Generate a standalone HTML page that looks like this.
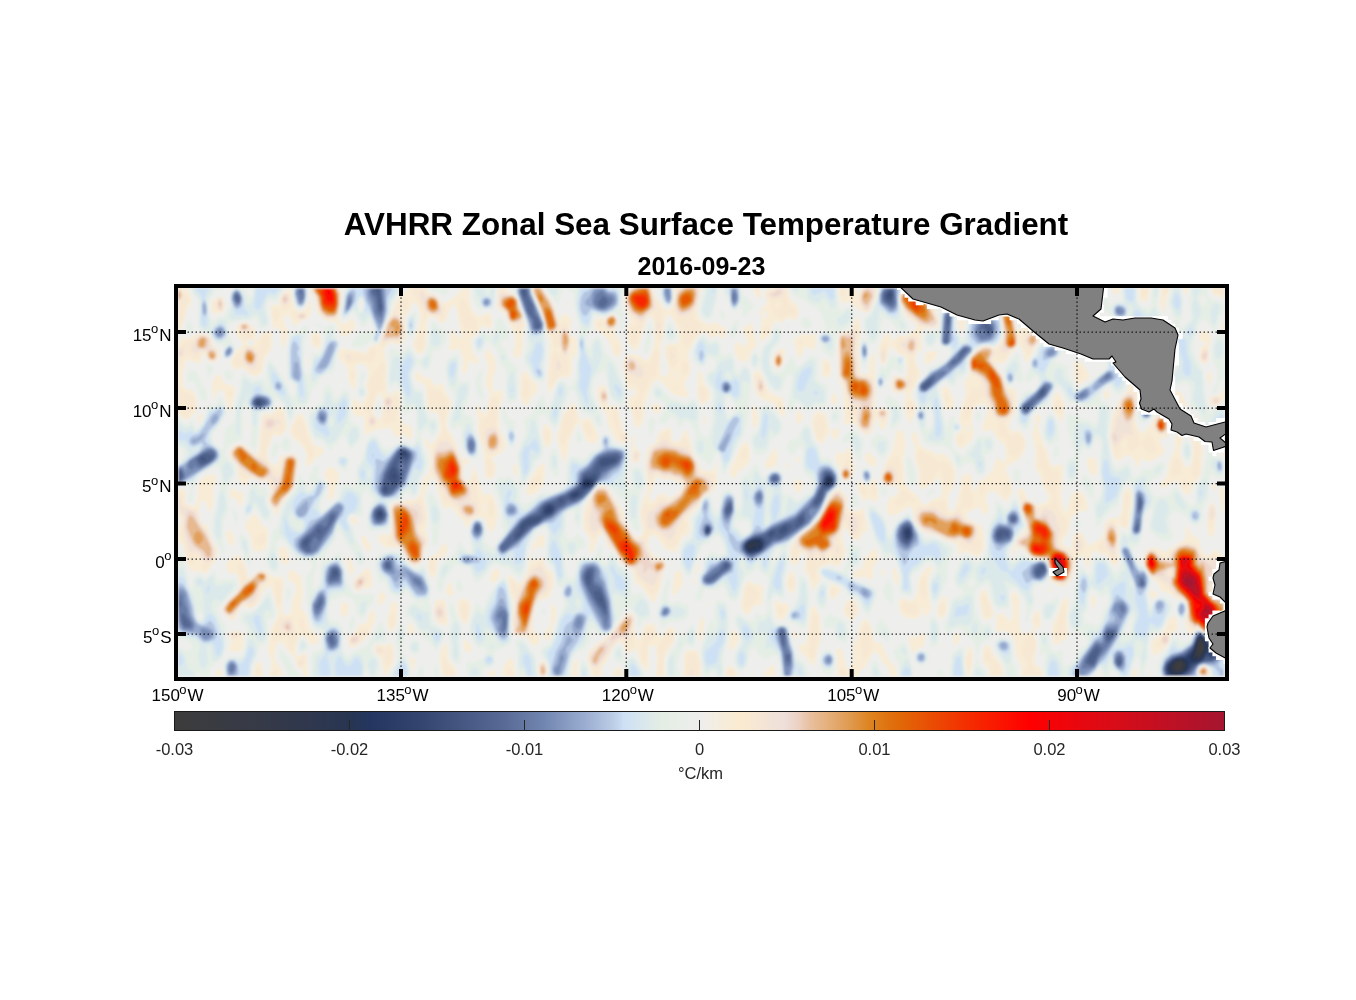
<!DOCTYPE html>
<html><head><meta charset="utf-8"><title>AVHRR Zonal SST Gradient</title>
<style>html,body{margin:0;padding:0;background:#fff;width:1356px;height:1000px;overflow:hidden;position:relative;font-family:"Liberation Sans",sans-serif}</style>
</head><body>
<svg width="1356" height="1000" viewBox="0 0 1356 1000" style="position:absolute;left:0;top:0;will-change:transform">
<rect width="1356" height="1000" fill="#ffffff"/>
<defs><clipPath id="mapclip"><rect x="178" y="288" width="1047" height="389"/></clipPath><filter id="fb" x="-1%" y="-1%" width="102%" height="102%"><feGaussianBlur stdDeviation="0.85"/></filter></defs><g clip-path="url(#mapclip)"><g filter="url(#fb)"><rect x="174" y="284" width="1055" height="397" fill="#eeeeed"/><path d="M179 333l-1 0 0 -45 9 0 4 9 1 5 -5 8 -6 21 -2 2zM283 347l-1 0 -1 -2 0 -12 -1 -4 -1 -1 -5 1 -1 -1 -3 -20 2 -3 6 0 3 -10 5 -4 2 -3 2 0 3 15 2 6 4 2 4 0 3 -3 3 -7 1 -1 1 4 0 9 -2 5 -8 3 -6 5 -1 0 -5 -10 -2 -1 -1 0 -2 3 0 4 4 9 -3 14 -2 2zM346 336l-2 1 -3 -2 -2 -4 -2 -8 -3 -1 -9 -2 -6 -5 -3 -5 -2 -12 -3 -5 -1 -5 31 0 1 6 -1 10 -2 13 0 5 3 1 4 0 6 -4 2 2 1 3 0 4 -2 4 -7 4zM411 439l-2 0 -6 -4 -6 2 -2 0 -4 -8 -2 -1 -14 2 -9 5 -1 0 -1 -6 0 -11 -2 -2 -5 1 -3 -2 -2 -4 0 -5 1 -5 2 -3 2 1 3 6 1 0 5 -8 2 -5 -2 -7 3 -10 -1 -5 -2 -4 -2 -2 -4 0 -5 2 2 7 -1 10 -1 5 -1 1 -1 0 -4 -7 -2 -15 -9 -10 1 -5 2 -3 2 -1 8 2 7 0 6 3 2 -1 5 -6 7 -2 2 -2 7 -21 5 -9 3 -9 6 -8 5 -4 2 -3 19 0 1 4 9 4 5 6 3 1 12 -8 3 -3 1 -4 8 0 1 15 3 9 4 3 3 2 6 -4 3 0 2 3 1 4 0 5 -1 3 -2 1 -5 -3 -2 0 -4 6 -7 7 0 5 2 9 2 3 4 4 -2 5 -2 0 -3 -4 -2 0 -1 2 -2 8 -2 2 -2 1 -1 -3 1 -11 -3 -10 -2 -2 -6 3 -2 -1 -1 -1 2 -19 1 -1 1 1 6 9 1 0 1 -4 -3 -19 -2 -8 -2 -3 -3 2 -5 13 -3 3 -3 0 -5 -6 -5 0 -2 1 -1 7 -1 21 -1 4 -3 3 -3 1 -2 -1 -2 -3 -2 -4 1 -6 5 -14 1 -9 0 -5 -2 -5 -2 -4 -2 0 -2 1 -3 7 -4 6 1 18 -3 8 -3 2 -7 -2 -3 0 -3 2 -2 3 -1 5 3 12 -1 14 1 13 1 2 3 1 5 -6 3 3 2 7 -1 13 0 6 4 6 6 2 2 3 1 6 -2 4zM519 358l-4 0 -2 -4 2 -13 -1 -9 -5 -8 -4 -10 -6 -4 -2 -3 0 -5 1 -14 9 0 1 3 8 5 2 3 2 9 3 7 2 10 -2 9 0 12 -2 9 -2 3zM550 393l-2 -2 -1 -8 2 -21 1 -21 -2 -5 -2 -6 -1 -8 -5 -12 -7 -17 -1 -5 11 0 2 4 7 9 6 15 2 4 3 -6 2 -1 4 4 3 2 0 2 -2 4 0 6 2 6 3 0 2 3 0 12 -2 4 -3 2 0 13 -1 4 -3 3 -7 -1 -3 2 -8 14zM638 427l-2 1 -1 -1 -3 -14 -4 -9 1 -7 1 -1 4 0 1 -2 0 -3 -1 -2 -5 1 -2 -4 -4 -17 0 -6 2 -6 5 -3 9 1 6 5 2 0 2 -2 3 -6 2 -9 0 -20 -2 -6 -2 -1 -2 2 -2 3 -8 28 -2 1 -4 -1 -3 -4 -2 -8 1 -12 3 -5 -7 -16 0 -5 2 -6 3 -5 24 0 3 9 8 11 4 2 3 -2 2 -3 1 -9 0 -8 27 0 -1 8 -3 15 1 5 3 4 6 4 3 0 6 -2 5 4 5 2 0 4 -1 6 -1 1 -1 0 -5 -4 -7 3 -5 -5 -2 -1 -5 3 -5 6 -6 13 3 14 -1 5 -5 10 0 3 3 7 -1 5 -2 0 -5 -2 -7 -1 -12 -14 -3 -1 -4 1 -3 5 -3 10 -3 7 -2 20 -2 2 -3 2zM759 299l-4 -4 -2 -7 8 0 0 7 -1 4 -1 0zM762 341l-2 1 -1 -2 3 -21 -2 -4 0 -3 1 -4 1 -1 2 0 3 -6 0 -2 -3 -4 1 -3 2 -2 5 -2 15 0 3 11 7 6 1 3 1 5 -2 5 -1 2 -2 0 -6 -2 -7 5 -5 -2 -2 1 -1 2 -4 12 -7 5zM867 313l-6 -2 -13 -10 -4 3 -2 0 -2 -6 -2 -10 9 0 1 4 1 0 2 -4 4 0 2 5 1 1 3 -6 16 0 -1 10 -4 9 -2 4 -3 2zM910 423l-2 -2 -4 -13 0 -5 2 -8 0 -2 -11 0 -3 -3 -1 -4 1 -7 2 -4 11 2 1 0 1 -10 -1 -9 -3 -3 -6 -2 -5 -7 -3 4 -3 13 -2 2 -2 -1 -2 -4 -2 -6 1 -7 2 -6 3 -6 2 -2 3 1 4 7 5 -5 3 -1 6 1 9 -7 0 -3 -2 -4 -7 -4 -3 -5 -4 -14 1 -5 2 -3 3 -2 3 0 8 4 6 0 6 6 3 2 2 -2 1 -2 1 -9 27 0 1 11 -2 5 -2 1 -6 -1 -9 4 -7 -2 -2 5 3 10 -1 5 -4 3 -9 -1 -4 4 1 17 -5 4 -2 6 2 7 4 7 -10 21 0 3 4 6 1 4 -3 11 -3 5zM987 294l-6 0 -1 -2 -1 -4 13 0 -2 4 -3 2zM1007 293l-2 -1 -1 -4 4 0 -1 5zM1050 303l-1 0 -5 -12 -1 -1 -4 6 -3 2 -6 -4 -5 0 -2 -2 0 -4 33 0 -1 6 -5 9zM1099 319l-7 -6 -3 -5 -3 -9 -1 -11 11 0 3 24 0 7zM1116 295l-3 -2 -1 -5 8 0 -1 5 -3 2zM1146 301l-4 1 -2 -2 -1 -4 0 -8 11 0 -1 9 -1 3 -2 1zM1164 311l-2 -1 -2 -6 1 -16 9 0 -4 13 -1 9 -1 1zM1187 295l-1 0 -1 -1 -2 -6 5 0 -1 7zM1224 299l-4 -2 -6 -2 -2 -3 -1 -4 13 0 0 11zM222 313l-8 1 -2 -2 -1 -4 0 -4 2 -4 7 -4 3 2 2 5 0 6 -3 4zM1069 330l-2 -1 -1 -1 0 -5 2 -20 1 -4 2 -1 2 2 1 5 -2 20 -1 2 -2 3zM567 307l-1 -4 1 -2 1 3 -1 3zM361 306l-1 0 0 -2 1 -3 1 2 -1 3zM766 318l1 -4 -2 -5 -1 1 -1 7 1 1 2 0zM978 557l-2 0 -9 -5 -3 0 -6 3 -1 -9 -2 -3 -9 -2 -8 -5 -14 -4 -8 -8 -2 -5 -1 -9 -3 -3 -3 0 -7 6 -9 3 -2 -1 -3 -6 2 -8 2 -4 5 -1 2 -2 1 -3 0 -3 -2 -2 -7 1 -4 -2 -4 -4 0 -5 5 -15 7 -11 2 -15 2 -4 3 -1 2 1 2 2 2 11 -1 5 -2 12 2 22 5 7 7 5 4 7 3 3 3 -1 6 -5 5 -1 2 -1 2 -4 0 -4 -2 -9 -1 -3 -5 5 -10 7 -2 0 -2 -1 -1 -4 0 -13 -4 -10 0 -13 -3 -9 0 -7 2 0 3 2 2 10 6 5 3 1 4 1 5 4 6 -2 7 6 2 3 3 8 1 6 -3 12 -5 7 1 12 0 3 2 1 3 -1 2 -4 4 -17 1 -10 2 -4 4 -2 3 1 2 4 1 10 2 4 4 -10 6 -4 8 -9 3 -10 2 -1 7 5 1 -12 -2 -7 -6 -4 -6 -10 -2 0 -5 2 -3 -2 1 -7 5 -12 -1 -4 -3 -3 -8 2 -3 4 -1 14 2 9 -2 7 -5 4 -5 5 -2 -1 -3 -2 -2 -7 1 -4 4 -3 2 -3 0 -3 -3 -5 0 -3 3 -12 4 -12 -2 -11 6 -9 -1 -10 1 -6 6 -8 7 -4 6 0 6 2 3 -2 4 -7 1 -4 -2 -20 3 -4 4 0 3 1 2 2 3 13 2 3 3 -1 6 -7 4 -1 5 1 3 3 4 6 1 4 -10 14 -5 11 -2 2 -1 0 -1 -1 -3 -12 -3 -4 -7 7 -5 8 -3 3 -3 1 -6 -2 8 14 4 10 2 2 5 0 2 3 1 6 -1 13 -2 5 -4 6 -1 5 1 3 2 2 7 0 3 2 3 6 1 6 -2 7 -5 8 -6 2 -4 4 -3 0 0 5 3 5 4 14 -5 11 -1 1 -2 -1 -7 -7 -5 -3 -3 0 -2 2 -2 5 0 4 3 7 -2 5 -2 1 -1 0 -3 -6 -3 -2 -12 7 0 2 2 3 6 3 5 3 3 1 1 2 1 9 0 11 -2 5 -4 4zM962 331l-2 -1 -1 -2 -1 -5 1 -5 3 -4 2 1 1 6 -1 7 -2 3zM619 357l-3 0 -3 -3 -3 -11 -8 -10 -7 -3 -1 -7 2 -4 4 -1 4 1 4 -3 4 -2 3 1 2 2 1 6 -4 9 6 9 2 7 -1 6 -2 3zM666 376l2 -2 1 -3 -4 -18 0 -5 1 -2 2 -2 7 0 3 -1 1 -5 -1 -8 -6 -13 -2 -2 -3 1 -2 5 -2 16 -2 8 0 7 -1 12 1 11 2 2 3 -1zM867 435l-6 -3 -7 -9 -2 0 -5 2 -3 -1 0 -15 -1 -18 -5 -16 -1 -23 1 -15 4 -5 8 -1 7 -15 1 0 1 3 2 14 -3 16 2 23 1 2 3 0 3 0 2 -1 1 -14 2 -6 1 0 1 0 1 7 0 18 1 14 -1 15 1 2 1 0 4 -1 4 0 3 3 1 2 -3 13 -1 3 -2 1 -2 -1 -2 -3 -1 -6 -1 -2 -1 1 -4 12 -2 3 -3 1zM1137 468l-1 -1 -2 -8 -5 -3 -3 -1 -5 5 -3 1 -3 -2 -2 -4 -3 -19 2 -18 6 -16 10 -13 2 -7 -3 -10 -2 -12 -5 -6 -3 -4 -3 -15 -7 5 -4 -1 -2 -3 -1 -5 0 -12 11 3 2 2 3 6 6 -1 2 2 2 6 2 16 4 6 0 11 2 4 5 0 3 -2 3 -4 2 -6 0 -3 -1 -3 -7 -7 0 -4 1 -4 3 -3 4 -1 3 1 1 3 -2 18 5 11 1 5 -3 6 -6 2 -2 2 -5 10 -2 5 -2 21 5 11 2 1 2 -1 8 -9 5 -11 2 -1 3 1 4 2 2 4 2 7 0 7 -3 5 -6 2 -2 1 2 4 4 5 0 2 -1 2 -5 4 -9 5 -8 -3 -2 2 -3 7zM1224 331l-2 -1 -1 -3 1 -4 2 -2 0 10zM257 376l-5 0 -9 -8 -7 2 -3 -2 -3 -5 7 -14 4 -1 1 -1 0 -5 -5 -6 -2 -5 3 -6 4 -3 4 0 3 1 6 5 1 5 1 8 3 -5 3 -3 7 -2 2 2 0 12 -1 5 -6 8 -3 15 -5 3zM748 362l-5 -2 -4 2 -3 -7 -2 -8 2 -4 2 -2 1 1 4 5 2 -1 2 -3 0 -4 -4 -7 0 -3 1 -2 7 -4 2 2 1 9 3 10 0 2 -4 3 -2 3 -3 10zM1206 364l-2 0 -2 -1 -3 -6 1 -8 5 -6 -1 -2 -5 1 0 -1 1 -8 3 -3 6 3 2 4 -2 9 0 12 -1 4 -2 2zM318 349l-4 -2 -3 -4 0 -7 2 -4 5 1 3 4 0 8 -1 3 -2 1zM187 420l-3 -1 -6 -5 0 -71 5 -6 7 1 7 -4 8 0 4 1 2 3 2 7 6 6 1 5 -3 5 -4 2 -5 -2 -4 -7 -2 1 -1 8 -1 1 -11 -4 -3 1 -3 14 0 10 3 4 6 1 2 2 2 5 1 8 -1 7 -9 8zM800 359l-2 -2 -4 -15 0 -2 6 -6 7 1 5 -1 2 0 1 2 1 6 -1 6 -1 2 -2 0 -4 -3 -2 0 -2 2 -4 10zM253 345l2 -2 -2 -3 -3 -1 -2 1 -1 3 1 2 2 1 3 -1zM790 343l-1 -1 2 -2 0 2 -1 1zM1172 368l-2 1 -1 -1 -2 -6 2 -12 1 -4 1 0 3 4 1 8 0 6 -3 4zM780 369l-3 0 -3 -2 -1 -4 -1 -5 2 -4 2 -3 7 -3 2 2 0 5 -2 10 -3 4zM491 479l-4 0 -2 -3 -2 -27 -5 -16 0 -14 -3 -12 0 -2 1 -1 6 8 2 2 2 -1 1 -4 3 -16 -5 -8 3 -18 -1 -5 -3 -6 2 -6 2 -1 6 7 2 8 0 5 -3 9 0 11 1 2 2 1 5 -3 2 3 0 5 -4 11 0 17 1 6 5 8 1 6 -1 4 -2 3 -9 5 -1 2 3 7 0 4 -2 6 -3 3zM571 357l0 -7 -1 5 1 2zM927 365l-2 0 0 -1 0 -11 6 -2 6 0 1 2 -3 6 -8 6zM308 365l-1 -1 0 -4 0 -3 1 -1 1 5 -1 4zM829 377l-2 1 -3 -1 -2 -3 0 -12 1 -2 2 -2 4 3 2 4 0 7 -2 5zM1080 384l-2 1 -2 -2 -2 -7 0 -12 1 -2 2 -1 5 2 6 9 2 4 -2 3 -8 5zM1103 367l-1 1 -1 -1 1 -2 1 0 0 2zM784 417l-3 -2 -8 -12 -10 -3 -7 -6 -2 -9 -1 -11 1 -2 4 -2 1 0 5 9 3 9 3 4 4 3 7 2 2 2 2 13 0 4 -1 1zM417 566l-4 0 -5 -4 -6 -11 -3 -3 -2 -1 -8 1 -4 -1 -6 -5 -1 -4 2 -4 7 1 2 -1 2 -3 0 -13 -1 -10 1 -4 5 -2 7 -1 4 -2 7 1 3 -2 3 -4 1 -4 2 -9 2 -4 4 -5 1 -7 0 -13 -5 -8 0 -6 1 -1 4 7 1 1 5 -6 4 -7 0 -8 -2 -9 -2 -3 -4 1 -2 -1 -3 -6 -1 -16 -2 -6 -2 -2 -5 0 -2 -3 0 -5 1 -2 2 -1 5 7 5 -1 2 1 3 5 2 2 3 0 3 -2 1 0 1 1 2 7 5 7 1 3 0 5 -4 13 0 9 6 9 8 20 2 2 3 -1 4 5 0 1 -5 0 -1 11 0 3 4 4 2 -2 2 -6 0 -8 0 -1 1 1 4 7 4 15 2 6 2 1 6 -2 2 2 4 12 1 8 -2 10 -2 4 -2 3 -3 -1 -4 -11 -1 -2 -2 -1 -5 0 -4 2 -3 3 -3 6 -1 0 -3 -8 -5 -4 -6 -8 -3 -1 -4 2 -2 -1 -8 -27 -2 -3 -2 -1 -7 19 3 18 0 10 -1 7 2 7 0 4 -3 9 -2 9 -3 4 -3 2zM527 405l-2 1 -2 -2 -2 -5 -1 -6 1 -17 2 -4 2 -1 2 1 5 8 5 4 1 3 -1 6 -4 2 -4 8 -2 2zM677 376l1 -2 -1 -2 -2 2 0 2 2 0zM704 405l-2 0 -2 -2 -3 -9 1 -19 1 -4 3 2 2 10 5 7 1 3 0 5 -6 7zM1209 384l-1 -2 -1 -6 1 -4 1 -1 2 2 1 4 -1 5 -2 2zM230 413l-3 -8 -3 -11 -2 -4 -2 0 -2 1 -4 8 -1 0 0 -1 -1 -16 3 -5 3 -3 2 1 5 9 9 2 1 2 0 6 -3 11 -2 8zM624 443l-6 -1 -3 -3 -7 -14 -2 -11 -4 -6 -3 -6 -2 -7 0 -6 1 -2 4 -2 3 1 3 7 0 13 1 1 4 -2 2 0 3 4 5 21 4 4 1 3 -1 4 -3 2zM949 410l-3 0 -1 -2 -3 -13 0 -7 2 -2 2 0 2 2 4 7 2 4 0 8 -2 2 -3 1zM1215 406l-3 -1 -2 -2 -1 -3 0 -2 4 -2 7 -1 2 -5 2 -2 0 13 -6 4 -3 1zM1108 399l-2 0 -2 -3 1 -4 2 -2 2 1 1 3 -1 3 -1 2zM1190 494l-3 1 -3 -2 -6 -12 -5 1 -9 6 -2 0 -2 -2 7 -11 3 -16 5 -9 0 -13 4 -14 -3 -18 -4 -9 1 -3 3 -2 3 0 3 2 4 10 0 7 -3 12 1 3 2 1 2 -1 6 -10 2 0 1 2 1 6 -1 13 6 13 -2 25 -2 4 -6 6 -3 10zM1061 422l-2 -2 -7 -13 2 -11 3 -4 2 1 2 3 4 8 -2 14 -2 4zM835 404l-3 0 -1 -2 1 -6 2 -3 2 2 2 4 -1 3 -2 2zM380 419l2 -5 1 -9 -1 -9 -2 -2 -2 1 -1 2 -4 15 1 2 4 5 1 1 1 -1zM564 462l-1 0 -1 -4 -2 -8 -3 -10 0 -4 3 -11 3 -11 6 -7 4 -5 3 5 4 14 6 -3 4 1 8 14 0 3 -1 5 -2 2 -3 1 -4 -2 -3 -4 -5 -17 -5 7 -5 11 -2 13 -4 10zM658 414l-3 -1 -3 -3 -1 -3 1 -3 6 0 3 2 0 4 -3 4zM755 428l-2 -1 -1 -4 0 -13 2 -4 2 2 2 9 -1 7 -2 4zM276 516l-1 0 -1 -6 -6 -8 0 -3 3 -8 -3 -8 -2 -2 -7 0 -7 -3 -2 1 -4 6 -2 1 -1 -1 -5 -6 -1 -13 -7 -8 -1 -5 1 -4 3 -3 3 -2 4 0 5 1 10 9 2 1 1 -1 4 -38 3 -3 6 1 2 -1 5 -6 2 -1 3 3 2 4 2 15 -2 4 -4 4 -2 0 -4 -1 -3 3 -4 12 0 9 4 5 4 1 1 -1 4 -8 12 -3 2 1 2 2 2 6 -5 26 -10 13 -8 15zM798 424l-1 0 -1 -1 0 -4 0 -5 2 -4 3 3 3 5 -6 6zM823 443l-1 1 -2 -1 -4 -4 -3 -10 -1 -10 3 -6 2 -2 7 2 2 2 4 16 -7 12zM199 423l-1 -1 0 -5 1 -3 2 -1 1 1 0 4 -1 3 -2 2zM307 467l-1 -2 0 -10 -1 -5 -5 -6 -7 -6 -3 -6 0 -4 7 -13 2 -1 3 0 2 3 7 21 2 5 3 3 6 1 2 3 -1 4 -6 3 -7 8 -3 2zM1064 587l-3 0 -10 -5 -2 -4 2 -6 -3 -9 -2 -3 -13 -1 -4 -3 -6 -6 -4 -2 -3 1 -2 6 -1 0 -1 -2 0 -2 3 -5 2 -7 6 -6 3 -4 0 -5 -5 -15 -1 -8 -3 -8 1 -3 3 -2 2 0 4 10 11 7 2 0 6 -3 3 -4 -2 -5 -5 -9 -2 -9 -4 -5 -1 -4 1 -16 -4 -15 3 -10 0 -8 1 -2 2 -1 3 2 0 2 -3 7 1 5 4 12 5 11 2 10 3 3 8 -2 2 3 0 8 -2 19 3 17 2 0 1 -1 4 -15 3 -3 4 -1 5 2 2 3 2 5 1 7 -1 3 -6 0 -8 5 -2 3 -3 14 -5 7 0 3 2 3 4 2 2 1 2 -12 2 -3 4 -2 2 0 2 2 5 11 1 1 5 -4 6 -2 2 -3 3 -12 2 -5 5 -3 5 2 4 -6 1 -4 1 -14 2 -5 2 -2 2 0 1 2 2 6 0 7 -4 25 -1 1 -2 0 -6 -4 -1 0 1 12 -1 10 1 11 -2 7 -2 1 -2 -1 -7 -10 -6 -1 -6 -3 -2 2 -3 13 -1 2 -2 -3 -2 -9 -2 0 -3 1 -3 4 -4 18 -3 4 -5 4zM705 425l-1 0 -1 -3 0 -4 1 -2 1 0 1 3 -1 6zM247 431l-1 -5 0 -2 1 0 1 4 -1 3zM548 448l-2 -1 -1 -1 -3 -12 1 -8 2 -2 2 1 3 3 3 7 -2 7 -3 6zM969 430l0 -3 -1 -1 -1 1 -1 2 1 2 2 -1zM655 603l-1 0 -5 -6 -7 -10 -7 -4 -2 -13 -7 -3 -5 -4 -7 -12 -7 -5 -2 -8 -3 -4 -2 0 -3 6 -4 12 -1 1 -2 0 -1 -3 1 -9 -1 -4 -5 -7 -1 -9 2 -14 6 -11 6 -9 3 -1 4 0 5 3 14 22 3 11 7 12 4 3 2 0 2 -2 1 -2 1 -4 -3 -12 0 -5 2 -10 5 -11 0 -10 -2 -16 2 -14 2 -4 7 -5 3 -10 10 -5 2 1 1 11 3 3 2 0 2 -1 6 -11 2 1 3 8 3 14 9 17 6 1 4 -1 3 -2 2 -7 1 2 -1 7 0 10 -1 6 -2 4 -3 3 -7 4 -6 10 -7 7 -2 4 1 8 0 5 -2 3 -6 4 -6 14 -10 -2 -11 -15 -3 1 -3 3 -1 6 2 6 6 6 6 1 2 2 3 5 -1 3 -3 6 -3 16 -5 13zM837 439l-2 1 -2 -2 -3 -6 2 -2 4 -2 3 1 0 2 0 4 -2 4zM1188 468l2 -2 2 -7 1 -13 -2 -8 -3 -4 -2 0 -4 6 -2 12 1 5 3 7 2 3 2 1zM637 463l-2 0 -2 -1 -2 -4 1 -10 -1 -10 2 -4 1 2 1 11 4 4 2 4 -1 5 -3 3zM735 478l-2 0 -3 -3 0 -6 6 -12 4 -10 3 -4 3 -2 2 3 2 6 0 5 0 5 -4 7 -6 3 -5 8zM1224 458l-3 -4 0 -3 0 -4 3 -3 0 14zM767 469l-2 -3 1 -5 8 -12 2 -1 2 10 -1 5 -2 3 -8 3zM848 481l-4 0 -3 -3 -1 -10 -4 -6 -1 -5 2 -5 2 0 4 2 5 -6 2 1 1 2 4 19 -4 8 -3 3zM342 451l0 -1 1 -1 0 2 -1 0zM178 458l0 -6 1 2 -1 4zM875 467l-2 0 -8 -6 0 -5 2 -4 4 2 5 5 1 5 -2 3zM798 463l-1 0 -1 -2 1 -3 2 -2 1 3 -2 4zM1095 476l-3 -1 -2 -2 -3 -8 0 -5 2 -2 3 -1 3 1 2 5 0 10 -2 3zM788 469l-3 -4 1 -2 3 3 -1 3zM532 495l-3 0 -3 -2 0 -3 2 -6 2 -5 8 -12 5 -4 2 2 0 4 -1 14 -3 5 -6 6 -3 1zM516 477l-2 -3 -1 -5 0 -3 2 -2 2 2 1 5 -1 5 -1 1zM329 500l-1 0 0 -1 1 -15 -5 -9 2 -5 2 -2 3 -1 3 1 3 3 2 4 0 3 -3 8 -2 10 -2 3 -3 1zM206 574l-7 -3 -6 1 -2 -1 -4 -8 -4 -18 -2 -2 -3 0 0 -16 2 -2 1 -4 -1 -3 -2 -3 0 -25 7 -1 1 4 -1 9 5 4 4 0 2 -2 1 -3 1 -14 2 -6 5 -5 8 -2 2 1 1 4 -3 10 1 11 -2 8 -3 5 -4 -12 -2 -1 -2 2 -2 7 0 7 2 5 3 4 4 0 2 11 6 11 2 4 -1 5 -1 4 -10 14zM654 501l4 -6 3 -2 4 1 4 4 7 -4 5 -5 1 -3 -1 -2 -10 -5 -2 0 -5 1 -5 -3 -2 -1 -1 2 -3 10 -4 7 1 5 2 2 2 -1zM877 502l-2 0 -6 -4 -4 3 -1 0 -1 0 -5 -11 0 -5 1 -4 1 0 5 4 3 1 3 -3 3 -6 1 0 3 14 0 8 -1 3zM799 493l-3 -1 -3 -7 1 -3 5 -3 2 1 2 5 -1 4 -3 4zM1215 490l-1 0 -1 -2 0 -5 2 0 2 4 0 2 -2 1zM241 506l-2 -1 -4 -7 -4 0 -1 -1 0 -6 2 -3 2 1 3 3 4 -1 2 2 0 8 -2 5zM1224 515l-2 -5 -3 -19 1 -2 4 -2 0 28zM814 589l-1 1 -1 -1 -3 -11 -5 -9 2 -11 -1 -4 -2 -1 -2 0 -3 10 -3 2 -2 0 -2 -3 -1 -3 0 -11 8 -12 12 -9 9 -10 11 -22 6 -5 4 -1 3 3 4 5 0 10 2 3 8 1 6 -3 1 1 4 20 -1 2 -4 2 -3 6 -3 2 -5 -3 -6 -9 -1 -1 -1 1 -2 8 4 13 -1 4 -1 4 -4 7 -2 2 -3 -1 -4 -2 -8 2 -4 2 -1 5 3 6 -7 10zM1212 537l-3 -1 -1 -3 -1 -10 1 -15 2 -4 2 -1 2 1 1 2 2 7 -2 10 0 10 -2 3 -1 1zM484 511l1 -4 -1 -3 -1 1 0 3 1 3zM262 551l-7 1 -1 -1 -2 -5 -2 -10 -5 -9 0 -3 2 -3 6 -6 2 -1 3 3 4 8 5 3 1 3 0 9 -1 6 -2 4 -3 1zM357 525l-2 -1 -4 -3 0 -2 1 -2 3 0 2 2 1 2 -1 4zM1210 635l-4 -1 -9 -6 -2 3 -3 2 -2 1 -2 -1 -3 -9 2 -13 -1 -8 -4 -4 -3 0 -2 0 -5 -4 -8 -3 -4 -1 -2 -8 -2 -2 -5 -3 -5 -9 -2 -5 -1 -5 1 -4 2 -4 3 -3 2 0 7 0 7 4 19 -12 2 -4 -1 -8 1 -2 3 3 4 7 2 2 3 -1 1 1 1 7 4 10 1 -1 2 1 2 0 5 -5 2 0 2 1 6 7 0 15 -8 13 0 3 1 3 7 3 0 36 -2 -3 -1 0 -5 6 -6 1zM233 546l-4 -2 -2 -4 -1 -7 1 -2 2 -1 3 2 2 5 0 6 -1 3zM369 552l-1 0 -2 -2 -3 -5 -2 -7 1 -3 4 2 4 7 1 4 -2 4zM536 646l-2 0 -2 -1 -6 -8 -10 -1 -2 -1 -1 -2 -1 -8 2 -23 -4 -10 -2 -14 1 -3 2 0 6 7 2 1 4 -3 4 -8 5 -24 6 -11 3 -2 2 0 1 1 1 3 -2 8 -1 1 -5 -1 -2 1 -3 6 0 4 1 2 2 1 6 -4 2 1 4 11 1 1 4 1 1 2 1 11 -2 7 -3 7 -2 1 -7 1 -2 2 -3 6 -2 20 2 4 5 3 1 2 -2 6 -3 3zM433 578l-2 -1 -2 -4 -1 -7 0 -6 4 -5 5 -1 5 -9 3 -2 3 4 -1 5 -3 5 -5 1 -1 2 -2 14 -3 4zM287 564l-4 1 -3 -6 -1 -9 1 -3 2 -1 4 2 3 6 0 8 -2 2zM871 580l-3 -1 -4 -3 -4 2 -3 0 -3 -2 -1 -2 2 -3 7 -3 3 -10 7 -8 2 -1 2 0 1 2 1 7 -1 4 -3 3 -1 11 -2 4zM308 676l-5 0 0 -6 -6 -3 -3 -10 -7 -7 -4 -7 -2 -1 -3 2 -2 2 -1 11 0 3 6 8 3 8 -15 0 3 -14 -4 -10 0 -4 3 -20 6 -10 1 -6 -7 -25 -2 -1 -5 4 -6 13 -5 5 -4 1 -5 -3 -2 0 -2 3 -4 9 -3 3 -3 -1 -7 -7 -1 -4 1 -3 7 -8 7 -7 3 -4 -1 -6 -2 -7 -2 -1 -4 1 -2 -1 -3 -6 0 -3 2 -3 6 -4 3 -3 3 2 4 6 3 7 1 9 3 -1 7 -6 5 -1 4 1 5 6 7 -1 4 2 1 4 -2 28 1 3 2 2 3 0 3 -3 1 -10 4 -12 -1 -6 -8 -5 1 -4 2 -5 2 -1 4 4 4 2 1 1 2 15 -2 17 5 6 4 15 2 2 5 4 2 4 -2 4 -4 2 -2 0 -5 -7 -4 -2 -3 1 -1 3 -2 8 0 7 2 2 6 -4 3 2 0 4 0 7 1 10zM351 575l-1 0 -1 -3 -3 -13 1 -3 3 2 4 10 0 4 -3 3zM696 575l-1 -1 1 -7 2 -4 1 1 0 4 -3 7zM916 619l-9 -1 -5 -3 -3 -6 0 -7 1 -3 3 -1 3 1 4 2 4 -2 3 -5 1 -12 2 -6 6 -8 4 -2 2 1 0 3 -3 8 -1 8 3 23 -3 5 -3 3 -2 -3 0 -6 -1 -3 -1 10 -3 3 -2 1zM897 585l-1 0 -1 -1 -1 -4 -2 -10 1 -2 3 1 2 6 1 5 -2 5zM359 591l-3 0 -2 -2 -1 -4 1 -5 3 -4 9 -7 2 -1 2 2 2 6 1 6 -1 4 -3 3 -4 -1 -6 3zM494 582l-2 1 -2 -2 0 -5 3 -6 4 -2 3 3 0 4 -2 4 -4 3zM883 576l-1 -1 -1 -4 1 -2 1 0 2 3 -2 4zM673 596l-1 -3 2 -18 1 -3 3 -2 2 1 2 3 1 9 -1 3 -6 8 -3 2zM793 593l-2 0 -2 -1 -3 -8 1 -7 4 -6 2 1 1 1 2 8 -1 8 -2 4zM694 585l-1 -1 0 -3 2 -7 0 7 -1 4zM749 614l-2 1 -3 -2 -2 -4 -1 -4 3 -18 3 -5 3 -1 7 4 5 -1 1 3 -1 18 -1 1 -4 -1 -2 0 -6 9zM450 596l-3 0 -1 -4 1 -6 3 -4 2 2 2 8 -1 3 -3 1zM833 600l-2 -1 -2 -5 1 -8 1 -2 6 2 4 4 -5 7 -3 3zM1051 592l-2 0 0 -1 1 -4 1 0 1 2 0 2 -1 1zM988 620l-3 0 -2 -2 -4 -19 1 -6 4 -4 2 1 1 2 7 21 -1 4 -5 3zM1152 599l-1 0 -1 -4 0 -4 1 -1 7 3 -2 3 -4 3zM379 606l-1 -3 0 -7 2 -3 3 -1 2 2 1 4 -4 6 -3 2zM1043 676l-22 0 0 -11 -5 -10 -1 -13 -2 -4 -3 -4 -5 -3 -3 0 -4 1 -2 -1 0 -13 1 -3 4 -2 2 0 6 8 1 0 2 -3 1 -7 -2 -15 1 -3 1 -1 2 0 2 2 3 6 -1 12 1 17 2 4 2 1 10 -4 -2 -9 1 -6 3 -5 2 0 1 2 2 8 0 5 -2 3 -5 3 3 14 -3 16 2 4 4 2 2 2 1 7zM943 618l-2 1 -2 -2 -2 -4 0 -4 4 -10 2 -3 2 0 2 2 0 11 -1 5 -3 4zM1093 609l-1 0 -1 -9 0 -3 2 -2 2 2 1 4 -3 8zM465 624l-2 -1 -4 -7 -2 -11 2 -5 5 -2 5 3 2 6 -2 11 -2 5 -2 1zM1057 645l-2 1 -2 -4 -1 -15 5 -12 5 -14 2 -3 2 -1 2 2 1 2 -2 16 1 19 -2 3 -4 2 -5 4zM447 625l-3 1 -5 -3 -3 -2 -1 -3 -1 -9 1 -7 2 -2 7 -1 1 1 3 20 -1 5zM852 620l-2 0 -2 -1 -4 -5 -1 -3 3 -9 2 -2 3 0 3 0 2 2 3 7 -2 6 -5 5zM781 620l-4 -1 -1 -3 -2 -12 1 -3 1 -1 5 3 6 0 2 3 0 3 -4 9 -4 2zM345 617l-3 -1 -2 -6 1 -6 3 -2 3 1 2 4 -1 6 -3 4zM393 631l-2 1 -2 -2 -2 -5 0 -4 4 -18 1 -1 2 -1 3 2 1 4 -1 16 -4 8zM708 606l-1 -2 1 -3 1 1 0 2 -1 2zM548 641l-3 -2 -1 -4 1 -3 5 -7 1 -18 1 -3 1 0 2 2 1 3 0 7 -4 12 -1 9 -1 3 -2 1zM814 665l-2 0 -2 -2 -6 -8 -3 -2 -2 -6 1 -4 4 2 2 -2 3 -18 1 -14 3 -6 3 3 4 8 1 16 0 7 -5 20 -2 6zM877 611l-1 -1 1 -3 0 4zM732 612l0 -2 1 0 -1 2zM354 647l-4 1 -1 -2 -2 -5 1 -4 7 -5 4 -8 5 0 2 -1 4 -11 2 -2 2 0 1 3 0 7 -6 16 -11 9 -4 2zM664 676l-8 0 1 -20 -2 -9 -2 -2 -3 1 -1 3 0 17 -2 6 -7 -10 -3 -11 -2 -1 -6 3 -2 0 -2 -3 -2 -6 -2 -2 -4 1 -5 6 -4 11 -6 7 -1 9 -9 0 -1 -6 -4 -10 1 -6 1 -3 8 -8 7 -4 8 -7 6 -9 7 -9 3 -1 2 0 4 2 1 3 -1 10 4 11 1 1 2 -3 3 -11 3 -2 5 -1 3 2 3 10 2 2 2 -1 5 -7 2 -2 3 0 3 3 0 5 -1 7 -6 9 -3 6 0 19 -1 0zM1155 656l-2 -2 -2 -5 1 -8 2 -3 5 -2 5 -5 5 -12 5 -4 3 4 1 7 0 3 -2 2 -5 3 -2 8 -3 5 -9 8 -2 1zM700 641l-1 1 -1 -2 0 -11 2 -9 1 -2 2 -1 1 2 0 5 -2 13 -2 4zM897 676l-7 0 -2 -9 -5 -3 -3 -8 -4 -4 -2 0 -2 3 -7 12 -5 4 -2 5 -21 0 0 -15 -1 -11 3 -2 3 1 4 17 2 3 2 1 3 -9 0 -17 1 -2 3 -2 2 -11 3 -8 2 -2 2 0 3 3 2 3 3 16 2 2 4 -1 2 2 7 16 5 5 2 3 1 8zM412 635l-2 0 -2 -4 0 -6 2 -2 2 1 2 5 0 4 -2 2zM240 652l-6 -1 -4 1 -1 -1 0 -5 3 -4 -3 -5 0 -2 2 -4 4 0 7 1 1 1 0 14 -1 3 -2 2zM731 651l-1 0 -1 -2 1 -12 2 -6 2 -1 4 4 1 6 -2 4 -6 7zM797 638l-2 1 -2 -3 0 -3 1 -2 2 1 1 2 1 3 -1 1zM913 653l-1 0 -2 -7 -1 -6 0 -3 2 -1 5 1 8 -4 1 2 0 4 -1 7 -7 3 -4 4zM956 645l-2 0 -1 -1 0 -5 1 -4 3 -2 2 2 1 4 -2 4 -2 2zM470 653l-4 -1 -2 -3 0 -6 1 -3 3 1 3 4 1 5 -2 3zM385 676l-2 -5 -2 -13 -6 -5 -1 -4 1 -3 2 -1 3 -1 5 2 4 -3 2 -1 2 3 1 4 0 11 -2 6 -7 10zM943 647l-1 0 0 -2 0 -2 1 -1 0 5zM456 676l-14 0 -3 -19 2 -7 4 -7 2 1 0 2 2 14 7 9 1 6 -1 1zM1003 676l-13 0 -2 -8 -5 -5 -1 -4 1 -9 1 -3 2 -2 2 0 2 1 4 9 6 7 3 7 0 7zM970 676l-3 0 -2 -13 2 -13 2 -4 2 1 1 2 1 7 0 7 -3 13zM701 676l-18 0 1 -21 1 -3 2 -2 5 0 4 0 2 1 3 14 0 11zM413 673l-3 -14 1 -2 3 1 2 2 -3 13zM514 676l-12 0 1 -9 5 -7 3 -3 2 3 1 4 1 12 -1 0zM577 676l-5 0 1 -12 3 -5 2 1 0 3 0 13 -1 0zM546 676l-7 0 -1 -10 1 -3 2 -2 4 1 2 4 1 5 -2 5zM262 676l-9 0 2 -10 2 -3 2 -1 2 1 1 3 1 10 -1 0zM737 676l-12 0 1 -7 2 -3 2 -1 3 2 4 6 1 3 -1 0zM775 676l-11 0 2 -6 7 -5 2 1 0 2 0 8zM1210 676l-10 0 -2 -3 1 -4 3 -3 4 0 4 5 0 5zM222 676l-7 0 2 -6 3 -2 1 1 1 7zM623 676l-11 0 2 -6 2 -2 3 -1 3 2 1 4 0 3zM1137 676l-5 0 1 -4 2 -4 1 0 1 2 0 6zM495 676l-8 0 2 -4 6 -3 0 7zM1150 676l-2 0 1 -3 2 3 -1 0zM430 676l-2 0 1 -2 1 2zM1100 676l-3 0 2 -3 1 0 1 3 -1 0z" fill="#f8ecd6" fill-rule="evenodd"/><path d="M336 320l-10 -1 -5 -4 -3 -6 -2 -11 -5 -6 0 -4 29 0 1 5 0 12 -3 11 -2 4zM424 323l-2 -13 -4 -8 -5 -8 -1 -6 14 0 1 6 6 1 4 2 5 7 4 4 0 6 -3 6 -2 0 -5 -4 -8 -1 -2 2 -2 6zM519 333l-3 -5 -7 -6 -3 -9 -6 -4 -2 -3 0 -5 1 -13 6 0 1 4 8 3 4 5 5 18 0 8 -4 7zM552 385l-2 1 -1 -5 3 -25 3 -6 4 5 2 1 0 -3 -2 -7 -1 0 -3 2 -3 -12 -4 -3 -2 -3 -1 -9 -5 -12 -7 -16 0 -5 9 0 2 4 8 10 8 24 1 0 3 -4 1 0 2 3 3 12 1 7 -4 15 2 7 -1 6 -2 2 -5 1 -3 2 -6 8zM634 345l-2 0 -2 -3 -1 -5 0 -5 1 -5 5 -2 1 -4 -1 -2 -6 -6 -3 -6 -1 -5 1 -6 4 -8 21 0 4 11 8 13 0 14 -1 8 -2 5 -2 1 -2 -6 -2 -17 -1 -3 -3 0 -5 5 -2 8 -4 7 -2 8 -3 3zM687 348l-2 -1 -2 -4 -1 -15 -6 -8 -3 -10 3 -19 0 -3 24 0 -1 10 -5 17 1 4 6 5 1 3 -6 8 -6 10 -3 3zM758 293l-2 -2 0 -3 3 0 -1 5zM781 319l-2 -1 -6 -6 -2 -5 0 -6 -4 -5 -1 -2 2 -3 7 -3 11 0 2 13 2 4 5 3 1 2 0 4 -1 2 -2 0 -4 -2 -8 5zM843 297l-2 -3 -1 -6 5 0 -1 6 -1 3zM868 312l-2 0 -2 -1 -4 -6 -1 -6 1 -6 2 -5 14 0 -1 10 -4 10 -3 4zM947 304l-4 0 -2 -3 -2 -6 0 -7 22 0 0 7 -2 4 -6 1 -6 4zM985 291l-3 0 -1 -3 7 0 -1 2 -2 1zM1036 294l-3 -2 -2 -4 9 0 -2 4 -2 2zM1051 295l-2 0 -2 -7 7 0 -1 5 -2 2zM1093 306l-2 -1 -2 -3 -2 -6 0 -8 8 0 0 13 -2 5zM1145 297l-2 1 -2 -2 0 -8 8 0 -1 5 -3 4zM1164 297l-1 -1 0 -8 6 0 -2 5 -3 4zM1224 295l-4 -2 -5 0 -2 -2 0 -3 11 0 0 7zM179 328l-1 1 0 -41 1 0 3 2 2 4 4 2 1 4 -4 8 -2 12 -2 6 -2 2zM935 327l-3 1 -11 -1 -7 -7 -8 -5 -6 -14 1 -6 2 -3 3 -2 3 0 7 4 6 1 3 2 8 10 5 13 0 4 -3 3zM283 310l-2 0 0 -1 0 -11 3 -5 4 0 2 3 1 12 -8 2zM221 312l-6 -2 -2 -3 1 -4 4 -5 2 -1 3 2 1 5 -1 6 -2 2zM381 348l-1 -3 1 -5 6 -18 9 -13 2 -5 3 -4 2 -2 3 0 2 2 1 3 -2 7 -2 0 -5 -1 -2 1 6 13 0 9 -1 7 -2 3 -2 1 -7 -2 -3 1 -8 6zM853 299l0 -2 0 2zM475 331l-2 0 -4 -1 -4 0 -2 -3 -3 -10 -1 -10 0 -5 3 -3 3 1 6 14 7 8 0 5 -3 4zM778 309l3 -2 1 -3 -1 -2 -2 -2 -3 1 -1 2 0 5 1 1 2 0zM277 321l-2 1 -2 -4 -1 -6 2 -3 4 1 2 2 -1 5 -2 4zM301 320l-4 0 -2 -1 -3 -5 0 -3 5 2 8 -1 2 -2 0 7 -2 2 -4 1zM1017 456l-7 -1 -1 -1 -3 -14 -2 -2 -4 -2 -2 -3 0 -3 1 -7 -5 -6 -5 -12 -5 -7 -2 0 -9 7 -5 14 -4 1 -1 -4 1 -10 7 -16 2 -2 6 1 2 -4 0 -3 -1 -2 -7 -5 -2 -3 -2 -7 1 -7 6 -7 8 -5 5 0 6 4 2 0 5 -9 2 -5 -2 -21 1 -2 3 -2 4 1 3 3 5 23 0 5 -2 4 -6 5 -6 8 -3 0 -6 -4 -3 2 0 2 10 16 5 13 2 2 4 1 1 3 1 11 -1 6 -3 4 -6 6 0 2 2 7 2 4 3 0 7 -1 4 4 1 5 -1 5 -3 6 -3 2zM612 330l-3 1 -2 -1 -2 -3 -1 -4 1 -4 2 -2 3 -2 3 0 3 2 2 5 -2 4 -4 4zM489 325l-2 -1 -2 -3 0 -3 2 -2 2 2 1 2 0 3 -1 2zM600 328l-2 -1 -1 -3 1 -2 2 -2 1 1 2 4 -1 2 -2 1zM247 339l-2 1 -3 -3 -3 -8 0 -4 4 -2 4 0 2 1 2 2 1 5 1 3 0 4 -6 1zM867 433l-4 -1 -4 -4 -6 -14 -4 5 -1 0 -1 -1 1 -9 0 -7 -4 -18 -4 -6 -1 -4 -1 -27 1 -10 2 -3 2 -1 8 -1 5 -8 2 3 1 6 -2 18 1 22 3 2 11 2 2 5 1 5 0 7 -2 10 2 11 -3 14 -2 3 -3 1zM1029 355l-2 0 -5 -11 -1 -5 1 -4 4 -3 2 -5 2 -2 2 1 2 4 4 3 1 5 -2 6 -5 6 -3 5zM766 335l-2 -1 0 -4 1 -3 3 -2 1 2 0 3 -1 3 -2 2zM1106 336l-2 -1 -1 -4 1 -4 2 -2 3 2 1 3 -1 4 -3 2zM713 332l-1 1 -1 -2 2 -2 1 1 -1 2zM422 350l-3 1 -2 -2 -2 -5 2 -6 5 -7 1 0 1 4 1 7 -1 5 -2 3zM901 392l-4 0 -3 -2 -1 -4 0 -5 1 -3 2 -1 5 0 5 2 1 -1 2 -19 -2 -5 -9 -3 -2 -4 0 -4 2 -4 2 -2 6 1 6 -4 3 0 3 2 1 7 0 4 -6 11 4 14 0 5 -5 11 -2 1 -9 3zM1123 353l-2 -1 -2 -2 -2 -6 1 -8 3 -2 3 2 1 6 0 7 -2 4zM179 366l-1 1 0 -20 7 -6 7 -1 7 -5 6 0 4 2 3 4 0 5 4 3 2 3 0 4 -2 4 -3 2 -4 -1 -2 -3 -1 -5 -2 -1 -3 1 -1 5 -2 2 -3 -1 -9 -4 -3 3 -2 6 -2 2zM255 374l-4 -1 -8 -8 -6 2 -2 -1 -2 -3 1 -3 3 -6 5 -2 4 -7 4 1 3 0 3 3 2 1 1 -2 3 -11 2 -2 3 0 2 1 1 3 -1 8 -6 10 -2 13 -3 3 -3 1zM318 345l-2 0 -2 -3 -1 -4 2 -3 3 1 2 3 -1 4 -1 2zM801 345l-1 1 -1 -3 1 -3 1 -1 1 0 1 2 -2 4zM519 349l0 -6 0 -1 1 -1 0 5 -1 3zM884 363l-2 0 -1 -2 -1 -8 2 -7 4 -5 1 2 0 8 -1 9 -2 3zM575 349l0 -4 0 4zM617 353l-2 -2 0 -3 0 -3 2 -1 1 2 1 3 0 3 -2 1zM674 367l-2 0 -2 -2 -3 -9 0 -7 1 -2 2 -1 6 1 2 4 0 10 -2 4 -2 2zM1206 362l-2 1 -2 -2 -2 -4 2 -7 3 -3 2 1 2 5 -1 6 -2 3zM371 364l-6 -4 -8 3 -9 0 -3 -4 -1 -5 3 -2 6 0 4 0 8 4 6 -7 3 -1 2 2 1 2 -6 12zM638 421l-2 -1 -1 -3 -2 -11 1 -3 5 -6 0 -7 -3 -5 -6 -1 -2 -2 -1 -6 -3 -7 0 -6 3 -6 4 -1 16 8 3 -3 5 -11 2 -1 2 6 -2 19 -7 6 -8 17 -1 4 0 15 -1 3 -2 2zM780 368l-2 1 -2 -2 -3 -6 2 -6 2 -3 2 -1 3 2 1 4 0 6 -3 5zM1172 364l-2 0 -1 -3 0 -6 2 -4 2 3 0 3 0 5 -1 2zM930 358l-1 1 -1 -2 2 -2 1 1 -1 2zM373 427l-3 0 -2 -2 -1 -4 2 -7 -4 -4 0 -4 4 -11 -1 -10 2 -6 4 -8 4 -3 4 -7 1 0 2 6 0 20 -2 4 -5 0 -3 4 -2 12 -2 6 5 5 1 4 -1 3 -3 2zM684 375l-2 -3 0 -5 1 -4 2 -2 2 2 1 6 -1 4 -3 2zM828 373l-2 0 -2 -4 0 -4 2 -3 2 1 1 3 0 4 -1 3zM1080 377l-2 0 -1 -3 0 -5 1 -3 3 2 2 4 -1 3 -2 2zM353 381l-1 -2 -1 -4 1 -2 1 -1 1 4 -1 5zM1148 377l-2 0 0 -2 2 -2 2 0 1 2 -3 2zM765 396l-5 -1 -3 -5 -2 -13 2 -3 4 3 3 4 2 13 -1 2zM526 400l-2 -1 -1 -2 -1 -5 1 -11 2 -3 2 1 2 3 1 5 -1 8 -3 5zM1119 456l-2 1 -2 -3 -4 -16 3 -21 7 -18 6 -6 6 -5 4 -9 2 -1 3 0 0 2 -1 4 -5 8 0 17 -2 14 3 6 3 14 1 0 7 -9 2 -1 2 3 4 11 1 4 -2 1 -6 2 -9 -10 -6 7 -3 0 -3 -2 -1 -8 -2 -2 -2 1 -2 4 0 9 -2 3zM218 384l-1 -1 1 -1 0 2zM188 416l-2 1 -2 -1 -6 -6 0 -26 6 8 8 2 2 4 1 6 -1 5 -2 4 -4 3zM703 401l-3 -2 -1 -4 0 -6 2 -4 5 4 2 5 -2 5 -3 2zM468 520l-7 -5 -4 -7 -2 -2 -6 -3 -4 1 -1 0 -2 -4 -1 -8 -5 -13 -4 -7 1 -22 2 -5 6 -11 2 -8 -5 -18 -2 -2 -3 2 -2 0 -2 -3 -1 -8 0 -8 1 -2 12 5 7 9 0 5 -4 13 0 8 7 11 11 24 1 5 0 11 3 4 3 2 2 -1 3 -8 1 0 1 2 4 35 -1 2 -11 6zM676 389l-1 1 -1 -1 -1 -2 1 -1 2 1 0 2zM604 405l-3 -2 -2 -7 1 -5 3 -3 3 1 2 7 -1 6 -3 3zM230 397l-2 -1 -1 -2 1 -3 1 -1 2 1 1 1 0 3 -2 2zM949 402l-2 -1 -2 -5 0 -3 1 -1 3 7 0 3zM395 423l-3 -1 -6 2 -3 -2 1 -21 1 -4 2 -1 7 1 2 -3 2 2 1 4 -4 23zM490 455l-2 0 -1 -1 -6 -17 -1 -12 1 -5 5 -2 2 -2 3 -16 2 -3 2 0 3 1 0 2 -2 25 6 14 0 5 0 3 -4 5 -3 2 -5 1zM1216 405l-4 -1 -1 -3 0 -2 4 -3 6 2 1 1 -1 2 -2 3 -3 1zM1060 414l-3 -3 -2 -5 1 -4 2 -2 2 0 2 5 0 6 -1 3 -1 0zM1182 414l-2 0 -1 -3 -1 -7 1 -4 3 2 2 4 0 4 -2 4zM910 413l-2 -1 -2 -5 0 -4 2 -2 4 1 2 4 -1 4 -3 3zM781 409l-3 -5 0 -2 1 -1 2 2 1 3 0 2 -1 1zM564 445l-1 0 -2 -3 -1 -5 3 -18 2 -5 8 -6 2 2 1 4 0 6 -12 25zM625 442l-3 -1 -2 -2 -7 -18 -1 -9 1 -3 1 -1 2 2 1 2 4 21 4 1 2 2 0 3 -2 3zM883 423l-7 -9 2 -3 4 -2 4 1 2 3 0 3 -5 7zM277 510l-2 -1 -2 -1 -4 -6 0 -3 3 -10 -4 -8 -2 -1 -6 1 -8 -4 -7 1 -4 -1 -2 -3 -1 -8 -7 -8 -1 -5 1 -3 3 -3 3 -2 3 0 4 1 12 10 3 0 1 -2 3 -36 3 -2 8 -1 7 -3 2 1 2 6 0 9 -2 3 -2 2 -2 0 -4 -2 -3 3 -5 13 -1 7 1 6 5 7 7 5 2 -4 1 -8 1 -2 3 -2 4 -2 4 1 3 3 1 4 -4 26 -10 11 -5 9 -2 2zM1164 435l-5 0 -4 -4 -1 -3 0 -5 1 -4 3 -4 2 -1 3 0 2 2 3 6 0 9 -2 3 -2 1zM821 439l-2 0 -2 -3 -3 -9 1 -8 3 -4 2 0 3 2 3 7 -1 9 -2 4 -2 2zM311 458l-1 1 -1 -2 -3 -10 -5 -6 -7 -5 -1 -3 0 -4 1 -4 3 -6 2 -1 2 1 2 2 7 23 4 7 0 3 -3 4zM592 435l-2 1 -2 -1 -3 -4 -1 -5 2 -4 3 0 2 3 2 6 -1 4zM548 442l-2 0 -2 -6 0 -5 2 -2 2 1 2 4 0 5 -2 3zM653 595l-3 -1 -7 -10 -6 -5 -3 -10 -8 -2 -5 -5 -7 -12 -6 -6 -3 -8 -3 -4 -2 -1 -1 1 -3 5 -2 2 -2 -1 -6 -9 -1 -9 2 -11 5 -14 6 -8 6 0 4 2 4 7 7 12 4 11 10 16 3 3 2 1 5 -3 1 -2 1 -4 -4 -16 1 -5 2 -5 2 -1 5 3 2 0 6 -8 3 -1 2 0 3 4 2 0 10 -7 4 -7 0 -3 -3 -3 -10 -4 -6 1 -7 -4 -3 2 -2 8 -2 2 -1 -1 -3 -19 3 -14 1 -3 7 -6 5 -9 5 -3 2 1 2 10 3 2 5 0 5 -6 2 0 2 4 4 11 5 10 3 9 2 1 12 1 1 2 0 4 -1 6 -4 6 -6 4 -6 9 -6 5 -7 7 -1 4 3 4 0 3 -7 6 -3 10 -2 3 -4 0 -4 -1 -8 -12 -3 -2 -4 1 -5 4 0 8 2 7 6 7 8 1 3 5 -1 3 -3 6 -4 15 -2 3 -3 3zM962 444l-3 0 -1 -4 1 -4 3 -2 2 2 0 3 0 3 -2 2zM1179 443l-1 0 0 -1 0 -4 1 -3 1 -1 0 4 -1 5zM1064 585l-3 0 -10 -5 -1 -2 1 -5 -4 -13 -3 -1 -8 0 -4 -1 -4 -4 -4 -5 -6 -3 -2 -2 0 -3 2 -3 6 -3 3 -4 -1 -7 -5 -15 0 -14 1 -1 4 5 7 3 6 7 7 -4 5 -1 2 -3 -1 -6 -7 -11 -2 -11 -5 -8 0 -21 1 -2 5 9 5 17 3 2 6 0 2 3 -3 18 0 7 4 16 2 3 4 2 1 4 -1 7 -6 7 -1 3 0 3 2 3 12 9 0 3 -1 10 -2 9 -3 5 -4 3zM1197 477l-2 1 -2 -1 -2 -5 3 -14 1 -12 1 -3 3 3 1 4 -1 9 1 12 -1 3 -2 3zM745 459l-3 0 -1 -4 2 -5 2 -2 2 2 0 3 0 3 -2 3zM948 485l-2 1 -2 -3 -3 -12 -1 -2 -8 11 -7 4 -2 0 -1 -1 -1 -14 -4 -11 0 -4 2 -3 3 -1 5 4 5 2 7 6 4 -1 7 3 3 6 0 6 -2 7 -3 2zM636 462l-2 -1 -1 -4 0 -4 2 -3 2 1 2 1 1 4 -1 4 -3 2zM848 480l-3 1 -2 -1 -2 -6 1 -5 6 -13 1 0 2 17 0 4 -3 3zM892 485l-4 1 -4 -2 -2 -4 0 -4 7 -15 9 -6 1 2 2 10 0 11 -2 4 -7 3zM1174 477l-2 0 -1 -1 0 -6 2 -8 2 -4 2 -1 2 2 2 5 1 8 -1 2 -7 3zM491 476l-3 0 -2 -4 0 -10 1 -4 1 -1 4 5 2 5 0 5 -3 4zM533 490l-2 0 -1 -1 0 -6 3 -4 7 -5 1 3 -1 4 -4 7 -3 2zM1186 489l-2 -1 -1 -3 0 -4 1 -2 2 2 1 3 0 3 -1 2zM978 553l-3 0 -7 -4 -5 -1 -3 -5 -2 -1 -11 -2 -9 -5 -15 -5 -5 -5 -3 -6 0 -5 2 -6 2 -1 8 0 6 -5 6 0 4 -2 2 2 3 11 2 1 2 0 8 -8 4 -22 1 -2 2 -1 7 18 0 4 -2 3 -2 2 -8 0 0 3 4 9 8 3 4 6 1 8 2 2 1 5 -1 5 -3 4zM1007 496l-2 0 -1 -1 -3 -5 2 -5 3 -3 2 0 2 6 -1 5 -2 3zM875 496l-3 -2 -1 -4 3 -7 1 0 1 6 0 5 -1 2zM982 495l-1 1 -1 -2 0 -5 2 -3 2 -1 1 4 -3 6zM865 495l-2 0 -2 -3 0 -5 2 0 3 3 1 2 -2 3zM899 506l-5 -1 0 -3 4 -4 4 -8 2 -1 4 3 6 8 1 2 -1 1 -4 -2 -2 0 -9 5zM814 581l-1 0 -6 -12 0 -13 -1 -3 -3 -2 -3 0 -4 7 -2 1 -2 -1 -1 -3 1 -7 6 -12 12 -9 9 -9 11 -21 5 -5 4 -2 3 3 4 5 1 15 1 0 5 0 9 1 2 4 0 5 -5 13 -3 2 -3 -1 -2 -2 -5 -11 -1 -1 -1 1 -6 15 5 11 0 4 -2 5 -3 4 -3 0 -2 -4 -1 -8 -1 0 -2 1 -2 2 1 9 -8 3 -3 2 -1 3 -1 7 -1 3zM1125 527l-3 -3 -1 -4 3 -10 0 -12 1 -3 2 -3 2 2 1 6 -3 11 0 13 -1 3 -1 0zM206 571l-2 0 -2 -2 1 -7 -5 -7 -2 0 -1 1 -1 7 -1 2 -3 -1 -2 -4 -4 -18 -3 -8 2 -14 -1 -3 -4 -5 0 -18 4 -1 2 2 -1 7 1 2 7 4 5 0 1 1 4 14 2 3 4 4 3 8 6 10 0 5 -1 5 -9 13zM1224 504l-1 -6 1 -4 0 10zM1074 511l-1 0 -1 -2 2 -9 3 -3 4 0 2 2 0 3 -6 7 -3 2zM416 565l-3 0 -4 -3 -7 -12 -3 -3 -3 -2 -6 0 -2 -1 -1 -2 5 -11 -1 -22 1 -4 3 -2 3 -1 16 0 7 -5 2 4 3 17 -1 6 -2 2 -3 2 0 3 6 6 1 4 -3 9 -1 9 -3 4 -4 2zM492 517l-3 -2 -1 -3 0 -10 2 -4 2 1 2 8 0 7 -2 3zM1211 530l-1 -2 -2 -15 1 -6 3 -3 2 1 1 2 1 7 -5 16zM256 525l-1 -1 0 -3 1 0 0 1 0 3zM1116 562l-2 1 -2 -2 -5 -9 -2 -1 -5 1 -2 -4 0 -3 5 -5 4 -16 4 -3 2 0 2 3 3 11 -1 13 1 9 -2 5zM264 544l-2 1 -5 -1 -2 -1 0 -4 3 -4 5 -2 2 1 1 5 -2 5zM1079 554l-4 0 -2 -10 2 -7 4 -2 2 0 2 2 2 8 -2 6 -4 3zM1213 634l-6 0 -10 -7 -2 3 -2 0 -2 0 -4 -8 1 -12 -2 -8 -3 -3 -6 -2 -5 -5 -9 -7 -6 -6 -6 -2 -5 -8 -2 -4 0 -6 2 -6 3 -3 3 -1 5 2 7 7 2 0 4 -6 7 -6 9 -4 3 -1 8 4 6 12 5 1 6 -4 3 1 5 9 0 9 -2 5 -6 9 -1 4 -1 1 1 2 1 -1 2 2 8 1 0 33 -1 0 -3 -4 -4 7 -3 2zM817 564l2 -5 -1 -3 -1 0 -1 6 0 2 1 0zM433 572l-2 -1 -2 -5 1 -5 2 -2 2 2 1 4 0 5 -2 2zM232 618l-3 -1 -4 -3 -2 -2 0 -3 2 -4 6 -7 6 -6 4 -6 0 -5 -4 -15 1 -4 2 -1 3 3 2 4 2 12 4 -2 7 -6 4 -1 5 2 1 3 1 4 -2 3 -6 4 -2 10 -4 8 -5 2 -5 -3 -2 0 -4 4 -4 8 -3 2zM533 640l-4 -4 -12 0 -2 -1 -2 -3 0 -11 3 -23 -4 -5 -2 -11 1 -3 1 0 5 6 2 1 4 -4 4 -6 4 -10 4 -1 6 -4 2 1 4 10 4 4 1 7 -1 5 -3 7 -2 1 -6 1 -5 9 -4 23 0 4 3 5 -1 2zM1171 575l0 -4 -2 0 0 1 2 3zM358 590l-3 -1 -1 -2 0 -4 1 -3 5 -5 7 -2 2 4 0 5 -7 6 -4 2zM792 588l-3 -1 -1 -4 1 -5 2 -2 2 2 1 3 0 5 -2 2zM926 598l-2 0 -2 -2 -2 -6 1 -10 3 -4 1 0 1 3 1 13 -1 6zM280 605l-2 0 -2 -5 -2 -14 0 -4 3 -2 3 1 2 7 0 12 -2 5zM747 610l-2 -2 -1 -2 0 -13 2 -6 2 -2 2 -1 8 7 1 4 -1 3 -9 11 -2 1zM834 595l-2 0 -1 -3 0 -3 2 -1 2 1 1 2 -2 4zM988 617l-3 -1 -1 -3 -2 -15 0 -3 2 -1 2 2 5 14 0 4 -3 3zM1015 602l-1 -2 0 -3 2 2 -1 3zM915 615l-8 -2 -3 -2 -3 -4 1 -5 3 -1 5 4 5 -3 2 1 1 8 -1 2 -2 2zM465 620l-3 -2 -2 -7 0 -6 3 -3 2 0 2 2 2 5 -1 7 -3 4zM852 617l-2 0 -2 -2 -2 -5 1 -5 2 -2 2 -1 2 0 2 2 1 4 -1 6 -3 3zM943 615l-1 0 -2 -1 -1 -4 1 -5 3 -3 2 2 0 4 0 3 -2 4zM445 622l-2 1 -4 -2 -4 -5 -1 -4 1 -4 2 -3 2 -2 4 0 2 3 1 11 -1 5zM1057 639l-1 0 -1 -4 1 -9 6 -18 2 -3 1 -1 0 27 -2 3 -6 5zM780 615l-2 -1 0 -2 -1 -4 1 -2 6 2 -1 5 -3 2zM812 659l-3 -3 -1 -6 4 -35 2 -3 2 2 2 5 1 12 -4 23 -1 3 -2 2zM393 627l-2 0 -1 -1 -1 -4 1 -5 3 -4 2 3 0 4 0 4 -2 3zM597 676l-2 0 -1 -5 -5 -9 -1 -4 1 -4 9 -10 7 -4 7 -7 6 -9 7 -8 3 -2 3 0 2 2 2 3 -2 9 1 12 -1 6 -2 3 -3 1 -2 -2 -3 -7 -3 -1 -3 2 -5 6 -4 8 -8 11 -1 3 -1 6 -1 0zM1038 624l-2 0 -1 -3 0 -5 2 -1 2 4 -1 5zM293 650l-2 0 -3 -3 0 -9 -2 -3 -2 0 -10 7 -1 -1 1 -12 6 -13 4 2 6 -1 2 2 1 3 3 17 -2 9 -1 2zM305 633l-3 -2 -2 -3 -1 -7 2 -4 2 2 3 13 -1 1zM1001 623l-1 -2 1 -2 1 0 0 3 -1 1zM865 658l-2 0 -1 -4 -1 -21 1 -6 3 -4 3 2 2 3 2 18 -2 6 -5 6zM1170 630l-1 0 -1 -2 1 -2 2 -2 2 3 -1 2 -2 1zM1016 629l-1 1 0 -4 1 1 0 2zM645 663l-3 -3 -1 -9 4 -21 2 -3 4 0 2 1 2 2 0 7 -1 2 -5 4 -2 3 -1 14 -1 3zM355 645l-3 0 -3 -2 0 -3 1 -3 8 -5 3 -4 6 1 1 2 -1 3 -4 3 -4 6 -4 2zM663 676l-6 0 0 -8 2 -10 -1 -12 1 -2 4 -5 4 -7 3 -2 3 3 0 6 -1 3 -6 7 -3 6 0 4 0 17zM238 639l-4 0 -3 -1 -1 -3 1 -2 4 -1 4 1 2 3 -1 2 -2 1zM1163 647l-6 -1 -1 -1 0 -2 3 -2 4 -7 4 -2 2 4 0 5 -2 3 -4 3zM735 640l-1 0 0 -1 0 -3 1 0 1 2 -1 2zM1041 676l-18 0 1 -5 4 -7 -6 -11 0 -4 3 -10 4 -3 2 0 2 1 3 7 -1 6 -4 11 1 4 3 5 5 1 1 3 1 2 -1 0zM389 665l-2 1 -1 -1 -3 -9 -6 -2 -2 -2 0 -3 1 -2 4 -1 5 3 4 -2 2 1 2 4 0 6 -1 4 -3 3zM1002 676l-11 0 0 -13 -5 -2 -2 -3 0 -5 2 -4 2 0 1 2 3 9 4 1 3 3 2 4 1 8zM699 676l-14 0 2 -20 1 -3 7 0 2 2 3 10 -1 11zM969 670l-1 1 -1 -3 0 -5 0 -5 2 -5 2 2 0 5 -2 10zM301 667l-3 -1 -1 -5 3 -3 4 -3 1 1 1 2 0 4 -2 3 -3 2zM455 676l-11 0 -1 -15 0 -5 1 -1 2 8 8 6 1 7zM545 676l-5 0 -1 -3 0 -8 3 -3 3 1 2 4 0 5 -2 4zM1208 676l-7 0 -2 -2 0 -4 3 -4 3 0 3 3 1 5 0 2 -1 0zM846 676l-7 0 2 -9 1 -1 4 7 1 3 -1 0zM260 676l-5 0 1 -7 2 -2 2 3 0 6zM278 676l-6 0 1 -4 2 -3 2 1 1 6zM513 676l-8 0 2 -5 3 -3 2 1 1 7zM735 676l-9 0 2 -6 2 -2 3 2 2 3 1 3 -1 0zM621 676l-6 0 1 -3 3 -2 2 2 1 3 -1 0zM894 676l-1 0 1 -3 0 3z" fill="#f7e8d3" fill-rule="evenodd"/><path d="M335 318l-9 0 -5 -4 -2 -6 -2 -11 -5 -6 0 -3 26 0 2 6 0 11 -2 9 -3 4zM552 333l-3 -1 -2 -2 -2 -8 -3 -11 -9 -19 0 -4 9 0 10 16 6 21 -1 5 -3 3 -2 0zM642 322l-2 0 -3 -4 -6 -5 -5 -9 0 -4 1 -5 2 -4 3 -3 18 0 2 4 3 13 0 4 -8 6 -5 7zM687 315l-7 1 -2 -1 -1 -2 -2 -9 2 -12 4 -4 18 0 0 8 -3 9 -4 6 -5 4zM775 298l-5 -1 -2 -2 0 -2 6 -2 4 -3 5 0 1 4 -1 3 -3 2 -5 1zM868 310l-3 0 -4 -6 -1 -5 1 -5 3 -6 10 0 1 4 -1 5 -4 11 -2 2zM179 301l-1 0 0 -5 0 -7 1 0 2 2 1 5 0 3 -3 2zM441 315l-10 -1 -5 -3 -6 -15 0 -4 1 -2 1 0 3 6 7 -1 3 1 3 3 4 11 0 3 -1 2zM935 326l-3 1 -10 -2 -15 -12 -6 -12 0 -5 2 -4 3 -1 3 -1 7 5 6 1 3 2 7 11 5 11 0 4 -2 2zM518 323l-5 0 -3 -1 -2 -3 -2 -7 -7 -6 0 -7 1 -5 2 -2 4 2 7 1 4 4 2 9 3 5 1 4 -1 4 -4 2zM287 304l-2 1 -2 -1 -2 -3 1 -4 3 -3 2 0 2 3 0 4 -2 3zM220 311l-2 -2 -1 -4 1 -5 2 -2 2 2 1 5 -1 5 -2 1zM1004 353l-2 0 -1 -3 3 -16 -2 -18 1 -3 4 -1 3 1 2 2 6 27 -1 3 -3 3 -10 5zM303 319l-3 0 -2 -1 0 -3 3 -2 4 1 1 3 -3 2zM385 342l-3 0 0 -3 5 -16 4 -6 3 -2 2 -1 4 4 3 4 0 7 -1 7 -3 4 -9 0 -5 2zM613 328l-3 1 -2 -1 -2 -2 -1 -3 2 -5 5 -3 4 2 1 4 -1 4 -3 3zM659 331l-1 -1 -1 -5 1 -3 1 -1 1 5 -1 5zM247 331l-4 1 -2 -2 -1 -3 1 -3 5 -1 3 2 1 3 -3 3zM566 356l-2 -1 -2 -3 -2 -11 1 -10 2 -3 2 -1 3 5 2 8 -1 7 -3 9zM868 431l-5 0 -4 -5 -2 -6 1 -14 -1 -1 -4 0 -2 -2 -4 -10 -2 -10 -5 -8 -1 -35 1 -4 3 -2 6 0 5 -1 2 1 0 4 -1 15 2 10 0 10 2 3 7 1 4 2 3 5 1 8 -2 12 1 12 -2 11 -3 4zM1033 347l-2 1 -2 -1 -3 -3 -1 -3 1 -3 2 -3 4 -2 4 1 2 4 -1 5 -4 4zM213 361l-3 -1 -2 -1 -2 -8 -5 0 -5 3 -2 -1 -3 -3 0 -4 6 -8 2 -2 6 -1 3 2 2 2 1 8 4 2 2 4 0 5 -4 3zM912 354l-3 -1 -4 -4 -3 -2 -1 -2 1 -3 3 0 5 -5 3 0 3 2 1 6 -2 6 -3 3zM1004 419l-6 -1 -4 -3 -3 -10 -6 -11 0 -9 -2 -4 -2 -3 -9 -5 -2 -4 -1 -7 2 -5 6 -6 7 -4 5 0 4 3 1 3 -4 7 12 16 5 15 5 7 1 9 -1 5 -3 5 -5 2zM180 357l-2 0 0 -8 5 -2 1 2 0 3 -1 3 -3 2zM254 369l-2 0 -3 -2 -5 -4 -1 -3 0 -4 1 -4 2 -4 2 -1 4 1 6 7 -1 11 -3 3zM884 361l-2 0 -1 -6 1 -5 2 -1 1 3 0 7 -1 2zM1205 361l-3 -1 -1 -4 2 -5 2 -2 2 1 1 5 -1 4 -2 2zM673 358l-1 0 -1 -2 0 -3 1 -1 1 1 1 2 -1 3zM780 367l-2 1 -1 -1 -3 -6 2 -6 3 -2 2 1 1 4 0 6 -2 3zM350 360l-2 -1 -1 -1 0 -2 1 -2 2 1 1 1 0 2 -1 2zM358 359l-1 -1 1 -1 1 1 -1 1zM643 377l-2 1 -7 -2 -7 -4 -1 -3 -1 -4 1 -4 2 -2 3 -1 3 1 9 10 1 4 -1 4zM559 370l-2 1 -1 -4 0 -5 2 -2 2 2 2 3 -1 3 -2 2zM761 393l-3 -2 -1 -5 1 -6 2 -2 3 3 1 5 -1 5 -2 2zM902 391l-5 0 -3 -3 0 -5 1 -4 2 -1 4 0 7 3 3 -3 0 3 -3 6 -6 4zM605 403l-3 -1 -2 -5 1 -5 2 -2 3 1 2 4 -1 5 -2 3zM1117 446l-2 0 -3 -5 -1 -4 1 -4 4 -8 0 -6 3 -3 1 -11 1 -4 5 -6 5 -2 3 3 2 10 -1 7 -4 11 2 9 -1 2 -6 -1 -2 1 -7 11zM389 412l-1 1 -1 -1 -3 -10 1 -3 3 -2 3 1 2 3 -4 11zM1216 404l-3 -1 -1 -3 2 -2 3 -1 2 1 1 2 -2 3 -2 1zM884 418l-3 0 -3 -3 0 -3 3 -2 4 0 2 2 0 3 -3 3zM1164 433l-3 1 -2 -1 -3 -3 -1 -3 1 -7 4 -4 4 0 3 6 0 7 -3 4zM374 425l-3 1 -2 -3 0 -4 2 -3 3 1 2 3 0 3 -2 2zM270 430l-3 0 -2 -3 -1 -5 2 -3 2 -1 4 0 9 3 0 3 -3 0 -8 6zM494 452l-4 0 -2 -2 -2 -6 -1 -9 1 -6 7 -2 2 1 3 5 2 9 -2 7 -4 3zM625 439l-1 1 -2 -1 0 -2 1 -2 1 0 2 1 -1 3zM671 539l-3 0 -12 -10 -7 0 -2 -3 0 -5 0 -6 2 -3 6 -3 6 -7 7 1 8 -6 5 -4 3 -7 0 -3 -2 -3 -12 -5 -6 1 -7 -4 -3 1 -3 3 -2 -2 -2 -10 3 -12 2 -3 13 -10 7 7 12 1 3 2 9 12 3 13 6 2 4 2 2 2 1 3 -1 5 -2 4 -5 3 -6 8 -14 13 -7 11 -4 10 -2 2zM471 517l-3 1 -4 -2 -3 -4 -3 -8 -6 -3 -4 -3 -4 -8 -4 -5 -6 -13 -1 -6 1 -13 3 -7 4 -5 6 0 2 1 7 9 5 11 1 6 0 10 8 9 1 3 0 7 -2 4 5 1 3 5 -1 6 -5 4zM276 508l-4 -2 -2 -5 4 -14 -2 -7 -3 -2 -7 2 -3 -1 -11 -5 -7 -5 -9 -11 -1 -3 1 -5 4 -4 3 -1 3 1 14 11 7 2 7 8 4 8 3 3 2 -1 2 -4 2 -13 1 -2 4 -2 3 -1 3 1 2 2 1 4 -3 25 -11 12 -4 7 -3 2zM636 460l-2 -1 0 -3 1 -3 1 -1 2 1 1 3 -1 2 -2 2zM890 485l-3 0 -3 -2 -2 -3 0 -3 3 -6 4 -4 2 0 4 3 1 6 -2 6 -4 3zM846 480l-4 -2 -1 -4 2 -5 3 -2 3 2 2 5 -2 4 -3 2zM653 586l-3 -1 -9 -7 -3 -3 -2 -6 -8 -2 -5 -4 -8 -13 -6 -7 -4 -9 -4 -5 -2 -1 -5 5 -3 -3 -2 -9 2 -11 0 -11 2 -5 5 -6 6 -1 3 3 10 17 4 13 6 7 7 11 3 2 5 0 2 1 3 10 6 9 2 1 6 -1 4 3 0 5 -5 6 -3 7 -4 5zM824 561l-2 0 -1 -6 -4 -4 -3 2 -3 8 -3 -8 -2 -2 -9 -4 -1 -5 3 -6 11 -8 9 -10 10 -19 6 -6 3 -1 3 2 4 6 0 17 -5 15 -6 8 0 6 -9 8 -1 7zM210 562l-2 0 -2 0 -9 -11 -3 0 -3 2 -2 -2 -5 -20 0 -15 -4 -5 -2 -5 0 -8 2 0 1 1 0 5 1 2 14 6 4 12 7 9 8 18 -1 7 -4 4zM1065 583l-3 1 -11 -5 0 -2 1 -4 -5 -14 -2 -1 -12 -1 -4 -3 -4 -6 -6 -2 -2 -2 0 -2 2 -3 7 -4 2 -3 -1 -8 -5 -15 0 -5 2 -3 5 0 5 3 2 3 2 9 1 0 3 -5 4 -3 4 2 6 5 1 8 3 6 -2 10 0 6 1 2 9 5 4 5 1 3 0 6 -2 8 -2 5 -4 4zM416 564l-3 0 -4 -3 -7 -12 -7 -7 -2 -3 0 -10 -1 -20 1 -4 3 -2 4 0 11 2 7 -2 3 3 2 12 -1 3 -4 4 0 5 1 3 6 6 1 3 -3 8 -1 9 -3 4 -3 1zM1212 520l-2 -1 -1 -5 1 -5 2 -3 2 2 1 5 -1 5 -2 2zM971 544l-3 0 -7 -5 -7 1 -7 -1 -8 -4 -15 -5 -4 -4 -4 -6 0 -4 1 -3 4 -4 12 -1 2 0 5 4 8 4 3 0 6 -3 2 0 6 8 8 3 3 4 1 4 -1 4 -3 6 -2 2zM856 533l-2 1 -2 -1 -3 -8 0 -6 3 -3 4 1 2 3 0 7 -2 6zM1114 557l-2 -2 -6 -10 -1 -4 2 -12 2 -4 2 -2 2 1 2 2 2 10 -1 10 -2 11zM1079 551l-3 -1 -1 -5 1 -4 3 -2 2 1 1 5 -1 4 -2 2zM1211 634l-4 0 -10 -8 -1 2 -5 -2 -3 -5 0 -14 -2 -6 -3 -3 -6 -3 -10 -13 -4 -1 -5 -4 -5 0 -3 -2 -4 -7 -1 -5 1 -7 3 -5 2 -1 3 1 4 3 4 5 2 1 4 0 1 -1 2 -6 6 -6 4 -2 7 -1 8 3 6 11 2 0 4 2 6 -2 2 1 3 7 1 8 -2 4 -8 9 0 4 3 6 1 -1 10 2 0 29 -2 0 -4 -4 -2 8 -2 2 -3 1zM838 553l-1 1 -1 -2 0 -5 2 0 1 2 -1 4zM523 635l-7 -1 -2 -3 2 -29 4 -13 8 -12 5 -7 6 -4 2 0 7 14 0 7 -2 5 -6 3 -3 5 -3 8 -6 24 -2 2 -3 1zM1168 578l2 -2 2 0 1 -5 -1 -2 -4 1 0 1 -1 1 0 2 1 4zM231 616l-4 -1 -3 -3 -1 -3 2 -3 5 -7 8 -7 6 -9 7 -4 8 -7 3 0 3 1 2 3 0 4 -2 2 -5 3 -3 12 -3 5 -3 2 -5 -2 -3 1 -3 3 -6 8 -3 2zM360 588l-2 1 -2 -1 -1 -2 0 -3 3 -5 5 -2 2 2 0 3 -1 4 -4 3zM441 619l-4 -1 -2 -5 1 -4 2 -3 2 0 3 2 1 4 0 5 -3 2zM597 667l-3 0 -3 -3 -1 -5 1 -5 7 -8 9 -6 19 -24 3 -1 2 1 2 2 0 3 -4 17 -1 1 -8 -1 -4 3 -5 6 -4 7 -10 13zM289 633l-4 -2 -4 -5 3 -5 4 -2 3 2 2 5 -1 5 -3 2zM237 637l-4 0 -1 -2 2 -2 3 1 1 2 -1 1zM354 644l-2 0 -2 -2 1 -4 3 -3 4 0 2 2 -1 3 -2 3 -3 1zM1166 644l-3 0 -2 -4 2 -4 3 -2 2 2 1 3 -1 3 -2 2zM382 652l-2 1 -2 -1 -1 -1 0 -2 4 -1 1 2 0 2zM302 664l-2 1 -1 -1 1 -3 3 0 -1 3zM544 676l-3 0 -1 -4 0 -6 2 -3 3 1 1 4 0 5 -2 3zM1206 676l-5 0 -2 -3 1 -4 3 -3 3 1 2 3 0 4 -1 2 -1 0zM693 676l-4 0 1 -4 2 -3 1 0 0 7z" fill="#f1e2d8" fill-rule="evenodd"/><path d="M334 317l-7 0 -5 -4 -3 -5 -2 -11 -4 -6 0 -3 24 0 3 6 -1 11 -2 9 -3 3zM551 332l-3 -1 -1 -2 -1 -7 -4 -12 -8 -18 0 -4 7 0 9 14 3 7 5 16 -3 5 -4 2zM641 318l-7 -4 -3 -3 -4 -8 0 -6 3 -6 4 -3 16 0 3 14 0 5 -10 10 -2 1zM685 313l-5 0 -3 -4 -1 -7 1 -8 2 -3 5 -3 13 0 0 8 -2 9 -4 5 -6 3zM868 308l-1 1 -2 -2 -3 -4 -1 -4 0 -4 2 -4 4 -3 4 1 2 5 0 4 -5 10zM179 300l-1 0 0 -4 0 -6 1 0 2 2 1 3 -1 3 -2 2zM776 296l-4 0 -1 -1 4 -2 3 -3 2 0 1 2 -1 2 -4 2zM933 325l-11 -1 -15 -12 -6 -11 0 -5 2 -3 3 -2 3 0 6 4 8 3 3 3 10 19 0 3 -3 2zM516 322l-3 0 -3 -1 -2 -3 -1 -6 -6 -6 -1 -5 2 -5 10 -1 3 2 2 3 2 8 3 6 0 3 -1 3 -5 2zM285 303l-2 -1 -1 -2 1 -3 2 -2 2 1 1 3 -1 3 -2 1zM437 313l-3 1 -3 -1 -5 -4 -1 -4 0 -4 1 -2 3 -2 5 0 4 4 2 8 -1 3 -2 1zM221 309l-2 0 -1 -4 0 -3 2 -3 1 1 1 3 0 4 -1 2zM1011 349l-4 0 -3 -4 1 -12 -3 -17 1 -2 3 -2 4 1 2 2 5 24 -1 6 -2 3 -3 1zM303 318l-3 0 -1 -1 1 -2 2 -1 2 1 1 2 -2 1zM613 327l-4 1 -2 -2 -1 -3 1 -4 4 -3 3 0 2 4 0 4 -3 3zM385 340l-1 -1 0 -3 4 -13 5 -6 2 -1 2 1 3 3 2 4 1 6 -2 6 -2 2 -2 1 -7 -1 -5 2zM246 330l-3 0 -2 -1 0 -3 1 -2 3 0 3 1 0 3 -2 2zM566 353l-1 0 -2 -2 -2 -8 1 -9 1 -3 2 -1 3 4 1 6 -1 7 -2 6zM868 429l-5 0 -3 -3 -1 -6 2 -15 0 -2 -2 -2 -6 0 -2 -2 -3 -6 -3 -11 -3 -4 -2 -3 0 -34 0 -4 3 -2 9 0 2 3 -1 16 2 8 0 9 1 4 2 2 10 2 3 3 1 3 1 7 -3 11 2 13 -2 10 -2 3zM1033 346l-2 0 -2 -1 -2 -4 1 -4 4 -3 4 2 1 3 -1 4 -3 3zM205 349l-7 0 -2 -3 1 -6 4 -4 5 1 3 3 -1 8 -3 1zM912 352l-2 0 -2 -2 -1 -5 2 -5 3 -2 2 2 2 5 -2 5 -2 2zM1006 417l-6 1 -4 -3 -4 -11 -4 -10 -1 -10 -4 -6 -7 -5 -4 -1 -2 -3 0 -6 2 -6 6 -6 6 -3 5 0 3 2 0 3 -3 7 12 17 5 15 4 8 2 7 0 4 -3 4 -3 2zM252 365l-2 0 -3 -1 -3 -5 1 -6 1 -3 2 -1 4 1 3 3 1 3 -1 6 -3 3zM213 360l-3 0 -2 -3 0 -5 1 -3 4 1 3 2 0 5 -1 2 -2 1zM181 354l-2 1 -1 -2 1 -1 2 0 0 2zM1205 359l-2 0 -1 -3 3 -4 1 0 1 3 -1 3 -1 1zM779 367l-3 -2 -1 -4 1 -5 3 -2 2 2 1 4 -1 5 -2 2zM633 372l-4 -1 -3 -4 1 -4 3 -4 4 2 2 4 0 5 -3 2zM902 390l-4 0 -3 -3 -1 -5 3 -3 6 0 4 4 -1 4 -4 3zM761 391l-2 -1 -1 -3 1 -5 1 -2 2 2 1 3 0 4 -2 2zM605 401l-2 0 -2 -4 0 -4 3 -2 2 2 1 3 0 3 -2 2zM1128 423l-2 0 -2 -4 -2 -7 -1 -7 1 -4 2 -3 3 -2 3 -1 2 1 2 3 1 10 -3 10 -4 4zM389 405l-2 0 -1 -2 -1 -2 2 -2 3 0 1 2 0 2 -2 2zM1217 402l-1 1 -1 -1 0 -2 1 -1 2 1 -1 2zM883 417l-3 -1 -1 -2 0 -2 3 -2 3 1 1 2 -1 3 -2 1zM1164 432l-3 1 -2 -1 -3 -5 1 -7 2 -3 2 -1 3 2 3 5 0 5 -3 4zM372 424l-2 -1 0 -2 2 -3 2 3 0 2 -2 1zM271 427l-3 0 -2 -3 1 -3 2 -1 4 0 1 2 0 3 -3 2zM492 451l-2 -1 -2 -2 -1 -9 2 -5 5 -3 2 1 2 4 1 7 -2 6 -5 2zM1115 442l-2 -4 0 -4 1 -1 1 1 2 5 -1 2 -1 1zM262 479l-4 -1 -9 -5 -8 -6 -8 -9 -1 -5 3 -5 3 -2 4 0 13 11 7 5 7 5 2 4 -1 4 -8 4zM668 531l-6 0 -6 -5 -2 -5 0 -5 1 -3 7 -7 8 -3 11 -8 3 -6 2 -5 -2 -3 -4 -4 -5 -1 -5 -2 -6 0 -6 -3 -6 0 -3 -2 0 -7 2 -10 4 -4 9 -3 14 4 12 5 6 9 1 12 8 3 4 4 1 4 -2 5 -4 3 -6 8 -14 12 -12 15 -4 2zM460 501l-6 -1 -5 -3 -4 -9 -4 -4 -6 -12 -1 -5 0 -10 2 -5 2 -2 6 0 7 -2 3 2 3 5 4 12 0 11 7 9 1 4 0 3 -2 3 -4 3 -3 1zM278 506l-3 1 -2 -2 -2 -3 0 -4 5 -12 4 -5 5 -22 4 -3 4 0 3 3 1 3 -4 24 -4 6 -7 7 -4 7zM847 479l-3 0 -2 -4 0 -4 3 -3 3 1 2 4 -1 4 -2 2zM891 484l-2 1 -3 -1 -2 -2 -1 -3 1 -6 4 -3 4 1 2 5 0 5 -3 3zM658 573l-3 0 -5 -5 -2 1 -3 4 -1 0 -1 -1 0 -6 -1 -2 -2 0 -5 3 -6 -1 -4 -2 -4 -5 -16 -26 -8 -12 0 -6 -4 -7 -1 -9 2 -6 4 -4 6 0 3 2 10 17 3 12 7 8 6 10 3 3 6 2 4 10 5 10 1 0 8 -2 4 2 0 2 0 3 -6 5zM825 552l-3 1 -6 -4 -4 2 -2 1 -7 -3 -4 -4 -1 -5 2 -4 11 -8 8 -9 10 -18 6 -7 3 -1 4 4 2 4 0 14 -5 16 -7 8 0 7 -7 6zM1064 582l-7 -1 -5 -2 -1 -2 1 -4 -5 -15 -14 -1 -4 -4 -4 -6 -5 -2 -2 -2 1 -3 8 -4 2 -3 -2 -10 -5 -14 1 -5 2 -3 5 1 4 3 1 3 1 9 4 1 4 -3 2 0 1 1 2 6 7 11 0 9 0 4 2 2 8 4 5 6 1 5 -1 7 -3 9 -4 3zM416 563l-3 0 -3 -2 -7 -13 -7 -6 -2 -4 -2 -29 2 -3 3 -2 4 0 5 2 10 4 2 3 0 3 -2 8 0 6 2 4 6 7 0 2 -2 7 0 8 -3 4 -3 1zM471 516l-4 0 -5 -4 -1 -4 2 -4 8 0 3 3 1 5 -1 2 -3 2zM970 541l-3 0 -7 -3 -6 1 -6 -1 -18 -8 -6 -2 -3 -2 -3 -6 0 -3 1 -3 3 -3 5 -1 7 1 6 5 7 2 3 0 6 -2 3 1 5 5 8 2 3 3 1 3 -1 4 -2 4 -3 3zM211 559l-2 1 -3 -1 -5 -7 -8 -6 -4 -6 -3 -9 -1 -4 1 -11 2 -5 4 1 2 2 6 12 6 7 7 17 0 6 -2 3zM1212 516l0 -1 0 1zM1113 549l-2 -1 -3 -3 -2 -6 1 -8 2 -4 2 -1 3 1 3 9 -1 8 -1 3 -2 2zM1211 633l-5 0 -9 -8 -1 2 -1 0 -5 -5 -2 -6 1 -6 -2 -8 -3 -4 -7 -5 -6 -9 0 -6 1 -1 1 0 1 -2 -1 -7 -2 0 -4 1 0 1 -3 2 -1 4 -1 0 -4 -1 -5 1 -3 -2 -4 -6 -1 -5 1 -7 3 -4 3 -1 3 2 6 7 9 1 1 -1 2 -7 4 -5 5 -2 6 -1 8 3 5 13 2 -1 9 7 1 3 -4 5 0 9 -1 1 0 6 5 7 11 2 0 24 -4 0 -3 -1 -2 7 -4 3zM230 615l-4 -2 -2 -3 1 -3 4 -6 9 -8 6 -8 10 -7 4 -5 4 -1 3 2 1 2 0 4 -6 4 -6 12 -4 3 -8 4 -9 11 -3 1zM524 634l-6 0 -2 -1 -1 -2 2 -9 -1 -9 1 -10 10 -23 4 -5 5 -1 7 4 2 4 0 4 -2 4 -5 6 -3 6 -7 28 -2 3 -2 1zM359 587l-3 -1 0 -3 3 -4 3 -1 2 2 -1 3 -2 3 -2 1zM441 616l-3 0 -1 -2 0 -4 2 -1 2 0 1 2 0 3 -1 2zM612 641l-1 0 0 -3 10 -15 6 -6 2 -1 2 1 1 2 0 3 -2 7 -3 5 -3 2 -6 1 -6 4zM289 631l-3 -1 -2 -3 1 -3 2 -2 3 1 1 2 0 4 -2 2zM1165 643l-2 -1 -1 -3 2 -3 2 0 1 1 1 3 -1 2 -2 1zM355 642l-3 0 -1 -2 1 -2 3 -1 2 0 1 2 -3 3zM597 665l-3 0 -2 -1 -1 -4 0 -3 8 -10 4 -3 3 0 1 3 -1 5 -9 13zM544 675l-2 1 -2 -4 0 -5 2 -3 2 1 2 3 0 4 -2 3zM1204 676l-3 -1 -2 -3 1 -2 3 -3 3 1 1 3 0 3 -3 2z" fill="#edd5ca" fill-rule="evenodd"/><path d="M334 316l-7 0 -5 -4 -2 -6 -2 -9 -4 -6 0 -3 22 0 3 6 0 10 -2 9 -3 3zM552 331l-3 0 -2 -2 -1 -7 -4 -13 -8 -17 0 -3 1 -1 5 0 9 14 4 8 4 15 -2 4 -3 2zM643 315l-3 1 -7 -4 -5 -10 0 -4 1 -5 7 -5 13 0 2 7 1 8 0 4 -9 8zM683 312l-3 -1 -3 -6 0 -5 1 -5 3 -4 5 -3 9 0 1 7 -2 9 -4 5 -7 3zM867 305l-4 -3 -1 -4 2 -6 3 -2 3 2 2 4 -5 9zM179 299l-1 0 0 -3 0 -5 1 0 1 1 1 3 -1 3 -1 1zM928 323l-3 0 -4 -2 -15 -12 -4 -6 -1 -3 1 -4 2 -3 3 -2 3 1 5 4 7 3 4 3 6 12 2 5 -1 1 -5 3zM516 321l-3 1 -3 -2 -2 -8 -6 -6 -1 -5 3 -4 7 -1 3 1 3 3 1 8 4 8 -2 3 -4 2zM436 312l-3 1 -2 -1 -3 -2 -1 -3 0 -6 3 -4 5 1 3 4 1 7 -3 3zM285 301l-1 -1 1 -2 1 1 -1 2zM220 306l-1 -2 1 -2 1 2 -1 2zM1012 348l-4 0 -3 -4 1 -12 -3 -15 1 -3 2 -1 3 0 2 2 5 23 0 6 -1 2 -3 2zM612 327l-4 -1 -1 -4 1 -4 4 -2 3 2 1 3 -1 4 -3 2zM397 337l-6 0 -5 0 -1 -1 4 -13 3 -4 2 -1 2 0 3 2 3 6 -1 7 -2 3 -2 1zM245 329l-2 0 -1 -1 0 -3 4 0 1 3 -2 1zM566 350l-1 1 -2 -2 -1 -6 0 -8 2 -3 1 0 2 2 2 6 -1 6 -2 4zM865 402l-6 -2 -5 -1 -3 -2 -3 -6 -1 -9 -4 -4 -2 -3 0 -22 -1 -11 1 -5 2 -1 5 2 3 -1 1 2 1 5 -1 9 2 9 0 10 1 4 3 2 6 1 3 1 4 5 1 5 -1 5 -3 5 -3 2zM1034 344l-3 1 -3 -4 1 -3 3 -3 3 1 1 2 0 3 -2 3zM204 348l-5 0 -2 -3 1 -5 4 -3 3 0 2 3 -1 6 -2 2zM913 350l-3 0 -2 -3 1 -4 2 -2 2 0 1 3 0 3 -1 3zM1003 417l-5 -1 -2 -3 -2 -9 -5 -9 0 -10 -1 -3 -4 -5 -8 -5 -4 -1 -1 -3 -1 -6 2 -5 6 -5 6 -3 5 0 2 2 0 2 -3 7 13 17 4 15 5 10 1 6 -1 4 -3 4 -4 1zM214 359l-3 0 -2 -2 -1 -4 2 -2 3 0 2 2 1 3 -2 3zM252 364l-4 -1 -3 -4 0 -5 3 -4 4 1 3 5 -1 5 -2 3zM779 366l-3 -1 -1 -4 2 -5 2 -2 2 3 1 3 -1 4 -2 2zM633 370l-3 -1 -1 -2 0 -3 2 -2 2 0 2 3 0 3 -2 2zM903 389l-4 1 -3 -2 -1 -5 2 -4 4 0 4 3 1 4 -3 3zM761 389l-1 -2 0 -2 1 -1 1 3 -1 2zM605 399l-1 0 -2 -2 1 -3 1 -1 2 3 -1 3zM1128 420l-2 -1 -2 -4 -2 -10 2 -5 2 -2 3 -1 2 0 2 3 1 9 -2 8 -2 2 -2 1zM389 403l-2 0 0 -1 2 0 0 1zM866 428l-4 -1 -2 -5 2 -11 1 -3 2 -2 4 2 2 6 -2 11 -1 2 -2 1zM884 415l-3 0 -1 -2 1 -1 2 -1 1 1 1 2 -1 1zM1162 432l-2 0 -2 -2 -2 -5 2 -5 3 -3 3 2 2 5 0 5 -2 2 -2 1zM494 449l-2 0 -2 0 -2 -3 0 -4 1 -6 5 -3 3 3 1 5 -1 5 -3 3zM263 478l-5 -1 -8 -5 -10 -8 -7 -9 0 -3 3 -4 3 -2 3 1 12 11 13 9 2 3 0 3 -2 3 -4 2zM667 529l-5 0 -4 -3 -2 -5 0 -5 7 -8 11 -6 7 -6 4 -7 2 -6 -1 -2 -6 -6 -5 0 -5 -3 -6 0 -5 -2 -6 -1 -2 -1 -1 -6 3 -10 2 -2 9 -2 12 2 5 3 7 2 3 2 3 4 1 4 0 11 9 3 3 4 1 4 0 3 -5 4 -4 5 -6 4 -9 9 -13 15 -4 2zM458 499l-4 0 -4 -3 -4 -9 -5 -5 -5 -11 -1 -4 0 -8 1 -3 2 -3 6 0 7 -3 3 2 2 4 4 11 0 11 7 9 1 4 -2 4 -8 4zM277 505l-2 1 -3 -3 -1 -3 1 -3 9 -15 4 -22 3 -3 4 0 3 2 1 3 -3 24 -4 6 -7 6 -5 7zM846 479l-3 -2 -1 -3 1 -3 3 -2 3 2 1 3 -1 3 -3 2zM891 483l-4 1 -4 -4 1 -5 3 -4 4 1 2 4 0 4 -2 3zM632 566l-5 -1 -6 -7 -20 -34 -2 -4 1 -8 -5 -5 -2 -7 1 -5 4 -5 5 0 3 1 9 17 4 13 8 9 6 9 7 5 1 2 2 7 0 4 -7 8 -4 1zM825 551l-3 1 -6 -4 -6 2 -6 -2 -4 -3 -1 -5 2 -4 10 -8 9 -9 9 -17 5 -5 3 -2 4 3 2 3 1 5 -1 6 -4 18 -3 4 -6 4 1 5 0 3 -6 5zM1064 581l-6 0 -6 -2 0 -2 1 -4 -3 -6 -2 -9 -15 -2 -4 -4 -3 -6 -6 -3 3 -3 5 -2 2 -5 -2 -12 -6 -12 1 -4 2 -3 5 1 4 3 1 12 7 2 2 -1 4 4 6 10 0 10 1 4 2 2 8 3 5 6 1 5 0 5 -4 10 -3 3zM417 562l-4 0 -3 -2 -6 -12 -7 -7 -2 -4 -2 -27 1 -3 3 -2 4 0 5 2 4 4 3 5 3 17 6 11 -1 13 -1 3 -3 2zM471 515l-3 0 -4 -3 -1 -3 1 -3 5 -1 4 2 1 5 -3 3zM969 539l-3 0 -6 -3 -6 2 -6 -1 -18 -9 -6 -1 -2 -2 -2 -4 -1 -3 1 -3 1 -2 3 -1 7 0 3 1 6 5 7 2 10 -2 6 5 8 2 3 2 0 4 -1 5 -4 3zM210 557l-3 0 -3 -6 -8 -5 -3 -4 -6 -15 1 -8 2 -4 3 2 6 10 6 8 6 13 0 6 -1 3zM1114 546l-1 1 -2 -1 -4 -7 1 -7 3 -4 3 2 2 6 0 5 -2 5zM1211 632l-3 1 -3 -1 -8 -8 -1 2 -6 -5 -1 -5 0 -6 -1 -8 -4 -5 -7 -5 -5 -8 0 -4 0 -2 2 -1 1 -6 0 -3 -2 -2 -1 0 -5 2 -1 1 -7 3 -5 3 -2 0 -3 -3 -3 -5 -1 -5 2 -6 2 -3 3 -1 3 2 5 7 12 3 1 -3 1 -7 5 -6 7 -2 7 2 3 2 2 5 0 8 3 2 1 -4 3 6 1 8 1 7 0 10 6 7 11 4 0 17 -5 2 -1 0 -1 -1 -2 8 -4 3zM659 571l-2 1 -2 -2 -1 -4 2 -3 5 -1 2 1 1 3 -2 3 -3 2zM230 614l-3 -1 -2 -3 0 -3 4 -5 9 -8 6 -8 11 -8 3 -4 3 -1 3 1 2 2 -1 3 -1 2 -5 1 -3 8 -2 4 -5 4 -7 4 -10 11 -2 1zM523 633l-6 -1 -1 -2 3 -6 -2 -11 1 -10 9 -22 4 -4 4 -2 4 2 3 3 1 3 0 3 -6 9 -3 8 -7 26 -2 3 -2 1zM361 584l-2 0 0 -1 0 -2 2 -1 1 2 -1 2zM624 634l-3 0 -2 -1 0 -5 5 -7 3 -2 2 -1 2 3 -1 4 -3 6 -3 3zM288 629l-2 -2 1 -2 2 2 0 2 -1 0zM596 663l-2 0 -1 -1 0 -4 5 -8 3 -3 2 0 1 1 -1 3 -4 5 -2 6 -1 1zM543 674l-2 -1 0 -3 0 -3 2 -1 2 5 -1 3 -1 0zM1204 675l-3 -1 -1 -2 0 -2 3 -2 2 0 2 3 -1 3 -2 1z" fill="#e6b990" fill-rule="evenodd"/><path d="M333 315l-7 -1 -4 -4 -2 -5 -1 -8 -4 -6 0 -3 20 0 1 1 2 6 0 11 -2 7 -3 2zM643 313l-4 1 -5 -3 -5 -8 -1 -5 2 -4 3 -3 6 -3 8 0 3 7 1 9 -2 5 -6 4zM684 310l-3 -1 -2 -3 -1 -5 1 -5 2 -3 4 -3 4 -1 3 0 2 2 1 3 -1 8 -3 4 -7 4zM552 330l-3 0 -2 -2 -5 -20 -5 -11 -1 -7 2 -1 3 3 11 19 4 14 -1 3 -3 2zM865 299l-1 0 -1 -3 1 -2 2 -1 2 1 0 2 -3 3zM926 321l-3 -1 -8 -5 -9 -8 -4 -7 0 -3 2 -3 3 -2 3 1 4 3 8 4 4 4 4 11 -2 5 -2 1zM179 297l-1 0 0 -1 0 -2 1 -1 0 4zM516 320l-3 1 -3 -2 -2 -8 -6 -6 1 -5 5 -3 5 0 2 2 2 3 0 6 4 7 -1 3 -4 2zM435 311l-4 0 -3 -4 -1 -5 3 -4 4 1 3 3 1 6 -3 3zM1013 347l-4 1 -3 -4 1 -12 -2 -6 -2 -9 1 -2 2 -1 4 1 2 6 4 21 -1 3 -2 2zM611 326l-3 -2 -1 -3 2 -3 3 -1 3 2 0 3 -2 3 -2 1zM397 335l-3 -1 0 -6 -4 -3 2 -4 2 -1 4 1 2 5 0 5 -3 4zM566 344l-1 1 -1 -1 0 -3 0 -5 1 -2 2 2 0 3 0 4 -1 1zM844 349l-2 -1 -1 -4 1 -5 1 -1 1 1 2 6 -2 4zM1034 341l-1 1 -2 -1 0 -2 1 -2 2 1 0 3zM203 347l-3 -1 -1 -2 1 -4 2 -2 2 1 1 1 -1 5 -1 2zM864 399l-10 -2 -2 -1 -3 -6 -1 -9 -5 -4 -1 -2 1 -18 2 -4 3 -2 2 3 2 7 2 16 4 3 7 0 2 2 3 4 0 5 -1 4 -2 3 -3 1zM252 362l-3 0 -3 -3 0 -4 2 -3 3 0 3 4 0 3 -2 3zM1003 416l-4 -1 -3 -3 -1 -9 -4 -9 -1 -9 -1 -3 -5 -7 -8 -4 -3 -1 -2 -2 0 -5 1 -5 8 -6 8 0 0 3 -2 5 9 10 6 9 3 14 4 8 2 7 0 3 -2 3 -2 1 -3 1zM213 358l-2 0 -1 -1 0 -4 2 0 2 2 0 2 -1 1zM779 366l-2 -1 -1 -4 1 -4 2 -1 1 1 1 3 -1 4 -1 2zM900 389l-3 -1 -1 -3 1 -4 2 -1 4 1 2 3 -1 3 -4 2zM1130 416l-2 0 -2 -2 -3 -7 1 -5 4 -3 2 0 2 1 2 6 -1 6 -3 4zM865 426l-2 -1 -1 -4 1 -8 1 -2 2 -1 3 1 1 5 -2 8 -3 2zM1162 431l-3 -1 -2 -5 1 -5 3 -2 3 2 2 4 -1 5 -3 2zM493 447l-3 -1 -1 -4 1 -4 4 -2 2 2 0 4 -1 3 -2 2zM263 477l-2 0 -3 -1 -7 -4 -11 -9 -6 -8 0 -3 2 -3 3 -2 3 1 19 17 5 3 2 2 -1 3 -4 4zM690 479l-4 -1 -6 -5 -5 -1 -3 -2 -8 1 -11 -5 -1 -4 2 -8 2 -2 10 -2 9 1 6 4 9 2 3 5 2 6 -2 7 -1 3 -2 1zM457 497l-4 0 -3 -3 -3 -9 -4 -4 -6 -13 0 -7 1 -4 7 -1 6 -4 3 2 2 3 4 11 -1 10 8 11 -1 3 -1 2 -8 3zM277 503l-2 0 -1 -1 -1 -2 0 -3 9 -15 4 -22 3 -2 3 0 2 1 1 3 -3 24 -4 6 -7 5 -4 6zM847 478l-3 0 -1 -3 0 -3 2 -2 2 0 2 3 0 3 -2 2zM889 483l-4 -2 -1 -3 1 -4 3 -2 3 1 2 4 -1 4 -3 2zM668 527l-5 1 -4 -4 -1 -5 2 -5 4 -5 11 -5 7 -7 10 -17 5 -2 5 2 4 5 1 2 -1 2 -3 2 -4 7 -7 4 -15 17 -9 8zM632 565l-5 -1 -6 -8 -17 -28 -3 -9 3 -11 -7 -2 -2 -6 0 -4 3 -4 5 0 3 2 4 8 4 7 4 12 9 10 5 9 8 7 1 4 0 4 -5 8 -4 2zM824 550l-3 0 -5 -4 -6 2 -5 -1 -4 -3 -1 -4 2 -3 11 -9 7 -9 10 -17 3 -2 3 -1 5 2 2 5 -4 22 -3 4 -8 5 2 8 -2 3 -4 2zM1061 581l-6 -1 -2 -2 1 -5 -3 -6 -2 -10 -1 -1 -7 1 -6 -1 -4 -2 -2 -3 -1 -7 3 -10 -1 -9 1 -6 -5 -3 -3 -6 0 -4 3 -3 3 0 4 3 1 4 -1 8 1 1 5 1 6 2 5 6 3 6 -1 8 2 6 11 5 4 6 1 7 -4 12 -2 2 -3 1zM416 561l-3 0 -2 -2 -7 -13 -6 -5 -2 -5 0 -8 -2 -15 0 -4 3 -2 6 0 6 5 3 6 3 17 6 9 -1 13 -1 2 -3 2zM471 513l-2 0 -3 -2 -1 -1 0 -2 3 -1 4 1 1 3 -2 2zM968 538l-3 0 -5 -3 -6 1 -5 0 -14 -7 -4 -3 -7 -1 -3 -4 1 -5 3 -2 6 0 3 1 6 5 7 3 8 -3 7 4 8 2 3 2 0 4 -2 4 -3 2zM200 544l-2 0 -2 -1 -2 -5 0 -3 3 -4 3 1 3 5 0 3 -3 4zM1113 544l-3 -2 -2 -4 1 -5 2 -2 2 1 2 5 0 4 -2 3zM1211 631l-3 1 -3 -1 -8 -8 -1 2 -4 -4 -2 -5 -2 -14 -3 -5 -7 -6 -5 -7 0 -4 2 -3 1 -7 -2 -6 1 -8 2 -5 4 -3 5 0 7 2 2 1 1 5 0 8 4 4 2 -1 0 -1 1 2 3 13 0 12 6 7 8 4 3 4 1 5 -1 4 -5 4 0 -1 -2 0 -2 8 -3 3zM1154 574l-2 0 -2 -2 -4 -7 1 -8 3 -4 4 1 6 9 5 2 -1 3 -5 2 -5 4zM659 570l-3 -1 -1 -3 2 -2 4 -1 2 2 -1 2 -3 3zM262 580l-4 -2 0 -3 2 -1 3 0 2 2 -1 3 -2 1zM524 631l-2 0 -1 -1 -1 -10 -2 -6 0 -10 7 -10 1 -7 3 -6 3 -3 3 -1 3 2 2 2 1 5 -5 8 -4 13 -4 16 -4 8zM230 613l-3 -1 -1 -3 3 -6 9 -8 7 -9 7 -5 3 0 2 5 -3 6 -6 6 -7 4 -11 11zM625 631l-3 0 -1 -3 2 -4 3 -1 1 0 1 2 -3 6zM1204 674l-2 0 -2 -2 3 -3 2 0 1 2 -2 3z" fill="#e1a05c" fill-rule="evenodd"/><path d="M334 313l-5 0 -6 -3 -2 -6 -1 -7 -4 -6 0 -3 18 0 1 1 2 5 1 9 -2 7 -2 3zM642 312l-5 -1 -3 -1 -4 -8 -1 -4 1 -3 3 -3 7 -3 5 -1 2 1 2 4 1 10 -2 5 -6 4zM685 308l-3 0 -2 -2 -1 -4 0 -4 2 -3 2 -2 4 -2 3 0 2 1 1 2 0 7 -3 4 -5 3zM925 318l-2 0 -7 -3 -9 -8 -4 -7 0 -4 2 -2 2 -1 2 0 10 7 6 5 2 7 0 3 -2 3zM542 303l-3 -3 -1 -4 1 -2 2 1 2 3 0 3 -1 2zM516 319l-3 1 -2 -1 -1 -2 -1 -6 -5 -6 0 -4 5 -3 4 0 3 4 0 6 3 7 -3 4zM434 310l-3 -1 -2 -3 0 -4 2 -3 4 1 2 4 0 4 -3 2zM551 329l-3 -2 -3 -12 -1 -6 2 -2 3 1 2 2 4 13 0 4 -4 2zM1011 347l-3 -1 -1 -2 0 -5 3 -7 -5 -10 0 -6 2 -1 3 1 1 3 1 12 3 11 -1 4 -3 1zM612 325l-3 -1 -1 -2 1 -2 3 -2 2 1 0 2 -2 4zM398 330l-1 -3 1 -1 0 4zM251 361l-2 -1 -1 -2 0 -3 1 -1 3 3 0 3 -1 1zM1003 415l-4 -1 -2 -3 -1 -9 -4 -8 -1 -10 -4 -7 -3 -4 -8 -4 -3 0 -1 -1 -1 -4 1 -4 6 -5 2 -1 4 3 1 3 9 10 6 9 2 6 1 9 4 8 2 6 -2 5 -4 2zM779 364l-2 -1 0 -2 0 -3 2 -1 1 3 -1 4zM850 378l-5 -1 -2 -3 1 -14 2 -3 2 -1 2 2 1 5 0 12 -1 3zM865 397l-11 -2 -2 -2 -2 -6 1 -7 2 -1 5 2 5 0 3 2 2 4 1 4 -1 4 -3 2zM900 388l-2 -1 -1 -2 0 -3 2 -1 3 1 2 2 -1 2 -3 2zM1130 413l-4 -3 -1 -3 0 -4 3 -3 3 1 2 4 -1 5 -2 3zM866 421l-1 0 -1 -3 1 -3 1 -1 1 0 1 2 -2 5zM1163 430l-3 0 -3 -4 1 -4 3 -3 2 1 2 4 -1 4 -1 2zM492 443l0 -2 1 -1 -1 3zM263 476l-3 0 -7 -4 -12 -10 -5 -8 0 -3 2 -2 2 -1 2 1 9 9 5 4 5 6 4 1 1 3 -3 4zM689 476l-3 0 -5 -5 -8 -4 -7 2 -4 -1 -6 -5 1 -6 6 -4 3 -1 8 1 6 3 9 2 4 4 1 5 -2 6 -3 3zM457 495l-4 0 -3 -2 -2 -9 -5 -5 -5 -14 1 -4 1 -2 5 -1 6 -4 3 2 4 8 1 6 -1 8 6 8 1 3 0 2 -1 2 -7 2zM276 499l-1 -2 8 -14 4 -22 2 -2 3 0 2 2 0 3 -2 12 -1 10 -4 5 -8 4 -3 4zM847 477l-2 0 -2 -2 1 -3 1 -1 2 0 1 2 -1 4zM889 482l-3 -1 -2 -3 1 -3 3 -2 2 1 2 3 0 3 -3 2zM666 526l-4 -1 -2 -3 0 -4 3 -6 5 -4 7 -1 2 -1 3 -4 4 -4 4 -9 3 -5 4 -4 5 0 2 3 -2 5 0 5 -1 2 -2 2 -6 2 -14 18 -8 8 -3 1zM600 504l-2 -1 -1 -1 0 -5 2 -2 5 0 2 3 0 3 -6 3zM824 549l-3 0 -5 -4 -6 2 -4 -1 -3 -2 -1 -4 1 -2 4 -2 4 -4 4 -3 13 -23 4 -4 3 -1 5 2 2 3 -4 21 -3 5 -8 4 0 2 2 4 0 3 -1 2 -4 2zM1030 515l-3 0 -3 -5 0 -4 2 -2 4 0 2 3 0 6 -2 2zM416 560l-2 0 -2 -1 -4 -7 -3 -8 -6 -4 -2 -4 -2 -23 1 -2 5 -3 4 1 4 5 2 6 2 16 6 9 1 11 -2 3 -2 1zM633 564l-4 0 -3 -2 -2 -4 -4 -4 -16 -27 -1 -6 0 -4 2 -4 5 -4 2 1 3 9 7 10 4 3 5 9 6 5 2 3 0 5 -4 8 -2 2zM937 525l-7 -4 -5 2 -1 -2 0 -3 2 -1 8 1 3 4 0 3zM1063 580l-5 0 -5 -2 2 -5 -4 -7 -1 -11 -2 0 -6 1 -6 0 -4 -2 -2 -3 -1 -6 3 -6 0 -5 -1 -9 3 -5 5 1 8 4 5 8 -1 9 2 8 10 2 3 3 2 3 1 4 0 5 -3 11 -3 2zM968 537l-3 0 -5 -4 -7 2 -4 -2 -1 -2 3 -7 2 -2 2 0 6 4 6 0 3 1 1 2 1 3 -1 3 -3 2zM1113 541l-1 0 -2 -2 0 -3 1 -1 2 3 0 3zM1208 631l-4 -1 -7 -7 -1 1 -4 -4 -1 -5 -2 -14 -11 -11 -4 -6 0 -4 1 -2 1 -9 0 -12 2 -5 3 -2 3 -1 8 2 2 1 1 5 0 7 5 6 1 -1 3 9 1 15 7 8 6 4 3 4 0 4 -1 4 -2 2 -2 0 -3 9 -2 2 -3 1zM1154 573l-2 0 -2 -2 -4 -6 1 -7 3 -4 2 0 3 2 5 10 -6 7zM659 569l-2 -1 0 -2 1 -1 2 1 1 1 -2 2zM263 578l-3 -1 0 -2 3 0 1 2 -1 1zM524 627l-1 -1 -4 -13 0 -7 2 -4 5 -6 1 -9 2 -5 3 -3 3 -1 3 3 1 5 -4 7 -8 30 -1 3 -2 1zM230 612l-2 -1 -1 -3 4 -6 8 -7 6 -8 6 -4 3 0 1 4 -2 5 -5 4 -7 4 -11 12zM1204 673l-2 0 0 -1 1 -2 2 1 -1 2z" fill="#dd8420" fill-rule="evenodd"/><path d="M333 312l-3 0 -4 -2 -3 -2 -2 -5 0 -6 -4 -6 1 -3 15 0 2 2 2 5 0 9 -1 5 -3 3zM644 310l-4 1 -4 -2 -5 -7 -1 -3 1 -3 2 -3 11 -3 2 0 2 3 2 8 -1 5 -5 4zM685 306l-2 0 -2 -2 -1 -6 4 -4 5 -1 3 3 0 5 -3 3 -4 2zM921 314l-5 -1 -7 -6 -5 -7 0 -3 1 -2 2 -1 2 0 3 3 7 4 5 5 1 6 -4 2zM514 319l-3 -1 -1 -3 0 -5 -4 -3 -1 -2 1 -3 4 -3 3 0 2 2 0 3 -1 5 3 4 -1 4 -2 2zM434 308l-2 0 -2 -3 0 -2 1 -2 2 0 2 2 1 3 -2 2zM552 327l-2 0 -1 -1 -3 -11 0 -3 2 -2 3 3 3 10 0 3 -2 1zM1010 326l-3 -4 0 -3 1 -1 1 0 1 2 1 4 -1 2zM1012 346l-3 0 -1 -3 1 -3 3 -4 2 3 1 4 -3 3zM779 363l-1 -1 0 -1 1 -2 0 4zM1005 414l-4 -1 -2 -2 -2 -10 -3 -7 -2 -10 -6 -12 -6 -2 -3 -2 -3 1 -1 -1 -1 -6 2 -3 4 0 8 4 7 7 5 8 3 8 0 9 5 8 2 5 -1 4 -2 2zM848 375l-3 0 -1 -2 3 -11 1 -1 1 0 1 4 -1 9 -1 1zM865 395l-2 1 -5 -3 -5 -1 -2 -5 1 -5 3 -1 4 2 4 0 2 1 2 3 1 4 -1 3 -2 1zM900 386l-2 -1 0 -2 1 -1 2 2 -1 2zM1130 409l-3 -3 0 -2 2 -1 2 1 0 2 0 3 -1 0zM1163 429l-3 1 -2 -3 0 -4 2 -3 2 1 2 2 0 3 -1 3zM244 461l-2 -1 -1 -2 -2 -6 0 -2 2 0 5 5 1 2 -3 4zM688 474l-3 -1 -3 -4 -8 -6 -2 0 -5 5 -4 -1 -4 -4 1 -5 3 -3 4 -1 6 2 5 2 11 2 3 3 1 4 -2 5 -3 2zM454 494l-2 -1 -1 -2 -2 -9 -5 -4 -1 -4 0 -11 8 -7 3 1 4 10 0 3 -1 7 0 2 6 7 1 3 -1 2 -9 3zM285 491l-3 -1 0 -2 2 -5 4 -11 0 -10 1 -1 2 -1 2 2 0 3 -3 10 0 11 -5 5zM256 471l-3 -1 -2 -3 0 -2 2 -2 3 2 1 4 -1 2zM846 476l-1 -2 0 -1 1 -1 1 2 -1 2zM890 480l-2 1 -2 -2 0 -3 1 -2 2 0 2 2 0 2 -1 2zM696 494l-7 1 -1 -3 2 -4 4 -5 2 -2 2 0 2 2 -3 10 -1 1zM823 547l-2 0 -5 -4 -8 2 -3 -2 0 -2 14 -6 -2 -8 2 -4 9 -16 3 -3 3 -1 5 2 2 3 -3 11 -1 8 -1 3 -2 2 -7 2 -5 3 5 6 0 2 -4 2zM1029 513l-3 -1 -2 -3 1 -3 2 -2 3 1 2 3 -1 4 -2 1zM666 524l-3 0 -1 -3 1 -6 2 -3 4 -2 5 1 5 -1 -3 6 -10 8zM403 539l-3 0 -2 -4 -1 -18 4 -6 2 -1 3 2 3 4 1 11 0 4 -7 8zM633 563l-3 1 -2 -2 -3 -5 -5 -5 -8 -15 -7 -10 -1 -6 2 -4 2 0 6 3 5 6 3 6 4 3 5 7 6 6 1 5 -3 8 -2 2zM1044 555l-5 0 -5 -1 -3 -2 -1 -3 0 -4 4 -7 -2 -12 2 -4 2 -1 3 1 7 3 3 3 2 5 -2 9 2 9 -7 4zM955 532l-2 0 -1 -2 0 -4 2 -2 2 1 3 4 -1 2 -3 1zM967 536l-3 -2 -3 -4 2 -2 2 -1 3 0 2 3 0 4 -3 2zM417 558l-3 0 -5 -8 -1 -6 3 -4 3 1 4 5 1 9 -2 3zM1062 580l-5 0 -3 -3 1 -4 -3 -5 -2 -6 1 -8 2 -2 5 0 5 1 3 3 2 4 1 4 -1 4 -3 10 -3 2zM1209 630l-4 0 -8 -8 -1 1 -3 -3 -2 -5 -2 -14 -10 -11 -4 -6 0 -4 1 -1 1 -11 0 -10 1 -4 3 -3 3 0 9 3 1 3 0 7 5 7 2 0 2 7 2 15 6 8 6 4 2 4 1 4 -1 3 -2 3 -1 -1 -3 9 -4 3zM1153 572l-4 -3 -2 -5 1 -7 1 -2 2 -1 4 3 3 8 -2 4 -3 3zM525 624l-1 -1 -4 -11 0 -5 2 -4 7 -7 0 -8 1 -5 2 -3 3 0 3 2 0 3 -5 8 -3 17 -3 10 -2 4zM247 595l-2 1 -1 -1 -1 -2 0 -2 6 -5 2 -1 2 0 1 2 0 2 -7 6zM232 607l-2 0 1 -3 3 -3 2 -1 0 3 -4 4z" fill="#e06b09" fill-rule="evenodd"/><path d="M334 310l-3 1 -7 -4 -2 -4 -1 -7 -3 -4 1 -2 3 -2 10 0 2 2 2 4 0 6 0 6 -2 4zM643 309l-3 0 -4 -2 -4 -6 -1 -3 1 -2 2 -2 11 -2 3 3 1 7 -2 5 -4 2zM687 303l-4 1 -1 -3 1 -4 3 -2 3 1 1 2 0 3 -3 2zM908 298l-1 -1 0 -1 1 0 0 2zM919 311l-2 1 -2 -1 -4 -4 -2 -4 1 -4 5 1 4 3 2 5 -2 3zM512 307l-3 0 -2 -2 1 -3 3 -2 2 1 1 2 -2 4zM513 318l-2 -1 0 -2 1 -3 1 -1 3 2 -2 4 -1 1zM1012 345l-2 0 -1 -1 3 -5 1 1 1 3 -2 2zM982 368l-2 0 -3 -2 -3 2 -1 -3 0 -4 2 -1 2 4 3 0 4 1 0 1 -2 2zM998 388l-2 0 -6 -11 -1 -5 0 -3 4 3 5 7 1 6 -1 3zM856 390l-2 0 -1 -2 0 -3 1 -2 2 1 2 2 -1 2 -1 2zM865 393l-2 1 -2 -2 0 -4 2 -2 3 3 0 2 -1 2zM1004 412l-2 0 -1 -2 3 -4 2 2 0 1 0 2 -2 1zM1161 429l-2 -1 -1 -3 1 -3 2 0 2 1 0 3 0 2 -2 1zM666 466l-3 -1 -1 -3 1 -4 3 -1 3 1 1 2 -1 4 -3 2zM455 492l-2 0 -2 -2 -1 -10 -5 -3 -1 -3 3 -11 4 -5 2 0 1 2 3 7 1 4 -2 6 0 2 5 5 2 4 -1 2 -7 2zM687 472l-7 -8 -1 -2 1 -1 7 -1 4 3 0 5 -2 3 -2 1zM889 479l-2 -2 1 -2 2 2 -1 2zM694 490l-1 0 0 -2 3 -4 0 2 -2 4zM825 533l-2 1 -2 -2 -2 -5 0 -3 9 -16 3 -3 3 0 4 3 1 2 -3 18 -2 3 -9 2zM1028 511l-2 -1 -1 -2 1 -2 1 -1 2 1 1 2 0 2 -2 1zM402 536l-2 0 -1 -2 0 -8 3 -12 2 -2 2 2 2 3 1 7 -2 6 -5 6zM667 517l-1 -1 0 -2 1 -1 2 0 1 2 -3 2zM632 563l-3 -1 -3 -6 -6 -5 -7 -15 -6 -9 -1 -4 1 -2 5 1 4 3 3 4 2 8 1 1 4 0 10 12 0 3 -1 4 -1 4 -2 2zM1044 554l-4 1 -5 -1 -3 -2 -1 -3 0 -4 2 -3 2 0 4 0 2 -2 -1 -2 -5 -2 -2 -6 0 -4 3 -4 3 1 7 3 4 6 0 4 -3 6 2 8 -5 4zM967 534l-2 -1 -1 -2 2 -2 2 0 1 2 -1 2 -1 1zM416 556l-3 -2 -3 -5 0 -3 2 -2 3 1 2 3 0 5 -1 3zM1063 579l-4 1 -3 -2 -1 -2 1 -3 -3 -4 -2 -4 1 -9 1 -2 2 -2 4 0 4 2 3 3 2 4 0 7 -4 10 -1 1zM1209 629l-4 0 -8 -8 -1 1 -2 -2 -2 -5 -2 -14 -11 -12 -3 -5 0 -4 1 -1 1 -11 -1 -9 2 -4 3 -2 9 1 2 2 1 9 5 7 1 0 2 6 2 16 7 7 5 4 2 4 1 4 -1 3 -1 2 -2 0 -4 9 -2 2zM1153 571l-4 -2 -2 -5 1 -7 3 -2 3 2 3 7 -1 4 -3 3zM532 588l-1 -1 0 -3 2 -3 2 0 1 2 0 3 -4 2zM249 592l-1 0 0 -2 3 -2 1 1 -3 3zM525 619l-3 -7 0 -4 2 -4 5 -4 1 2 -1 8 -4 9z" fill="#e75505" fill-rule="evenodd"/><path d="M333 308l-8 -2 -2 -3 -1 -6 -2 -5 4 -4 7 0 3 4 1 4 1 6 -1 4 -2 2zM642 308l-5 -2 -4 -5 -1 -3 2 -3 10 -1 2 1 2 5 -1 4 -2 3 -3 1zM916 309l-2 -1 -2 -3 0 -3 2 -1 3 1 1 3 0 3 -2 1zM513 315l0 -1 0 1zM975 366l-1 0 0 -3 1 0 0 3zM994 379l-2 -3 0 -2 2 2 0 3zM1161 428l-2 -2 1 -3 2 3 -1 2zM454 477l-2 1 -4 -1 -2 -3 3 -11 1 -2 2 -1 3 4 2 5 -1 4 -2 4zM666 462l-1 1 0 -2 1 0 0 1zM688 469l-2 -1 -2 -3 0 -2 1 -1 2 0 2 2 0 3 -1 2zM455 490l-2 0 -1 -3 0 -4 2 -3 5 3 2 4 -1 1 -5 2zM826 531l-2 1 -2 -1 -2 -4 0 -3 8 -15 2 -2 3 0 3 2 1 2 -2 16 -2 3 -7 1zM401 533l-1 -1 1 -4 2 -5 1 -7 1 0 2 3 0 4 -4 9 -2 1zM616 534l-1 0 -6 -6 -1 -2 1 -2 4 1 3 3 1 2 -1 4zM1045 540l-1 0 -3 -4 -6 -4 -1 -4 2 -4 2 0 7 2 2 3 2 6 -1 2 -3 3zM632 561l-3 0 -2 -6 -6 -5 -2 -5 0 -3 7 -2 5 6 4 8 -1 5 -2 2zM1041 554l-6 -1 -3 -2 -1 -3 2 -4 2 -1 5 1 4 -2 1 1 2 4 0 3 -3 3 -3 1zM1062 579l-3 0 -2 -1 -1 -2 1 -3 -4 -5 -1 -3 -1 -4 1 -5 2 -2 2 -1 4 0 4 2 3 7 0 6 -3 6 0 4 -2 1zM1209 627l-4 0 -4 -3 -3 -3 -3 -1 -2 -5 -2 -14 -5 -7 -6 -6 -3 -5 -1 -3 1 -1 1 -12 0 -7 1 -3 3 -2 7 0 3 2 1 9 5 6 2 1 2 6 2 15 6 7 5 4 2 4 1 4 -1 3 0 1 -2 0 -5 9 -1 1zM1154 569l-2 1 -2 -1 -2 -4 0 -6 2 -3 2 0 1 1 3 5 0 4 -2 3zM526 614l-2 -2 0 -4 2 -3 2 -1 0 6 -2 4z" fill="#ef3e02" fill-rule="evenodd"/><path d="M333 305l-7 -1 -2 -1 0 -6 -2 -5 4 -4 4 0 4 5 1 7 -2 5zM644 306l-2 1 -3 -2 -4 -5 0 -3 2 -1 8 1 1 2 1 3 -1 2 -2 2zM453 475l-2 -1 -1 -2 0 -7 2 -2 2 2 2 4 -1 3 -2 3zM456 488l-2 0 -1 -2 0 -2 2 -2 3 2 1 2 -3 2zM824 530l-3 -3 0 -4 7 -12 2 -2 3 0 2 2 1 2 -2 14 -1 1 -4 0 -5 2zM1046 537l-2 0 -4 -5 -3 -1 -1 -2 1 -3 2 0 7 2 2 5 -2 4zM631 560l-1 -1 -2 -5 -6 -5 0 -4 3 -2 2 0 2 2 4 8 0 4 -2 3zM1041 553l-4 0 -4 -2 -1 -3 1 -2 2 -1 9 1 1 2 0 2 -4 3zM1061 579l-2 0 -2 -2 1 -4 -5 -5 -1 -4 0 -7 2 -2 2 -1 4 0 3 1 2 3 2 5 0 5 -3 6 0 3 -3 2zM1208 625l-5 0 -5 -5 -2 0 -2 -5 -3 -15 -5 -7 -6 -5 -2 -5 -1 -2 2 -14 0 -6 0 -3 3 -2 6 0 4 2 0 8 6 7 1 0 2 6 2 15 6 7 5 4 2 4 1 4 -1 3 -2 1 -3 6 -3 2zM1154 568l-3 1 -3 -4 0 -5 2 -3 3 0 1 3 1 5 -1 3z" fill="#f72500" fill-rule="evenodd"/><path d="M331 302l-5 -2 0 -4 -2 -3 1 -2 2 -2 4 1 2 5 0 5 -2 2zM825 527l-2 -1 0 -4 6 -10 3 0 2 3 -2 6 -7 6zM1045 532l-2 0 1 -2 1 1 0 1zM1040 551l-5 0 -1 -2 0 -2 2 0 4 2 1 1 -1 1zM1061 578l-3 -1 1 -4 -5 -5 -2 -4 1 -7 2 -2 2 -1 3 1 3 2 3 7 0 5 -4 5 1 3 -2 1zM1206 624l-4 -1 -4 -5 -1 2 -2 -5 -2 -15 -6 -7 -6 -6 -2 -4 -1 -2 2 -14 -1 -6 2 -3 2 -2 5 1 3 2 0 7 6 8 2 1 2 4 2 16 11 11 2 4 0 3 -1 3 -1 0 -4 6 -4 2zM1153 567l-2 0 -2 -2 -1 -4 2 -3 2 0 2 3 1 4 -2 2z" fill="#fd0b00" fill-rule="evenodd"/><path d="M330 295l-3 -2 1 -2 2 1 0 3zM1062 573l-2 0 -2 -2 -5 -6 0 -6 3 -4 3 0 2 1 4 7 0 5 -1 3 -2 2zM1207 622l-4 1 -2 -2 -2 -3 -2 -1 -1 -8 4 -2 0 -2 -4 -2 -8 -11 -6 -5 -2 -4 -1 -2 2 -14 -1 -6 3 -4 3 0 4 2 0 8 7 8 1 0 2 4 2 16 4 5 7 6 2 4 0 5 -2 1 -3 4 -3 2zM1152 566l-2 -1 -1 -2 0 -3 2 -1 1 1 1 3 0 2 -1 1zM1061 577l-1 0 0 -2 1 1 0 1z" fill="#f60306" fill-rule="evenodd"/><path d="M1062 571l-2 0 -2 -1 -4 -5 0 -6 2 -3 2 0 3 1 3 6 0 5 -2 3zM1206 621l-4 0 -3 -4 -1 0 0 -4 4 -6 -1 -5 -8 -5 -5 -6 -6 -5 -2 -4 0 -8 3 -8 -2 -4 2 -3 3 -1 3 2 0 2 -2 4 11 10 3 11 0 8 4 5 7 6 2 4 0 5 -2 0 -2 4 -4 2zM1151 563l-1 -1 1 -1 0 2z" fill="#e60810" fill-rule="evenodd"/><path d="M1062 570l-3 0 -4 -5 -1 -5 2 -3 2 -1 2 2 3 6 1 3 -2 3zM1185 564l-2 0 -1 -2 1 -2 2 -1 3 2 -1 2 -2 1zM1201 598l-2 1 -5 -3 -12 -12 -1 -2 0 -7 1 -3 2 -3 6 2 6 5 1 0 3 12 1 10zM1206 619l-2 1 -2 -1 -3 -4 4 -6 1 -7 8 5 2 5 -1 2 -1 0 -2 3 -4 2zM1199 616l0 -1 0 1z" fill="#d60c19" fill-rule="evenodd"/><path d="M1061 569l-2 -1 -4 -5 0 -3 2 -2 2 1 3 7 0 2 -1 1zM1199 595l-2 1 -2 -1 -12 -11 -1 -2 0 -5 2 -5 6 1 6 5 3 12 0 5zM1206 617l-3 1 -2 -4 2 -4 2 -5 1 0 5 3 2 4 0 1 -4 3 -3 1z" fill="#c50f21" fill-rule="evenodd"/><path d="M1057 563l-1 -2 1 -2 1 2 -1 2zM1198 593l-1 1 -2 -1 -11 -9 -1 -2 0 -5 1 -2 5 0 6 4 1 5 2 6 0 3zM1207 615l-3 0 -1 -2 4 -6 3 1 2 4 0 1 -5 2z" fill="#b51228" fill-rule="evenodd"/><path d="M1194 587l-2 0 -7 -3 -1 -2 1 -4 3 -1 5 2 1 1 0 7zM1208 613l-3 -1 2 -3 2 0 1 3 -2 1z" fill="#a51530" fill-rule="evenodd"/><path d="M228 359l-3 0 -2 -2 1 -12 -7 0 -7 -11 -9 -3 -2 -2 -1 -7 1 -19 -1 -3 -5 -6 -2 -6 32 0 -1 3 -5 -2 -8 11 0 13 4 9 4 -4 7 -2 2 -3 4 -7 0 -12 1 -3 3 -3 9 1 3 -1 2 7 2 2 2 -2 1 -7 31 0 -7 12 -2 1 -6 -1 -2 2 -1 6 3 14 0 3 -2 2 -6 2 -2 -2 -2 -7 -2 -2 -4 3 -10 -1 -12 4 -1 3 1 10 5 8 1 4 -2 6 -5 4zM300 309l-3 -1 -2 -4 -2 -9 0 -7 15 0 0 7 -2 8 -2 4 -4 2zM363 347l-10 0 -2 -2 1 -2 6 -9 5 -1 3 -3 7 3 2 -3 -4 -9 -2 -2 -4 8 -4 -1 -5 -11 -3 -3 -7 6 -2 1 -2 -1 -1 -5 3 -20 2 -5 54 0 -2 5 -6 10 -2 10 -3 6 -9 23 -2 1 -5 -2 -8 6zM445 296l-2 0 -3 -4 -8 -1 -2 -3 19 0 -1 5 -3 3zM489 309l-8 0 -4 -3 -3 -6 -1 -12 23 0 -2 18 -2 3 -3 0zM542 382l-5 -2 -3 -2 -2 -3 -3 -6 -5 -7 0 -5 3 -11 0 -22 -9 -26 -6 -10 20 0 0 5 12 29 2 29 -2 15 1 9 -1 4 -2 3zM558 305l-13 -17 18 0 -5 17zM568 676l-20 0 1 -6 -1 -6 -2 -3 -4 -4 -1 -3 0 -4 2 -3 1 -1 5 -1 3 -3 7 -26 6 -13 -3 -9 0 -8 -4 1 -1 -2 -3 -16 -2 -3 -4 -3 -1 -3 -1 -8 2 -17 0 -4 -2 -3 -2 -1 -2 1 -6 3 -2 3 -6 13 -3 22 -2 5 -3 3 -3 -1 -8 -8 -5 0 -5 -3 -4 -1 -4 3 -11 14 -3 2 -4 -5 -3 -10 -1 -1 -7 -1 -5 -2 -2 1 -10 14 -3 12 -1 2 -2 -1 -1 -1 -1 -8 3 -17 14 -12 5 -11 1 -1 1 0 6 10 4 0 1 -3 -3 -18 2 -7 3 -4 5 -1 4 3 3 8 -2 11 8 7 2 -1 8 -12 2 -5 -2 -3 -1 -21 -7 -20 1 -4 3 -4 2 -1 4 1 5 -3 7 9 2 1 1 -1 1 -4 0 -9 -3 -16 8 -21 1 -3 -2 -8 1 -4 3 -3 6 -3 2 -10 6 -8 1 -1 1 2 2 11 1 1 1 0 4 -6 4 -15 2 -5 3 -1 2 0 7 6 2 -2 3 -5 1 -5 0 -11 3 -10 -1 -12 2 -12 -5 -22 -1 -14 -1 -1 -4 -2 -3 -3 59 0 -3 8 -1 9 3 11 -1 11 -1 3 -2 -1 1 -7 -1 -4 -5 -5 -4 0 -6 3 -11 -1 -1 2 -2 11 -5 10 1 7 2 3 1 0 1 -5 3 -5 3 -2 2 1 2 3 4 13 7 6 4 5 9 26 0 6 -2 9 -1 1 -1 0 -4 -4 -6 -3 -3 -13 -2 -11 -1 -3 -2 -2 -9 9 -2 9 1 7 9 23 1 6 -2 3 -2 0 -2 -1 -5 -10 -3 -2 -6 -1 -1 -1 -2 -3 -4 -14 -2 -4 -3 -2 -2 3 -3 10 -4 6 -3 14 -3 5 -1 1 -2 -1 -8 -13 -7 2 0 3 1 12 4 16 0 7 -3 5 -5 4 -4 9 -6 11 -4 5 -1 4 0 8 2 3 3 1 8 -4 7 -6 13 -1 10 -5 2 -2 1 -4 2 -19 2 -6 3 -1 8 3 5 -1 5 -6 9 -4 1 -10 2 -3 2 -1 4 1 4 9 7 2 6 0 1 1 2 9 -3 24 1 5 2 4 2 0 2 -2 -2 -12 0 -4 1 -2 3 -2 5 0 2 3 2 5 0 10 -4 8 0 3 -2 18 2 14 -2 3 -3 -1 -6 -10 -1 -14 -2 -6 -2 -1 -5 -2 -4 -6 -6 -5 -4 -2 -5 0 -3 2 -9 12 -6 7 -1 3 0 12 -3 9 -1 -1 -2 -5 -1 -12 -4 0 -3 2 -1 2 0 18 1 5 2 1 3 0 6 -6 7 8 1 2 -2 6 -1 0 -3 -1 -2 2 -3 8 -3 0 -5 -4 -1 -1 -1 2 0 11 3 12 4 1 2 -2 3 -15 2 -3 4 -3 6 3 6 -1 1 -2 3 -10 2 -1 1 5 0 9 1 3 2 1 1 0 4 -9 1 -1 2 1 6 11 11 9 1 14 2 7 1 1 5 -3 3 1 7 9 2 10 -1 4 -2 2 -5 1 -4 7 -1 1 -1 -2 1 -6 -1 -4 -8 -9 -2 0 -2 1 -4 8 -5 6 -4 8 -3 3 -4 2 -4 0 -3 -2 -4 -4 -3 0 -1 3 0 7 0 3 -7 8 -5 1 -4 4 -3 8 -2 13 -1 0zM670 306l-2 1 -2 -1 -3 -4 -3 -8 0 -6 13 0 0 11 -1 4 -2 3zM709 319l-3 0 -3 -2 -2 -3 -1 -3 4 -23 14 0 -1 10 -4 15 -1 4 -3 2zM745 317l-3 -1 0 -7 -1 -3 -5 5 -2 0 -2 -1 -4 -12 -4 -4 -1 -6 18 0 1 4 2 3 9 9 1 2 -1 2 -8 9zM833 358l-10 -7 -2 -2 0 -4 -2 -5 0 -3 2 -3 6 -3 0 -1 -6 -16 -5 -7 -6 -2 -6 -5 -10 -4 -2 -3 -2 -5 47 0 2 22 3 1 6 -4 2 0 2 3 1 3 0 4 -4 9 -2 2 -7 3 -4 4 -2 21 -1 2zM865 368l-1 0 -2 -5 -2 -12 0 -6 2 -4 2 -2 3 1 1 -1 -5 -14 1 -7 5 -3 3 -4 4 -10 3 -13 27 0 -5 3 -2 8 3 17 6 9 0 2 -1 3 -3 2 -7 -3 -6 -7 -6 -4 -2 0 -4 17 -3 7 -2 2 -2 0 -3 -2 -1 -2 1 2 0 12 -4 14zM918 289l-2 1 -4 -2 7 0 -1 1zM931 294l-3 -1 -3 -5 8 0 -1 4 -1 2zM982 475l-3 0 -2 -1 -4 -10 -2 -1 -6 0 -4 5 -3 0 -3 -6 -3 -11 -8 -5 -6 0 -11 -2 -3 -3 -3 -8 -3 -7 -2 -11 3 -8 -4 -13 3 -10 7 -8 5 -8 15 -7 4 -4 2 -4 -2 -5 -5 -1 -3 -2 -3 -7 -5 8 -3 1 -3 -1 -2 -4 -1 -6 3 -5 10 0 2 -1 1 -6 -1 -9 1 -2 5 -3 9 -1 2 1 1 2 -2 11 1 6 5 10 2 0 2 -3 2 -9 2 -22 -4 -17 12 0 0 10 2 2 14 -2 2 -4 1 -6 5 0 1 8 3 3 2 0 3 -3 2 -8 6 0 2 27 -1 5 -2 1 -3 -8 -2 -3 -5 -1 -5 2 -1 2 -1 3 2 19 -5 9 -3 2 -5 -1 -5 0 -8 4 -8 9 -1 13 -2 4 -7 4 -4 7 -3 0 -4 -5 -2 -1 -4 3 -3 4 5 28 3 10 1 2 1 -1 1 -7 3 -3 2 1 1 4 5 5 0 3 -1 2 -5 0 -1 2 -1 9 1 7 11 8 3 -7 6 -5 5 -9 1 0 5 1 6 -1 3 3 2 5 -1 4 -4 6 -5 0 1 14 -1 5 -3 2zM1143 676l-2 0 -2 -16 -1 -3 -1 0 -5 9 -2 10 -11 0 -2 -3 -6 -4 -1 7 -7 0 -1 -6 -2 -2 -7 8 -48 0 -1 -13 2 -8 -1 -3 -2 1 -3 3 0 -20 1 -2 3 -2 2 0 2 2 2 13 2 3 4 2 5 -2 1 1 1 11 2 5 10 -7 4 -10 8 -6 0 -4 -3 -6 -3 -2 -7 -1 -2 -1 -2 -3 -1 -5 0 -8 5 -13 0 -13 3 -8 2 -13 2 -2 5 7 4 4 2 -4 2 -13 1 -2 2 0 9 2 9 14 2 0 5 -11 -3 -17 2 -13 1 -1 6 3 1 -2 4 -29 -1 -18 -1 -2 -3 -1 -3 2 -2 4 -5 18 -6 3 -7 7 -6 10 -1 1 -1 -1 -3 -11 0 -13 0 -1 3 0 2 -2 2 -4 1 -5 -2 -15 0 -20 1 -11 -1 -3 -2 -2 -2 0 -1 1 -3 7 -2 3 -2 0 -4 -2 -1 0 -4 10 -1 14 -3 9 -2 1 -2 1 -2 -2 -1 -2 -2 -9 1 -8 2 -3 5 -2 1 -3 -8 -26 0 -9 1 -5 2 -1 4 3 4 -2 4 5 7 1 4 4 2 1 2 -4 1 -4 -1 -10 -1 -3 -2 1 -3 3 -2 0 -14 -5 -5 0 -2 -2 -7 -13 -4 -3 -5 9 -5 12 -2 1 -6 0 -6 6 -2 4 -2 9 -2 4 -2 0 -2 -1 -6 -6 1 -17 4 -11 5 -5 2 0 3 1 2 0 5 -7 0 -4 -2 -3 -3 0 -4 4 -2 1 -3 -3 0 -2 5 -10 2 -8 4 -5 1 -5 4 -6 5 -3 2 -5 -1 -5 -7 -14 -2 -1 -8 0 -4 -2 -1 -4 1 -5 3 -4 7 2 6 -2 1 1 2 10 2 2 3 0 4 -5 4 -15 1 -5 22 0 2 10 7 28 1 10 1 4 4 3 7 0 9 4 9 14 2 4 3 18 0 4 -2 3 -4 4 -3 0 -3 -2 -3 -6 -2 -1 -6 4 -3 6 0 4 1 2 8 4 2 3 -3 28 3 21 3 9 2 2 3 0 7 -5 2 0 2 3 3 11 1 1 4 -2 6 -7 7 0 6 -5 4 -2 2 0 1 1 1 3 -2 6 -4 5 -6 2 -3 5 1 5 3 7 2 1 5 -1 7 0 5 -7 3 -2 2 2 6 9 6 7 2 1 3 -2 1 -16 7 -12 5 -24 -1 -7 -4 -11 -1 -12 -1 -6 -4 -6 -6 -3 -1 -2 0 -7 1 -11 -3 -3 -3 -2 -6 3 -7 1 -2 2 -2 4 -2 14 -2 1 -2 0 -5 -3 -2 -4 -2 -8 1 -4 3 -9 1 -6 -5 -16 2 -15 -1 -7 -3 -4 -3 -2 -9 5 -7 1 -3 -5 -3 -10 -6 1 -2 0 -13 -10 -6 -16 -1 -7 9 0 1 12 1 3 2 2 5 -3 6 -1 0 -13 15 0 0 10 1 5 3 3 7 3 2 -1 1 -4 1 -16 8 0 -3 17 2 8 6 13 2 13 -1 27 1 5 3 3 2 0 4 -5 2 -7 -3 -15 -5 -14 1 -5 4 -7 -6 -17 0 -4 3 -12 9 0 2 16 -1 13 -3 6 0 3 2 2 2 0 2 -4 5 -3 1 -3 -1 -30 17 0 1 6 2 4 3 2 6 1 5 5 0 4 -4 6 -4 14 -1 1 -3 -3 -7 -8 -2 0 -3 2 -2 4 -6 21 6 15 5 9 3 30 3 7 1 5 3 -4 7 -2 4 0 0 29 -5 -3 -2 1 -1 3 -2 12 2 7 1 1 4 1 2 4 1 12 -3 4 -2 1 -7 -5 -2 1 -1 6 0 15 -6 12 -1 11 -3 5 -3 1 -2 0 -3 -2 -5 -7 -8 -4 -4 -1 -4 5 -1 5 1 5 3 9 0 3 -3 3 -7 0 -6 -3 -8 -9 0 -4 3 -12 0 -4 -2 0 -3 2 -2 4 -2 14 -3 14 -2 3 -4 1 -2 2 1 4 4 10 2 2 3 1 2 2 7 12 0 3 -4 10 1 9 2 5 1 0 4 -7 6 -3 4 1 6 4 2 4 -1 3 -4 7 -6 13 -3 3 -6 1 -3 3 -2 10 0 13 -5 17zM1069 339l4 -3 1 -3 1 -15 3 -12 -1 -9 -3 -4 -3 -2 -4 4 -3 7 -1 26 1 10 2 2 3 -1zM1205 305l1 -7 -1 -2 -2 -1 -2 2 -1 3 3 5 1 1 1 -1zM362 311l2 -3 0 -4 -1 -4 -2 -2 -2 3 -1 5 2 5 2 0zM827 309l-1 -3 0 -1 -1 0 0 3 1 2 1 -1zM723 320l-2 -2 -1 -3 0 -3 2 -2 2 2 1 3 -1 3 -1 2zM411 337l-1 1 -1 -1 -1 -3 -1 -7 0 -6 3 -6 5 -4 2 3 0 6 -3 11 -3 6zM808 329l-4 -1 -3 -4 1 -6 2 -2 5 2 3 4 0 4 -4 3zM512 402l-4 1 -1 -1 -1 -17 0 -14 -1 -3 -5 -5 -3 -13 -4 -3 -4 -6 -3 1 -4 9 -2 2 -3 -2 -3 -6 1 -6 8 -7 2 0 4 4 2 -1 4 -6 1 -9 1 -1 4 -2 1 1 6 12 1 7 -1 3 -4 0 -2 1 -1 5 5 5 4 10 6 5 2 4 -1 28 -1 3 -4 1zM732 338l-1 0 -1 -3 1 -7 3 -6 2 -2 2 0 1 3 -2 9 -2 4 -3 2zM190 334l-3 -1 -1 -4 1 -6 3 -3 2 4 1 4 -1 3 -2 3zM377 676l-8 0 -1 -4 -2 -2 -2 6 -53 0 0 -22 4 -3 6 -1 1 -2 0 -5 0 -11 -7 -4 -3 -3 -5 -23 -1 -24 1 -3 5 -6 0 -6 -3 -2 -8 -1 -5 -2 -9 -14 -3 -3 -3 -2 -3 2 -2 5 3 20 -1 3 -1 2 -3 1 -3 -2 -4 -6 -1 -5 4 -12 2 -14 6 -8 3 -13 3 -8 12 -16 3 -13 1 0 4 6 3 2 1 7 2 0 3 -3 1 -4 -5 -3 1 -5 5 -9 2 -1 1 0 1 3 -1 10 6 3 3 4 0 3 -7 16 1 6 2 1 15 -12 3 -11 2 -3 3 -1 9 3 2 -1 -1 -12 0 -5 7 -11 3 -14 4 -7 4 -2 3 1 2 3 3 7 2 2 3 1 2 0 12 -7 3 0 7 3 3 -1 3 -8 -1 -11 0 -13 -1 -2 -2 -2 -6 6 -2 -1 -2 -4 0 -13 -4 -10 -3 -3 -5 4 -2 -1 -1 -8 2 -15 -1 -12 1 -2 2 -1 9 4 2 -1 4 -4 2 -1 8 12 2 2 6 -5 2 -4 4 -25 1 -4 2 0 7 7 4 3 1 5 -2 7 -3 5 -6 2 -2 1 -2 13 -3 5 -2 1 -2 0 -6 -8 -5 7 -1 5 0 6 3 7 2 1 4 0 2 3 2 14 3 9 2 3 4 0 2 1 2 6 -1 6 -3 5 -2 0 -1 0 -3 -6 -2 -1 -3 2 -2 4 1 8 2 8 3 6 1 5 -2 7 -6 11 -3 13 -2 3 -2 1 -5 -5 -2 0 -5 6 -12 4 0 3 1 13 -2 11 -1 1 -9 0 -6 2 -2 -1 -2 -4 -1 -7 2 -11 5 -9 -6 -9 -1 -1 -2 1 -2 3 -1 22 -2 1 -4 -2 -4 -1 -3 2 -1 4 1 3 4 4 1 6 4 10 6 12 1 4 -1 4 -3 3 -2 -1 -1 -1 -5 -11 -6 -9 -8 -14 -1 0 -4 11 -5 7 -4 9 1 2 5 0 2 -1 4 -5 2 0 2 3 1 7 3 7 2 13 3 3 3 7 2 1 10 1 7 -1 2 2 0 6 -6 6 -4 10 -3 0 -4 -4 -2 -10 -3 -5 -3 -2 -4 -1 -4 0 -5 3 -4 1 -3 5 -1 7 2 8 2 1 5 0 5 6 1 7 0 15 2 6 3 2 6 -5 13 -6 13 -24 1 -1 1 1 4 11 0 6 -2 3 -6 0 -3 1 -2 2 -2 4 2 5 4 4 1 3 1 6 -2 9zM674 340l-2 1 -3 -1 -2 -2 -1 -2 0 -9 1 -3 2 -2 3 2 3 8 1 5 -2 3zM223 556l-1 0 -2 -8 -6 -11 -2 -6 1 -14 3 -11 2 -13 3 -10 0 -7 -2 -7 -1 -3 -3 0 -11 6 -6 4 -2 4 -3 10 0 10 -2 2 -2 -1 -1 -2 3 -8 -2 -6 -3 -1 -8 3 0 -24 5 -4 2 -5 -2 -6 -5 -1 0 -28 7 6 2 0 4 -4 2 0 2 7 1 1 2 0 6 -8 4 -16 1 -1 5 3 1 -1 2 -2 2 -6 2 -2 2 4 1 5 2 6 0 3 -6 11 -7 8 -1 4 1 4 1 3 7 5 2 0 2 -20 3 -3 5 -3 2 -4 0 -14 4 -14 2 -13 1 -3 1 -1 2 0 6 6 2 1 7 -2 3 0 2 2 2 6 1 -2 -2 -9 1 -11 1 -4 1 -1 2 0 14 21 5 13 3 3 2 -3 1 -8 -1 -2 -6 -4 -2 -4 0 -23 3 -17 3 -3 7 -2 4 -6 2 0 2 1 0 3 -4 14 -1 16 1 11 1 3 2 3 2 -2 2 -5 1 -15 2 -1 4 1 2 -1 2 -3 2 -6 0 -8 0 -6 -2 -2 -5 -2 -1 -2 3 0 5 4 6 -3 3 0 2 4 0 8 4 4 1 3 -4 12 -1 11 -1 4 -2 3 -5 -1 -7 5 -2 6 -6 6 -4 14 -4 3 -8 0 -3 10 -2 4 -1 0 -1 -1 -5 -15 -7 -7 -1 0 -2 7 -3 4 -8 2 -4 2 -2 31 -2 6 -4 -3 -1 -4 2 -13 -1 -19 -4 -4 -2 0 -1 1 -2 10 1 21 -12 5 -5 5 -1 4 1 3 8 9 1 5 -1 7 -6 8 -2 5 3 19 -6 14 0 19 2 9 -2 5zM647 353l-2 0 -1 -2 0 -6 3 -9 1 -10 2 -2 2 5 -2 17 -1 4 -2 3zM788 328l-1 -1 1 -2 1 2 -1 1zM791 413l-2 -2 -1 -8 3 -15 1 -8 -1 -4 -2 -1 -2 2 -6 14 -2 1 -3 -1 -4 -2 -4 -5 -6 -14 -2 -9 -3 5 -2 2 -3 -2 -1 -3 0 -6 3 -5 3 1 3 6 3 -12 8 -8 3 -10 3 -2 4 3 1 4 -2 8 -7 7 -3 6 0 9 3 7 5 2 4 -1 9 -16 2 1 3 8 2 2 4 -3 6 -7 8 -1 1 2 1 4 -1 16 4 5 6 3 1 3 -1 13 -3 5 -2 0 -6 -2 -5 5 -2 1 -3 -1 -6 -6 -3 -1 -2 1 -4 9zM833 334l1 -4 -1 -1 -1 0 -3 2 2 2 2 1zM1215 393l-2 0 -1 -2 5 -10 1 -11 -5 -8 -1 -10 2 -9 3 -8 7 3 0 41 -5 4 -2 9 -2 1zM724 474l-2 1 0 -1 -1 -15 -3 -6 -2 0 -1 1 -4 10 -2 1 -13 -11 -2 -7 2 -15 -7 -10 -2 -1 -3 1 -6 7 -2 -9 -1 -2 -2 -1 -3 1 -6 6 -3 0 -2 -1 0 -3 6 -10 0 -5 -3 -4 -7 -3 -2 -4 1 -6 3 -3 3 2 9 10 3 2 14 5 3 -2 3 -3 2 0 3 5 2 5 0 22 5 5 2 1 2 -1 2 -4 2 -11 0 -13 2 -12 -2 -8 -5 -6 -1 -5 2 -5 5 -2 1 -1 2 -6 -1 -3 -6 -3 -2 2 -2 6 -2 2 -7 -4 -2 -2 -1 -6 1 -7 4 -8 4 -4 3 1 5 5 6 -2 2 0 2 4 2 11 2 0 6 -2 3 3 4 16 2 0 3 -5 3 -1 4 4 2 6 0 8 -1 13 -2 20 -4 17 -7 12 -5 13 -8 15zM251 344l-2 0 -1 -1 1 -2 2 0 1 1 0 1 -1 1zM1079 389l11 -7 7 -6 8 -6 2 -3 -1 -6 -2 -2 -5 -1 -5 -5 -3 2 -2 7 -1 0 -6 -5 -9 -4 -5 2 -5 -5 -3 6 -6 5 0 2 1 0 5 0 5 3 3 -1 0 3 -1 5 1 3 4 6 3 7 2 1 2 -1zM1011 385l-2 0 -2 -2 -3 -13 10 -15 3 -2 2 2 5 24 -3 5 -5 -4 -5 5zM476 458l-4 1 -3 -2 -6 -8 -2 -7 0 -15 -2 -1 -4 3 -2 0 -2 -2 -1 -3 0 -5 5 -15 0 -7 -1 -4 -4 -4 -2 -3 -3 -18 1 -5 2 -4 7 -4 3 1 1 4 -1 16 1 5 2 1 6 -1 2 1 1 2 -1 11 -1 5 -3 6 -1 4 2 5 5 1 3 5 0 9 3 9 2 9 -1 8 -2 2zM880 389l-2 -2 -1 -5 2 -8 0 -7 5 1 2 -1 4 -10 2 -2 4 2 4 -1 2 0 2 4 -1 13 -3 0 -5 -5 -2 0 -2 3 -3 8 -3 3 -2 5 -3 2zM1140 367l-2 -1 -1 -2 1 -3 2 -2 1 1 1 3 -2 4zM664 368l-1 -3 1 -2 1 3 -1 2zM209 377l-2 -2 -1 -4 0 -5 2 -2 5 2 1 1 -2 6 -3 4zM483 400l-4 -3 -2 -3 -2 -11 1 -7 6 -7 1 0 0 2 -2 12 3 15 -1 2zM231 380l-3 0 -3 -3 -1 -4 2 -3 3 0 4 4 0 4 -2 2zM205 401l-4 -1 -4 -12 -3 -6 -2 0 -3 0 -2 -1 0 -6 2 -4 5 -1 3 2 4 11 5 6 1 8 0 3 -2 1zM363 397l-3 0 -2 -5 3 -7 -2 -5 1 -4 1 -3 1 -1 2 1 1 3 -3 9 3 4 1 4 -1 3 -2 1zM331 450l-1 0 -7 -9 -2 -1 -5 0 -2 -2 -3 -7 -3 -12 1 -4 1 -3 7 -7 5 -2 1 -13 3 -4 3 -1 2 2 4 11 3 -1 6 -8 2 0 3 4 1 4 0 13 1 11 1 2 4 1 2 1 2 4 1 5 -2 7 -6 7 -2 1 -2 -2 -5 -12 -2 1 -4 6 -7 8zM745 389l-1 -2 0 2 1 0zM893 429l-2 -1 -1 -3 1 -13 -4 -6 -2 -4 1 -4 2 -3 2 1 9 7 3 12 -1 6 -8 8zM730 416l4 -3 2 -6 -6 -10 -2 -1 -2 2 -1 8 3 10 1 1 1 -1zM379 412l-2 0 0 -2 1 -6 1 -2 1 0 1 4 -2 6zM763 454l-6 1 -2 -2 -3 -8 -1 -6 1 -3 5 -5 2 -4 2 -19 2 -2 3 -1 4 2 5 5 6 9 2 6 -2 5 -3 5 -7 1 -3 12 -2 3 -3 1zM513 446l-2 1 -1 -1 -2 -3 -1 -7 0 -10 -3 -3 -1 -3 -1 -9 1 -3 2 -2 4 13 2 1 5 0 -2 6 2 13 -3 7zM929 429l3 -3 1 -6 -1 -8 -3 -5 -2 1 -1 2 1 5 -1 6 1 7 1 1 1 0zM1145 423l-2 1 -2 -2 -2 -3 -1 -4 2 -5 6 -3 4 2 3 5 -2 4 -6 5zM1173 419l-2 -6 0 -4 2 1 1 3 0 4 -1 2zM834 423l-2 -1 -1 -1 0 -8 2 -3 4 0 2 2 1 5 -2 4 -4 2zM978 422l-2 -3 -1 -3 1 -3 2 -2 2 1 1 4 -1 4 -2 2zM1054 444l-4 1 -3 -2 -2 -3 -2 -6 0 -5 2 -7 2 -7 2 -2 3 1 2 2 4 11 1 12 -1 2 -4 3zM652 435l-1 1 -1 -2 -2 -8 1 -7 2 -2 3 2 2 3 -4 13zM628 423l0 -3 0 3zM808 676l-28 0 0 -12 -2 -7 -5 -2 -5 4 -4 0 -6 -5 -3 -7 -3 2 -2 3 -3 13 -3 5 -4 1 -2 -2 -3 -5 -1 -4 1 -5 2 -5 4 -6 0 -3 -1 -8 -5 -9 0 -6 2 -3 2 -1 6 5 8 3 3 -9 2 1 4 2 3 -1 2 -6 -1 -14 3 -13 -1 -4 -1 -2 -6 -3 -4 -5 -1 0 -3 4 -5 3 -3 3 -3 6 -3 13 -3 4 -5 -1 -2 -1 -4 -10 -3 -3 -7 4 -10 -1 -3 9 -1 2 -2 1 -3 -1 -1 -3 4 -9 0 -10 4 -8 1 -10 3 -5 4 -3 10 3 3 -1 1 -5 -2 -7 -4 -5 -4 -1 -6 7 -7 3 -7 16 -4 12 -2 3 -2 0 -6 -12 -1 -8 1 -7 2 -6 2 -3 5 -3 2 -3 1 -18 6 -7 4 -11 4 -3 3 1 2 3 2 10 1 2 2 1 2 -5 3 -14 4 -4 3 -1 6 7 2 12 1 2 1 0 2 -8 0 -22 2 -3 6 -4 6 -9 3 2 4 10 2 2 4 -5 4 -2 5 -1 4 2 2 5 -1 11 1 5 2 3 4 -2 2 0 5 6 2 0 12 -8 3 -5 0 -5 -2 -4 -3 -1 -2 -2 -3 -5 0 -18 -1 -5 -1 -1 -2 1 -5 6 -2 2 -3 -2 -2 -5 1 -5 2 -3 5 -1 2 -1 5 -10 2 -2 3 -1 3 2 3 12 6 9 2 9 3 2 4 -2 2 1 8 13 3 12 -12 12 -7 15 -4 7 -8 9 -11 7 -11 12 -1 4 1 17 -4 14 1 16 -3 3 -6 -4 -2 0 -2 4 -1 6 3 17 2 2 9 0 4 3 2 13 3 9 2 7 2 3 4 2 3 3 3 7 1 4 -1 1zM859 462l-3 -5 -3 -10 -3 -5 -2 -1 -5 3 -1 -1 1 -5 2 -3 7 -5 2 0 3 2 5 6 2 4 -4 19 -1 1zM581 442l-3 1 -2 -4 0 -6 2 -2 2 1 1 3 1 4 -1 3zM882 458l-3 -2 -8 -12 1 -5 4 -5 10 3 2 3 1 6 -1 4 -3 6 -3 2zM288 451l-4 0 -4 -5 2 -6 4 -3 3 2 2 6 -1 4 -2 2zM1188 461l-2 0 -1 -2 -2 -7 1 -9 3 -3 3 4 1 6 0 7 -3 4zM274 457l-2 0 -1 -5 2 -7 2 -3 3 2 1 3 -3 8 -2 2zM1055 458l-2 -3 1 -5 1 -3 3 -3 1 3 0 6 -2 4 -2 1zM557 477l-2 -1 -4 -4 -2 -8 1 -9 2 -5 2 -2 2 2 1 2 1 8 1 12 -2 5zM345 471l-7 -6 -1 -3 0 -4 4 -2 5 0 2 2 1 2 -1 8 -1 2 -2 1zM914 486l-3 -1 -2 -3 -3 -16 0 -6 3 -4 2 3 5 15 0 7 -2 5zM1027 465l-1 0 0 -2 3 -3 0 3 -2 2zM480 466l0 -2 0 2zM868 483l-2 0 -2 -1 -2 -4 -1 -7 1 -2 2 -1 4 0 3 5 0 6 -1 3 -2 1zM1018 482l-3 0 -2 -5 1 -6 3 -2 3 1 1 3 -1 6 -2 3zM1093 500l-2 -2 -10 -14 1 -6 2 -3 3 1 6 8 1 5 -1 11zM268 521l-3 0 -2 -2 -8 -12 -6 8 -3 1 -2 -1 0 -4 3 -9 1 -10 2 -5 3 -4 3 1 4 4 5 -1 2 3 1 3 -2 9 5 10 -1 6 -2 3zM884 497l-1 0 -1 -3 -1 -7 1 -1 4 3 1 2 -1 4 -2 2zM928 497l-2 -1 2 -4 3 -2 4 -1 0 2 -7 6zM434 545l-2 0 0 -1 0 -13 -5 -31 1 -5 3 -4 8 15 3 11 -3 12 -1 11 -1 4 -3 1zM857 506l-3 0 -2 -3 0 -6 2 -3 2 1 2 5 1 3 -2 3zM987 676l-15 0 5 -20 -2 -10 -3 -7 -6 -4 -4 -6 -3 -1 -5 1 -6 6 -4 -9 4 -11 4 -15 3 -3 6 -2 2 -2 -1 -3 -5 -3 -3 -7 1 -7 6 -12 3 -4 4 -1 9 7 8 -6 2 -6 1 -22 2 -6 5 -9 0 -11 2 -2 2 1 7 8 3 -2 4 -9 2 0 3 4 7 23 -1 2 -7 8 -4 8 -4 5 -1 4 2 6 1 2 2 1 7 -6 2 -1 11 5 11 0 2 1 2 3 2 10 -3 6 -2 2 -4 2 -5 1 -2 2 -1 4 2 11 -1 3 -5 9 -1 7 -1 2 -1 -1 -1 -2 0 -3 2 -5 -2 -11 -4 -7 -6 -7 -4 0 -2 2 0 17 -1 3 -1 0 -4 -1 -5 1 -3 -2 -3 -7 -3 -14 -2 -3 -3 1 -9 6 0 7 0 10 1 5 5 10 2 3 7 -1 2 4 -1 10 -9 4 -2 5 -2 7 0 5 1 5 3 4 4 4 1 4zM935 602l-2 -1 -2 -4 -1 -11 1 -6 4 -7 1 -5 -2 -4 -3 -3 -5 1 -8 9 -4 2 -2 2 -1 5 2 10 -1 5 -3 1 -7 -2 -2 -1 -1 -3 2 -13 -3 -12 -3 -6 -3 -3 -2 0 -4 3 -2 -1 -4 -11 -5 -7 -3 -11 -4 -13 0 -7 1 -4 2 0 3 1 9 10 3 6 3 13 1 1 1 -2 3 -7 3 -6 11 -8 2 1 6 13 9 11 12 1 8 4 5 2 2 2 1 3 -1 4 -4 9 0 10 0 5 -10 21 -3 3zM237 524l-2 -2 -3 -9 0 -3 1 -2 2 1 3 7 0 5 -1 3zM746 534l3 -2 1 -2 0 -4 -1 -4 -3 -2 -6 2 -3 -3 -1 1 -1 2 0 3 3 2 4 7 4 0zM1076 527l-2 -1 1 -3 1 -2 3 -1 1 1 1 3 -2 2 -3 1zM460 532l0 -2 0 2zM251 567l-2 -1 -8 -18 -2 -10 1 -5 5 3 3 5 3 20 0 6zM870 615l-3 -1 -3 -2 -5 -11 -2 -3 -9 -3 -3 -6 -2 -2 -11 -6 -6 -1 -6 -7 1 -4 3 -2 7 1 8 3 4 0 5 -12 1 -14 2 -2 10 5 0 3 -2 12 -3 3 -6 2 -2 4 0 3 3 3 5 3 18 6 3 3 0 5 -7 20zM772 566l8 -14 0 -3 -1 -1 -3 1 -1 2 -3 10 0 5zM437 650l-2 0 -5 -8 -3 -1 -2 -2 -6 -8 -6 -11 -3 -3 -5 -1 0 -4 4 -7 3 -2 5 -1 -6 -5 -4 -6 -1 0 -5 6 -5 -1 -6 -3 -5 -11 -2 -1 -3 2 -1 0 -4 -19 1 -6 2 -3 11 -3 10 0 7 10 7 6 4 1 6 -4 2 2 3 12 3 9 -2 14 2 6 1 13 3 4 7 4 3 4 -1 4 -7 13zM209 676l-8 0 -2 -4 -1 1 -1 3 -19 0 0 -30 9 5 3 -1 2 -4 -2 -3 -4 -3 -3 -1 -5 1 0 -88 3 1 1 2 5 18 2 11 2 4 2 -1 0 -7 3 -4 4 -1 6 4 6 -7 2 -1 1 1 2 8 1 1 7 -2 9 0 2 1 1 2 0 5 -2 3 -5 5 -13 14 4 11 4 4 1 2 -1 7 1 13 -3 11 -5 5 -7 5 -2 9zM315 589l4 -4 1 -3 1 -6 -1 -9 3 -8 -1 -1 -3 1 -2 2 0 6 -3 6 -1 15 0 1 2 0zM804 628l-2 0 -5 -4 -6 -1 -3 -6 1 -4 4 -6 5 -10 1 -19 1 -2 1 -1 4 3 2 4 2 15 -2 26 -1 3 -2 2zM482 676l-15 0 -1 -10 0 -3 2 -1 6 0 7 -3 5 -6 1 -2 -2 -3 -6 0 -3 -2 -7 -14 0 -6 7 -23 1 -1 1 1 4 6 2 -1 5 -14 12 -14 3 -2 2 2 1 3 5 22 -1 24 1 12 -4 5 -5 2 -5 1 -3 3 -1 2 1 7 -1 3 -4 3 -6 1 -2 8zM663 627l-1 1 -1 -1 -4 -15 4 -9 4 -20 3 -6 1 2 1 4 -3 13 1 5 3 3 8 -3 4 3 4 0 2 3 0 6 -1 4 -3 3 -10 2 -6 -1 -6 6zM972 587l2 -1 0 -3 0 -4 -1 -1 -3 2 -2 4 1 2 3 1zM460 592l-2 -1 -2 -5 0 -4 2 -3 3 2 2 5 0 4 -3 2zM892 606l-7 -8 -2 -5 1 -6 3 -5 2 -2 2 3 2 10 0 10 -1 3zM1224 590l-3 -2 0 -2 1 -3 2 -3 0 10zM823 609l-2 0 -3 -4 -2 -5 0 -4 3 -10 2 -2 4 -2 1 0 1 3 0 16 -1 5 -3 3zM288 602l-1 0 0 -1 -1 -7 0 -4 2 -2 2 1 1 4 -3 9zM1097 626l4 -5 2 -10 5 -6 1 -6 -2 -5 -1 0 -4 3 -6 -6 -5 -2 -3 6 0 12 -4 8 0 5 2 3 6 1 4 2 1 0zM251 676l-26 0 -1 -7 0 -6 1 -3 3 -2 5 -2 7 2 2 -1 2 -4 4 -20 -2 -7 -6 -5 2 -8 2 -1 7 0 4 -2 4 -4 7 -11 3 -2 1 0 1 3 4 14 0 4 -2 4 -5 1 -1 20 -2 4 -5 3 -1 1 -2 9 -5 10 -1 10zM1048 621l-3 0 -2 -5 -1 -6 1 -5 2 -2 7 -2 6 -5 1 5 -3 10 -3 6 -5 4zM199 599l0 -1 0 1zM723 676l-7 0 -1 -4 -2 -1 -2 1 -2 4 -5 0 -3 -23 0 -5 9 -27 3 -2 2 6 1 -1 -2 -6 1 -11 1 -5 2 -2 8 2 1 3 1 6 1 13 -2 15 -4 17 1 12 -1 8zM1182 620l-4 -4 -2 -8 3 -6 2 -1 4 2 2 6 -2 7 -1 3 -2 1zM423 605l0 -2 -1 -1 -2 0 -1 1 4 2zM459 664l-2 0 -4 -3 -2 -6 -1 -11 -1 -10 2 -9 1 -5 -3 -9 0 -4 0 -3 2 -1 3 3 2 9 4 9 2 5 -3 13 2 16 -2 6zM545 615l-2 -1 -2 -2 1 -3 2 -1 2 3 0 3 -1 1zM202 619l0 -5 -2 -3 -1 -1 -1 3 0 5 2 2 2 -1zM846 643l-9 -3 -4 -13 -2 0 -4 2 -2 -1 -1 -4 1 -5 4 -5 2 0 4 3 7 2 4 4 2 9 -1 8 -1 3zM352 630l-1 1 -2 -1 0 -5 2 -7 3 -3 1 3 0 5 -1 4 -2 3zM934 647l-3 0 -1 -2 -1 -18 1 -8 3 -3 3 3 4 9 -2 14 -2 4 -2 1zM1129 635l4 -16 0 -3 -1 -1 -3 5 -4 11 1 3 2 1 1 0zM888 643l-7 -7 -4 -2 -1 -2 1 -8 4 -5 1 0 8 11 -1 11 -1 2zM409 676l-18 0 1 -4 5 -10 1 -8 -3 -14 1 -5 3 -8 3 -5 1 1 1 4 1 9 -4 15 5 8 2 5 2 8 0 4 -1 0zM679 676l-12 0 0 -12 1 -6 2 -5 5 -6 4 -11 5 -1 6 -9 3 -2 2 6 0 13 -2 3 -2 1 -5 -3 -3 4 -6 14 0 5 3 7 0 2 -1 0zM1224 676l-12 0 -1 -7 -5 -3 -3 -1 -3 1 -2 4 -1 3 2 3 -39 0 -2 -5 0 -5 3 -8 6 -7 6 -13 3 0 6 4 3 0 6 -2 4 -7 1 -3 1 0 3 1 9 5 7 -1 7 -3 1 2 0 42zM1017 676l-11 0 -2 -11 -4 -8 -4 -7 -2 -4 1 -5 4 -3 3 -1 5 2 4 3 1 4 1 17 4 9 0 4zM537 676l-13 0 -1 -3 -1 0 -1 3 -3 0 -1 -12 1 -12 -3 -10 1 -2 4 -1 4 1 4 7 6 7 2 5 1 17zM301 652l-2 0 0 -6 1 -5 3 -1 4 3 1 6 -7 3zM416 654l-4 -1 -3 -5 1 -5 2 -2 2 -1 4 1 2 5 -1 6 -3 2zM913 676l-14 0 1 -13 -5 -5 -2 -6 9 -10 3 1 2 4 6 24 0 5zM620 662l-3 0 -2 -1 -1 -6 1 -6 4 -4 2 1 1 2 2 12 -4 2zM1139 648l0 -2 0 2zM964 676l-14 0 2 -22 2 -2 7 -5 2 1 1 3 1 25 -1 0zM299 676l-11 0 -3 -10 -6 -10 0 -4 1 -2 2 0 4 5 4 4 4 10 5 5 1 2 -1 0zM830 676l-7 -4 -3 -7 0 -5 1 -4 2 -4 3 -2 5 1 2 3 2 4 0 4 -2 9 -1 3 -2 2zM924 665l-2 1 -3 -1 -4 -5 0 -5 2 -3 2 -1 6 0 3 2 1 2 0 5 -5 5zM653 659l0 -4 0 4zM643 676l-17 0 -2 -15 7 -4 2 -1 2 1 7 14 2 4 -1 1zM193 661l0 -2 -1 0 0 3 1 -1zM589 676l-9 0 1 -12 2 -4 2 2 3 6 1 8zM882 676l-11 0 0 -10 3 -5 2 0 1 1 5 13 1 1 -1 0zM424 676l-7 0 2 -8 3 -3 2 2 0 9zM438 676l-4 0 0 -10 1 -2 3 7 1 5 -1 0zM944 676l-7 0 0 -5 2 -2 3 1 2 4 0 2z" fill="#e5eee5" fill-rule="evenodd"/><path d="M209 330l-6 0 -3 -3 -1 -5 2 -21 -2 -3 -5 -5 -1 -5 20 0 -1 4 -4 6 -1 2 3 23 0 6 -1 1zM266 325l-2 1 -2 -1 -3 -8 -4 -3 -2 1 -4 4 -8 0 -8 1 -5 -2 3 -9 -1 -13 3 -6 4 -2 4 2 3 4 2 9 2 2 2 -1 2 -4 2 -6 1 -6 28 0 -7 10 -2 0 -5 -1 -3 3 -2 9 4 11 -1 3 -1 2zM301 308l-3 -1 -2 -3 -2 -9 0 -7 13 0 0 7 -1 6 -2 5 -3 2zM377 342l-3 0 -1 -2 3 -10 -6 -14 -1 -1 -1 0 -2 5 -3 2 -2 -2 -2 -4 0 -3 3 0 2 -5 0 -7 -2 -4 -2 0 -2 3 -1 5 1 6 -1 1 -3 -3 -8 8 -2 0 -2 -1 0 -3 3 -18 1 -4 3 -3 49 0 -1 5 -7 9 -1 11 -11 28 -1 1zM435 288l-1 0 1 0zM446 289l-1 0 -1 -1 2 0 0 1zM489 308l-5 0 -3 -2 -2 -8 -3 -4 -1 -6 10 0 0 6 3 1 2 -1 0 -6 5 0 -2 16 -1 3 -3 1zM542 379l-4 0 -3 -2 -3 -4 -1 -5 -5 -7 0 -3 1 -4 4 -5 1 -5 -4 -6 -1 -15 -6 -16 -2 -9 -3 -6 0 -4 15 0 1 5 12 30 0 8 -1 6 2 15 -1 7 -2 6 2 9 -2 5zM555 296l-3 -1 -6 -7 12 0 -1 6 -2 2zM587 330l-3 -2 -3 -4 -4 -13 -1 -9 2 -14 41 0 1 4 0 8 -1 5 -2 4 -3 2 -9 4 -12 -2 -1 2 -2 11 -3 4zM670 305l-3 0 -4 -4 -2 -7 1 -6 10 0 1 10 -3 7zM709 316l-2 1 -3 -2 -2 -5 1 -6 3 -10 1 -6 10 0 -1 9 -5 16 -2 3zM736 309l-3 0 -2 -2 -2 -10 -3 -5 -1 -4 15 0 1 11 -3 7 -2 3zM797 292l-3 -1 -1 -3 7 0 -3 4zM834 309l-2 -1 -7 -10 -2 0 -4 5 -9 -2 -3 -5 0 -8 29 0 0 14 -2 7zM874 340l-2 0 -2 -3 -4 -10 0 -4 1 -3 6 -7 3 -8 4 -17 24 0 -3 3 -2 6 1 12 -1 11 -3 0 -7 -3 -6 -5 -3 -1 -1 2 -2 20 -3 7zM930 288l-1 0 1 0zM972 300l-3 -3 -2 -9 9 0 -1 9 -3 3zM1062 299l-1 1 -1 -2 1 -10 7 0 -6 11zM1103 293l-1 0 -1 -1 -1 -4 3 0 0 5zM1163 403l-3 0 -2 -2 -3 -8 0 -5 4 -15 -1 -4 -4 -12 3 -17 -1 -6 -5 -7 -2 -2 -10 6 -4 0 -3 -2 -2 -5 2 -14 0 -3 -2 -2 -2 0 1 6 -2 4 -4 4 -3 0 -3 0 -3 -3 -2 -3 0 -4 3 -5 3 -1 7 0 -1 -7 -1 -8 13 0 0 12 1 5 11 9 2 -1 4 -6 1 1 4 9 2 7 1 9 3 10 0 25 1 6 4 6 -3 10 -2 10 -2 3zM1155 298l-1 -2 0 -8 4 0 -1 8 -2 2zM1179 316l-2 0 -2 -3 -4 -9 0 -4 3 -12 5 0 3 10 0 12 -1 4 -2 2zM1204 415l-2 -2 -9 -12 0 -4 2 -10 -2 -6 -10 -2 -6 3 -4 -1 -1 -2 6 -11 1 -5 -3 -17 -3 -10 0 -5 1 -2 2 -1 4 4 3 1 4 -7 5 -4 1 -2 -1 -13 2 -9 -2 -10 10 0 -6 10 5 11 0 5 -5 9 -1 9 -5 11 0 4 0 4 5 14 6 6 1 4 1 18 3 15 -1 5 -1 2zM940 442l-10 -1 -3 -3 1 -3 3 -3 2 -3 1 -7 -1 -9 -3 -12 -1 -1 -5 9 2 6 -2 13 -1 1 -1 -1 -2 -2 -3 -10 0 -3 3 -5 -3 -15 0 -6 2 -4 6 -6 5 -7 7 -3 8 -5 5 -5 2 -4 0 -2 -1 -4 -7 -1 -4 -3 2 -29 1 -2 4 -2 5 1 2 1 1 16 4 10 1 6 1 0 5 -3 4 -28 3 -6 9 -6 3 -1 8 2 5 -4 2 0 7 5 2 1 4 -4 2 3 -1 3 -9 2 -3 2 -2 3 -1 3 2 18 -1 4 -3 5 -3 2 -10 -1 -9 4 -7 10 -2 11 -2 4 -2 1 -4 -1 -1 0 -3 8 -2 2 -6 -4 -5 3 -4 4 -1 3 4 12 5 35 -1 4 -4 2zM1034 312l-3 1 -3 -3 0 -4 2 -3 3 1 5 4 -4 4zM1215 325l-2 0 -1 -2 -2 -8 2 -9 2 -2 3 -1 2 2 1 3 -5 17zM1026 427l-3 -1 -4 -4 0 -4 0 -13 6 -9 3 -2 5 -2 3 -2 3 -5 2 -4 -2 -6 -7 -4 -1 -6 0 -4 2 -3 4 -3 1 -5 2 -3 7 -5 2 -3 0 -8 -4 -10 0 -3 5 -1 7 -7 3 -1 1 3 1 5 -1 23 -1 3 -2 2 2 5 0 3 -3 4 -6 4 -4 9 -1 4 1 4 8 4 0 5 -9 16 -7 3 -7 6 -6 15zM841 326l-2 0 -1 -1 -1 -7 5 -2 5 -6 2 0 2 4 -1 6 -3 3 -6 3zM358 313l0 -2 1 2 -1 0zM619 313l0 -1 1 -1 0 2 -1 0zM1087 354l-9 -2 -2 -2 -1 -4 2 -12 0 -15 2 -5 3 -2 3 4 3 10 2 22 -3 6zM411 334l-1 0 -1 -2 -1 -8 1 -6 3 -2 2 2 1 5 -1 7 -3 4zM221 342l-3 0 -2 -1 -4 -5 -2 -6 8 -9 3 -2 4 1 1 1 2 12 -2 7 -5 2zM807 325l-1 -2 1 -1 1 1 -1 2zM904 329l-1 0 -2 -2 -2 -6 2 0 3 3 1 3 -1 2zM673 337l-2 1 -3 -3 0 -5 1 -3 2 1 2 4 0 5zM734 332l-1 -2 2 -4 1 3 -2 3zM437 346l-5 0 -1 -2 0 -11 1 -3 2 -2 2 1 2 2 3 7 -1 6 -3 2zM315 381l-3 1 -1 -4 3 -21 1 -1 4 0 2 -2 2 -5 4 -14 3 -5 2 0 1 2 -1 5 6 4 1 3 -4 12 -2 10 -1 2 -9 7 -4 2 -4 4zM779 389l-4 0 -4 -5 -8 -15 -1 -7 1 -7 1 -6 3 -4 4 -2 4 -11 2 -2 2 3 0 5 -2 4 -5 4 -3 8 0 8 1 7 1 4 2 2 7 2 2 2 -1 6 -2 4zM497 343l-2 1 -1 -1 -1 -4 3 -6 3 -1 0 4 -2 7zM930 345l-3 -2 -1 -6 2 -3 5 -1 2 2 0 4 -2 4 -3 2zM305 403l-4 1 -3 -3 -1 -4 0 -12 -2 -2 -5 -4 -1 -3 -1 -23 1 -10 3 -7 5 -2 4 0 2 2 -1 7 1 24 5 27 -1 6 -2 3zM831 350l-2 1 -1 -1 -3 -5 -5 -4 0 -4 2 -3 3 -1 3 1 5 4 0 7 -2 5zM595 412l-8 -1 -4 -2 -7 -21 2 -12 0 -12 2 -9 -1 -14 1 -5 2 -2 2 4 2 12 4 9 1 0 1 -1 1 -12 3 -6 2 0 1 1 2 6 1 8 -1 6 -3 7 -6 10 -2 9 0 7 5 12 0 6zM481 349l-2 1 -2 -1 -1 -3 -1 -4 3 -4 5 -3 2 2 -1 3 -1 6 -2 3zM703 365l-3 -1 -4 -4 -2 -6 1 -6 2 -5 2 -3 3 -2 3 2 4 6 6 -3 2 0 2 5 -1 5 -1 3 -3 0 -6 -3 -3 9 -2 3zM1219 359l-3 -1 -2 -7 1 -6 3 -5 3 1 3 5 -2 10 -3 3zM865 362l-1 1 -2 -4 -1 -8 1 -7 2 -3 3 2 1 7 0 7 -3 5zM229 358l-2 1 -2 -1 -2 -4 3 -7 2 -3 2 0 3 2 1 4 -1 4 -4 4zM1089 403l-11 0 -9 -4 -8 -14 -6 -5 -1 -4 1 -4 2 -4 3 0 2 2 3 10 6 4 4 7 3 0 13 -8 17 -14 0 -4 -1 -7 -2 -2 -5 -1 -2 -3 1 -4 2 -2 2 0 10 6 7 10 4 13 0 10 -2 4 -4 2 -3 -2 -3 -5 -4 0 -5 4 -14 15zM420 430l-1 0 -1 -3 0 -14 -2 -7 -3 -3 -5 3 -2 0 -3 -14 -5 -11 -2 -1 -5 3 -1 -2 0 -7 3 -16 2 -2 5 1 2 0 6 -7 2 1 2 2 3 7 0 4 -5 11 3 12 2 5 5 0 2 2 1 14 5 14 -8 8zM426 368l-2 -1 -1 -1 -1 -4 2 -3 4 -4 1 0 0 2 0 5 -1 4 -2 2zM505 360l-1 1 -2 -1 -1 -3 1 -2 1 -1 2 2 0 4zM756 365l-2 1 -1 -1 -1 -3 0 -5 3 -3 2 2 1 3 -1 4 -1 2zM901 365l-2 0 -2 -4 1 -3 2 -1 2 0 1 3 -2 5zM454 386l-2 0 -2 -2 -3 -10 0 -5 2 -8 3 -2 3 -1 2 1 1 5 -2 19 -2 3zM725 469l-1 0 -1 -2 -3 -13 -7 -7 -1 -2 1 -15 3 -11 -2 -11 2 -12 -2 -8 -5 -7 -1 -3 1 -3 6 -3 5 -11 6 -1 4 -2 2 1 1 2 0 11 1 2 4 2 2 0 3 -7 2 -1 2 1 2 3 1 7 -1 4 -1 0 -4 -2 -2 0 0 15 -3 4 -2 1 -2 0 -5 -6 -5 1 -1 1 1 15 2 8 12 -8 3 0 1 5 -1 17 -6 9 -6 18 -5 8zM810 407l-3 0 -9 -8 -5 -1 0 -8 2 -17 13 -12 4 -1 2 1 1 3 -1 17 5 4 5 5 1 3 0 3 0 4 -2 3 -8 -1 -5 5zM1011 384l-2 0 -2 -2 -1 -5 0 -6 5 -7 3 -3 2 0 2 4 0 5 -2 4 -3 8 -2 2zM622 401l-2 1 -8 -6 -3 -10 -1 -18 0 -4 1 -2 2 0 2 3 4 11 6 10 1 8 -2 7zM291 417l-1 0 -1 -1 -2 -8 -2 -5 -13 -14 -4 -17 0 -5 2 -3 4 3 11 18 4 11 3 8 0 8 -1 5zM512 399l-2 0 -1 -1 -2 -8 1 -8 3 -12 2 1 1 2 2 15 0 8 -1 2 -3 1zM731 379l1 -5 -2 -2 -2 -1 -2 2 -1 4 3 2 3 0zM882 387l-2 1 -1 -1 -2 -6 2 -5 4 -3 1 0 1 1 -1 8 -2 5zM239 436l-2 -1 -1 -4 1 -14 0 -11 4 -12 2 -14 1 -1 2 0 6 5 6 -2 3 0 1 2 3 7 5 3 2 3 1 4 0 4 -3 4 -12 3 -1 2 0 8 -2 5 -1 0 -2 -7 1 -8 -5 -7 -1 -3 0 -2 3 -5 0 -1 -1 0 -6 9 -2 5 -1 7 0 18 -1 3zM556 424l-2 0 -3 -3 -1 -4 0 -4 4 -13 3 -13 2 -4 2 0 2 0 2 3 1 7 -1 5 -4 7 -3 14 -2 5zM455 422l-2 0 0 -3 4 -17 0 -13 3 -3 4 -2 2 0 2 3 0 5 -2 5 -5 8 0 12 -1 2 -5 3zM363 396l-2 0 -2 -3 0 -3 2 -2 2 1 1 2 0 3 -1 2zM659 397l-3 -1 -1 -2 0 -3 2 -3 3 2 2 4 0 2 -3 1zM332 443l-3 1 -8 -7 -4 0 -2 -1 -2 -4 -2 -11 0 -5 6 -7 2 -2 5 -2 2 -11 2 -3 2 2 2 8 2 3 2 0 8 -10 3 1 2 5 -1 16 -1 6 -10 17 -5 4zM930 397l0 -3 -1 2 1 1zM745 404l0 -4 0 4zM541 408l-1 0 -1 -2 2 -3 1 2 -1 3zM695 421l-2 0 -6 -4 -5 2 -2 0 -4 -5 -6 -3 -2 -4 1 -4 2 0 6 0 9 4 2 -1 4 -3 2 0 2 3 1 5 0 6 -2 4zM178 486l0 -21 6 -5 5 -6 -2 -4 -3 -4 -6 -2 0 -22 7 6 2 0 4 -3 1 0 2 5 1 1 2 0 7 -8 5 -14 6 -1 6 -4 4 6 0 4 -6 10 -7 8 -2 5 2 6 7 6 1 3 1 4 -1 4 -3 3 -19 12 -6 8 -5 -1 -6 3 -3 1zM894 424l-1 0 -1 -3 1 -8 -1 -6 1 -1 4 3 2 6 -1 5 -4 4zM1099 519l-2 -2 -1 -7 1 -4 4 -5 2 -9 0 -5 -2 -14 1 -17 1 -11 0 -5 -2 -3 -5 -4 -4 11 -2 4 -3 0 -4 -5 -1 0 -3 7 -1 0 -3 -6 -1 -10 1 -8 3 -3 10 1 6 5 2 0 3 -7 1 -14 2 -3 4 2 2 4 -2 25 6 32 2 3 3 1 4 -1 6 -4 2 2 1 5 -1 4 -4 3 -2 3 -6 16 -6 5 -12 14zM765 448l-7 1 -2 -1 -2 -3 -1 -4 1 -3 4 -5 2 -4 2 -18 2 -3 2 0 3 1 8 9 3 5 0 4 -1 5 -3 2 -2 -1 -3 -5 -2 5 -2 13 -2 2zM1145 420l-2 0 -2 -2 -1 -4 3 -4 5 -1 3 3 1 3 -2 3 -5 2zM1211 441l-2 -1 -3 -6 0 -5 0 -5 6 -5 4 -8 4 -2 4 1 0 23 -6 -4 -2 0 -5 12zM835 419l-1 0 -1 -2 1 -3 2 1 0 2 -1 2zM332 427l1 -2 1 -4 -1 -5 -1 -2 -2 3 -1 7 1 3 2 0zM599 423l-1 0 -1 -3 -1 -4 1 -1 2 2 1 3 -1 3zM1051 441l-2 0 -2 -1 -2 -4 0 -5 2 -12 2 -3 2 0 2 1 2 3 1 9 -1 7 -4 5zM524 481l-1 0 -1 -3 -3 -24 4 -10 6 -9 1 -13 1 -2 2 0 2 1 1 3 2 10 3 11 0 7 -2 5 -6 2 -3 12 -3 6 -3 4zM433 431l-2 -2 -2 -5 1 -1 3 -2 2 2 1 3 -1 3 -2 2zM474 457l-3 0 -3 -2 -2 -4 -2 -7 -1 -8 2 -8 1 -3 3 -2 2 2 1 5 4 8 2 6 -1 9 -1 3 -2 1zM958 430l-3 0 -2 -2 0 -3 1 -1 3 0 2 1 1 3 -2 2zM352 445l-2 0 -1 -2 -1 -8 3 -6 4 -2 3 2 1 7 -2 4 -5 5zM513 444l-2 1 -1 -1 -2 -6 0 -7 1 -2 2 -2 2 2 2 6 0 5 -2 4zM735 597l-3 0 -2 -1 -4 -12 -2 -3 -2 1 -7 5 -3 1 -9 -1 -3 -4 0 -6 4 -6 1 -9 3 -5 4 -1 6 2 7 -2 2 -2 -1 -6 -2 -7 -2 -4 -4 -4 -3 0 -6 6 -7 4 -2 2 -9 26 -2 3 -2 -1 -5 -10 -1 -7 1 -6 3 -6 6 -4 2 -3 2 -18 5 -8 2 -9 3 -4 2 -1 2 1 1 3 2 11 3 5 2 1 2 -4 4 -18 4 -4 2 0 2 1 4 5 1 11 0 6 -3 7 0 5 5 4 4 5 3 0 6 -4 1 -7 -1 -4 -2 -3 -7 -2 -1 -1 2 -12 -1 -17 1 -5 3 -2 3 1 3 10 2 -3 -1 -9 2 -7 2 0 5 9 3 3 1 -6 2 -3 4 -3 5 0 4 2 2 4 -2 11 1 13 -1 13 1 2 2 -1 2 -3 1 -10 2 -4 2 0 4 5 3 0 13 -9 4 -8 0 -4 -1 -6 -2 -2 -4 -2 -2 -1 -2 -6 2 -21 -4 -6 0 -4 2 -5 2 -1 2 0 2 4 1 8 6 8 3 12 3 2 7 0 7 9 2 7 -1 6 -10 11 -8 18 -11 13 -10 7 -15 14 -5 -1 -4 2 -4 8 -2 13 -2 3 -3 0 -2 -2 -2 -9 -1 -1 -3 2 -4 6 -4 2 -2 -1 -2 -8 -1 -1 -2 0 -1 3 0 4 4 6 -6 21 -1 2 -2 1zM560 583l-2 -1 -1 -2 -3 -14 -5 -6 -1 -2 0 -8 2 -16 -2 -6 -2 -3 -2 0 -9 5 -3 4 -5 11 -3 21 -4 6 -2 1 -2 -2 -7 -7 -6 0 -8 -4 -3 2 -8 11 -5 4 -2 0 -3 -2 -3 -9 -8 -1 -4 -3 -2 -3 1 -4 1 -4 2 -1 4 3 6 1 2 -1 1 -7 -4 -10 0 -6 3 -8 4 -3 5 2 2 6 0 6 -2 9 1 6 2 3 3 0 5 4 2 -1 1 -9 10 -12 2 -6 -5 -13 -1 -11 -4 -16 1 -4 5 0 5 -3 2 1 6 9 0 4 -1 6 0 1 7 8 3 1 13 -13 14 -3 12 -6 3 -6 1 -17 2 -5 3 -1 7 4 5 -2 6 -7 9 -5 1 -3 0 -8 2 -3 3 0 3 3 1 7 14 3 2 3 0 6 -3 21 0 11 -2 2 -5 -5 -5 0 -7 -2 -6 0 -3 2 -8 11 -10 11 -7 1 -6 4 -1 3 0 12 -4 11 0 3 3 7 0 14 1 12 -1 4 -3 4zM858 452l-2 -1 -4 -11 0 -3 1 -2 2 0 2 1 3 5 1 5 -3 6zM381 528l-8 1 -3 -4 -2 -6 1 -7 3 -5 5 -6 1 -2 -6 -7 -3 -9 -1 0 -4 3 -2 0 -2 -2 -2 -8 0 -7 6 -9 3 -16 4 -6 4 0 2 2 5 10 3 2 3 1 7 -6 5 -3 4 -1 9 4 5 -6 2 2 5 19 -2 9 -5 8 -1 9 -1 4 -1 2 -2 0 -3 -6 -1 -1 -6 5 -3 5 -1 1 -12 3 0 2 3 12 -1 9 -2 3 -6 1zM990 449l-3 0 -3 -5 1 -3 3 -2 2 0 2 4 0 4 -2 2zM702 453l-3 0 -2 -4 0 -5 3 -4 3 1 1 3 0 6 -2 3zM286 445l-1 0 -1 -2 2 -2 1 2 -1 2zM883 454l-1 0 -2 -1 -3 -7 1 -4 2 -1 4 0 2 3 0 5 -3 5zM982 473l-2 0 -2 -1 -4 -13 -2 -2 -2 -1 -1 -1 4 -5 4 -8 2 -2 3 3 -1 9 4 13 -1 5 -2 3zM1188 458l-2 -1 -2 -5 1 -6 2 -2 2 2 1 4 0 5 -2 3zM196 450l1 -1 -1 1zM555 469l-2 -2 -1 -5 0 -5 2 -3 2 3 1 5 0 5 -2 2zM959 464l-2 -2 -1 -2 0 -3 1 -2 2 2 1 2 0 3 -1 2zM346 466l-3 1 -4 -3 -1 -4 2 -3 4 0 3 1 1 4 -2 4zM1219 475l-3 -2 -5 -7 0 -4 2 -3 3 1 4 -1 3 3 0 8 -1 3 -3 2zM225 482l-1 0 -1 -4 -1 -10 2 -4 3 -2 2 1 3 3 1 6 -2 5 -6 5zM1072 479l-2 -1 -1 -1 -1 -9 1 -5 4 -1 2 1 1 5 -1 8 -3 3zM1158 473l-3 0 0 -2 2 -3 3 -2 1 1 0 2 -3 4zM369 479l2 -3 0 -3 0 -3 -2 -1 -1 5 1 6 0 -1zM868 482l-3 0 -3 -5 0 -5 3 -3 4 1 2 4 0 5 -3 3zM640 488l-3 0 -3 -9 0 -6 1 -2 2 -1 3 2 3 7 0 5 -3 4zM1136 542l-3 0 -4 -2 5 -35 0 -20 2 -5 10 -5 1 1 -1 5 0 4 5 11 1 5 -1 3 -7 9 -2 18 -4 10 -2 1zM912 479l0 -3 1 2 -1 1zM1201 503l-2 1 -2 -4 0 -10 2 -5 6 -6 1 1 1 3 0 8 -2 6 -4 6zM312 559l-9 -1 -7 -4 -9 -13 -5 -6 -3 -2 3 -17 5 -13 10 -12 3 -6 1 -1 2 1 3 7 2 1 4 -2 5 -9 2 -1 5 1 2 4 -8 18 1 7 2 2 3 -1 10 -9 6 -4 3 -9 2 -2 4 0 9 4 2 3 1 5 -2 11 -1 2 -8 1 -2 2 -1 3 1 4 3 5 1 5 2 8 0 4 -2 0 -2 -2 -10 -17 -2 -1 -2 4 -2 9 -7 10 -8 7 -4 3 -3 1zM1089 488l-3 -3 -1 -3 1 -1 2 2 1 3 0 2zM767 525l3 -4 -1 -15 4 -15 0 -2 -6 -3 -1 1 0 2 0 19 -1 14 0 2 2 1zM267 517l-2 1 -2 -2 -6 -13 -2 -1 -2 2 -3 9 -2 1 -2 0 -1 -5 5 -8 0 -9 3 -4 2 2 3 7 5 -2 1 1 1 9 4 7 0 3 -2 2zM219 539l-2 -1 -2 -5 0 -12 3 -12 1 -13 3 -5 1 0 2 7 1 9 -1 4 -4 7 0 17 -1 3 -1 1zM1185 510l-3 -1 -6 -6 -2 -7 1 -3 1 -1 2 1 7 11 1 4 -1 2zM635 519l-2 0 -2 -3 -1 -8 1 -11 2 -2 2 0 2 2 0 4 -1 16 -1 2zM1167 534l-4 0 -8 -3 -3 -3 -1 -2 5 -22 2 -3 3 -2 5 1 3 6 0 5 -4 8 3 12 -1 3zM1005 606l-6 0 -3 -2 -2 -6 -2 -14 -2 -4 -3 -1 -7 4 -2 -1 -2 -12 0 -2 3 -3 9 -7 1 -25 2 -8 6 -9 1 -9 2 0 4 7 1 0 5 -5 3 -6 2 -1 3 4 4 12 2 8 -6 6 -5 10 -6 7 0 5 2 8 3 3 2 -1 5 -4 3 -2 11 3 11 0 3 3 2 9 -2 6 -3 3 -4 1 -5 0 -2 2 -2 6 2 10 -1 2 -2 2 -2 -2 -4 -9 -8 -8 -11 -6 -1 3 3 7 1 10 -1 5 -2 1zM437 523l-3 0 -2 -3 -1 -11 1 -4 1 0 4 2 2 5 0 7 -2 4zM910 593l-6 0 -2 -2 0 -16 -4 -12 -2 -5 -5 -6 -5 1 -1 0 -9 -15 -7 -22 0 -6 2 -2 5 3 7 8 2 6 2 11 2 4 2 0 1 -2 2 -9 4 -7 8 -6 2 -1 3 3 13 23 2 1 5 -2 6 0 4 3 7 7 0 3 -9 14 -6 -7 -5 -1 -4 2 -6 7 -6 3 -2 6 2 12 -2 4zM1196 523l-2 0 -3 -2 -2 -4 0 -4 1 -3 6 -2 3 1 2 6 -2 6 -3 2zM578 521l-1 0 -1 -4 2 -5 1 4 -1 5zM301 530l2 -4 0 -4 -7 -2 -5 -8 -1 0 -1 7 3 7 5 4 2 1 2 -1zM1128 676l-8 0 -1 -3 -6 -5 -3 -8 -2 5 -2 11 -2 -7 -3 -3 -2 1 -7 9 -25 0 1 -4 1 -4 7 -6 5 -9 5 -5 3 -5 2 -6 -3 -4 0 -3 2 -1 4 3 4 -2 5 -8 3 -9 5 -12 -3 -16 -2 0 -4 5 -2 1 -6 -3 -3 -3 -4 10 -1 12 -5 7 0 12 -3 2 -5 -1 -2 -4 -1 -7 2 -6 4 -3 1 -17 3 -16 1 -2 2 0 4 3 3 6 1 0 3 -7 1 -13 2 -2 6 1 3 1 2 3 3 7 3 8 1 1 2 0 5 -8 4 -2 -6 -19 1 -10 2 -6 3 1 3 3 -1 6 9 20 2 2 3 0 2 2 5 8 1 5 -4 12 3 16 2 1 4 -10 5 -3 3 0 2 2 5 7 -8 20 -4 3 -6 0 -2 2 -4 14 0 12 -3 7 -1 -1 -1 -6 3 -11 -1 -3 -3 -4 -3 0 -2 1 0 13 -7 22zM247 555l-3 -5 -2 -4 0 -5 1 -2 2 1 2 4 1 7 -1 4zM573 554l-2 0 -2 -2 -2 -6 2 -3 5 -1 1 1 1 3 -1 6 -2 2zM275 569l-2 0 -2 -2 -2 -6 1 -6 3 -5 2 3 2 10 0 4 -2 2zM856 563l-3 1 -2 -1 0 -2 1 -9 2 -2 3 2 1 3 0 5 -2 3zM361 562l-2 -1 -1 -3 -1 -5 1 -2 2 1 2 3 1 4 -2 3zM769 601l-1 -1 0 -4 3 -21 7 -15 6 -9 2 5 0 8 -3 15 0 15 -2 2 -5 -3 -3 0 -1 1 -3 7zM426 599l-7 0 -4 -1 -3 -3 -4 -6 -2 -1 -6 6 -4 0 -4 -2 -2 -3 -3 -10 -6 -4 -3 -5 -1 -7 2 -5 8 -5 7 0 5 2 7 8 9 7 3 1 5 -2 2 3 5 17 -1 7 -3 3zM363 676l-49 0 1 -18 2 -3 5 -2 1 -3 0 -12 1 -8 -1 -2 -7 -1 -3 -4 -3 -9 0 -12 2 -6 9 -11 2 -15 1 -5 3 -2 6 -3 5 -3 2 2 4 12 2 18 -1 2 -13 3 -2 3 -3 13 1 11 1 3 8 2 4 4 1 9 -1 12 5 9 3 1 4 -5 3 -2 4 1 2 1 2 7 -1 13zM567 676l-18 0 0 -6 0 -6 -6 -11 2 -4 5 -2 2 -3 8 -26 9 -14 -1 -2 -3 -3 -2 -3 0 -4 1 -5 1 -3 2 -1 2 -1 5 2 5 -19 1 -3 3 -2 6 0 8 0 7 7 2 0 2 -2 2 -7 2 -1 5 9 8 7 4 6 0 12 -1 5 -2 2 -9 -4 -4 0 1 13 2 11 -3 10 -4 4 -4 2 -4 -2 -8 -10 -2 -1 -1 1 -3 6 -2 14 -2 3 -6 4 -5 6 -3 11 -2 10zM961 585l-2 0 -2 -2 -1 -4 1 -4 5 -13 3 -3 3 0 4 3 2 7 -10 14 -3 2zM442 579l-1 0 0 -4 1 -7 2 -2 4 -1 1 2 -2 4 -5 8zM204 669l-3 -2 -2 -5 -1 -7 2 -10 -2 -3 -4 -3 -16 -3 0 -65 3 -5 4 8 3 13 5 8 3 11 0 10 1 3 3 2 3 0 1 -3 -1 -20 -1 -10 -5 -2 -2 -2 0 -3 1 -2 2 -2 2 0 5 5 7 -6 1 0 2 8 2 2 12 -3 3 0 2 1 -1 4 -11 13 -2 0 -5 -2 -3 4 0 6 5 9 6 15 1 8 0 7 -1 5 -2 4 -3 3 -3 1 -2 -1 -1 -2 -1 -12 -1 -1 -3 1 0 3 1 12 -2 6 -2 2zM869 611l-2 0 -2 -2 -4 -9 -3 -4 -8 -2 -6 -8 -17 -7 -5 -4 -1 -3 1 -3 3 -1 18 6 14 8 16 7 2 3 0 3 -6 16zM935 599l-2 -1 -1 -3 -1 -11 2 -5 6 -6 2 5 0 9 -3 9 -3 3zM1132 588l1 -4 -2 -4 -1 0 0 7 1 1 1 0zM503 645l-3 -1 -9 -13 -5 -3 -1 2 0 11 -4 3 -3 0 -3 -4 -4 -13 2 -8 3 -7 2 -1 4 4 2 0 4 -12 7 -14 4 -6 4 -3 2 1 2 5 4 23 -1 30 -2 4 -5 2zM804 624l-2 0 -4 -2 -6 -1 -2 -2 -1 -3 1 -4 6 -5 2 -5 2 -7 1 -12 1 -2 1 0 2 2 1 3 1 14 -1 20 -2 4zM822 605l-2 -1 -2 -3 0 -7 2 -7 2 -2 2 0 2 3 0 9 -1 5 -3 3zM952 627l-3 0 -1 -3 5 -21 3 -3 6 0 5 -5 3 0 2 3 1 9 0 10 -1 5 -5 4 -7 -2 -8 3zM262 641l-3 0 -2 -1 -4 -8 -8 -12 -1 -2 1 -2 7 -2 6 -5 9 -11 2 -1 1 3 2 10 -1 1 -4 -1 -3 3 0 5 2 16 -1 5 -3 2zM579 608l2 -3 -1 -4 -1 -2 -2 -1 -1 2 0 5 2 3 1 0zM641 617l-2 -1 -4 -5 -1 -3 3 -6 2 -2 2 -1 3 1 3 3 2 8 -1 4 -7 2zM363 614l-2 -1 -1 -2 0 -6 2 -3 5 -1 0 2 -2 8 -2 3zM1182 618l-3 -2 -2 -6 1 -5 1 -2 2 -1 2 0 2 2 1 5 -1 6 -3 3zM665 620l-2 1 -1 -1 -3 -4 -1 -3 2 -6 4 -4 2 0 7 4 5 -1 7 4 1 3 -3 3 -7 2 -5 -1 -6 3zM722 676l-4 0 -1 -6 -3 -2 -3 1 -4 4 -1 -1 -2 -6 -2 -12 1 -6 6 -15 1 0 3 3 3 -3 2 -5 1 -6 -2 -14 1 -3 3 -1 3 1 2 2 1 10 -1 23 -5 17 1 19zM1047 618l-2 -1 -1 -3 1 -7 2 -2 7 -1 1 3 -2 5 -3 5 -3 1zM437 646l-2 0 -2 -4 -4 -12 -1 -1 -4 1 -3 -1 -7 -11 -4 -4 -1 -3 2 -4 2 -1 3 0 8 6 4 0 1 2 1 13 9 2 3 3 1 2 -1 4 -2 5 -3 3zM1122 643l9 -3 2 -1 0 -11 3 -12 -2 -6 -1 0 -4 6 -6 14 -3 12 1 1 1 0zM804 676l-22 0 -1 -12 -2 -10 -8 -6 -2 -1 -3 2 -1 0 1 -11 -1 -7 -5 4 -3 -2 1 -9 1 -3 6 0 4 -6 1 1 2 6 2 3 2 1 7 -1 5 2 8 34 1 1 5 2 2 4 1 7 0 1 -1 0zM741 669l-3 -2 -2 -7 1 -8 6 -8 -2 -11 -4 -10 0 -4 2 -2 11 7 5 9 -2 8 -6 7 0 11 -1 6 -3 3 -2 1zM935 642l-2 0 -1 -1 -1 -5 0 -12 2 -4 3 3 2 7 -1 9 -2 3zM457 660l-3 -1 -1 -3 0 -12 -2 -9 2 -10 2 -4 3 2 2 6 -3 13 2 13 -2 5zM843 638l-4 0 -2 -4 0 -9 2 -3 4 1 2 4 0 7 -2 4zM976 635l-3 -2 -2 -4 1 -5 2 -2 3 1 1 3 0 6 -2 3zM988 636l-3 0 -1 -3 1 -4 3 -1 1 0 1 3 0 3 -2 2zM692 644l-3 -1 -2 -4 2 -7 1 -2 2 -1 2 3 0 6 0 4 -2 2zM886 635l-1 0 -2 -2 -1 -3 1 -1 3 3 0 3zM400 641l-1 0 -1 -2 0 -3 1 -4 2 -2 1 1 1 4 -1 3 -2 3zM1224 676l-11 0 -1 -5 -1 -3 -5 -3 -3 0 -3 1 -2 3 -1 4 1 3 -37 0 -1 -9 2 -8 6 -7 4 -10 1 -1 2 0 4 7 3 -1 9 -6 5 -10 2 -1 11 7 7 -1 7 -2 1 2 0 40zM376 640l-1 0 -1 -1 2 -3 4 -4 2 0 1 3 -1 3 -6 2zM1045 645l-2 -1 -1 -3 1 -3 2 -1 2 3 -1 3 -1 2zM1008 665l-3 -3 -9 -14 0 -5 4 -4 7 1 3 2 1 2 0 13 -1 4 -2 4zM250 676l-24 0 -1 -9 1 -5 3 -3 5 -1 6 2 2 -1 3 -4 3 -13 3 -3 2 1 2 3 1 8 0 4 -5 10 -1 11zM679 647l0 -5 1 -1 1 -1 0 4 -1 3 -1 0zM301 650l-1 -1 0 -4 1 -3 2 -1 2 2 1 4 -5 3zM535 676l-9 0 -2 -6 -5 -3 0 -5 1 -10 -1 -8 1 -2 3 1 10 13 2 8 1 12 -1 0zM416 652l-3 -1 -2 -3 1 -4 2 -2 3 1 1 3 0 4 -2 2zM492 649l-2 -1 0 -2 2 -2 2 2 -2 3zM906 656l-5 -5 1 -2 1 -2 2 1 1 2 0 6zM619 658l-2 -1 -1 -3 1 -4 2 -1 1 1 1 4 -1 3 -1 1zM194 676l-16 0 0 -27 3 2 4 5 3 12 1 2 4 1 1 3 0 2zM964 676l-12 0 1 -19 3 -4 4 -3 1 1 1 3 2 22zM830 669l-3 0 -3 -1 -3 -6 0 -4 2 -3 4 -3 4 1 3 5 -1 7 -3 4zM922 664l-5 -2 -2 -4 2 -5 4 -2 5 2 1 4 -2 5 -3 2zM1062 676l-15 0 0 -13 3 -9 3 0 5 4 3 8 1 10zM489 666l-4 -1 -1 -4 2 -5 4 -2 3 3 1 4 -1 3 -4 2zM674 676l-5 0 -1 -9 1 -8 2 -3 2 -1 1 2 0 19zM374 676l-3 0 -3 -11 1 -5 3 -3 4 3 1 4 -1 5 -2 7zM408 676l-16 0 2 -5 7 -13 3 1 3 5 2 9 0 3 -1 0zM642 676l-14 0 -1 -11 1 -3 1 -2 3 -1 2 1 7 11 1 5zM912 676l-12 0 1 -7 5 -11 2 2 3 7 1 6 0 3zM588 676l-7 0 0 -6 2 -4 1 0 2 2 2 8zM878 676l-5 0 0 -7 2 -3 1 1 2 4 1 5 -1 0zM479 676l-9 0 1 -7 3 -2 4 2 1 3 0 4zM983 676l-9 0 2 -8 2 0 5 7 1 1 -1 0zM422 676l-2 0 0 -3 1 -1 1 4zM1011 676l-3 0 1 -4 2 2 1 2 -1 0z" fill="#dce9eb" fill-rule="evenodd"/><path d="M206 327l-3 -1 -2 -3 0 -15 1 -11 -5 -6 -2 -3 14 0 -4 9 2 12 0 14 -1 4zM259 310l-3 -1 -2 -3 2 -18 24 0 -5 6 -2 0 -4 -2 -2 2 -6 13 -2 3zM301 307l-3 -1 -2 -3 -2 -9 1 -6 11 0 1 6 -1 6 -2 5 -3 2zM377 341l-2 0 -1 -2 3 -10 -9 -19 -1 0 -2 4 0 -10 -1 -4 -2 -4 -1 0 -2 1 -3 7 -2 2 -6 8 -3 1 -2 -1 3 -19 2 -4 3 -3 45 0 -1 5 -6 8 -1 12 -11 28zM536 337l-4 -1 -2 -3 -3 -12 -10 -29 0 -4 14 0 0 5 10 22 3 9 0 6 -1 3 -7 4zM587 325l-2 -1 -3 -3 -4 -11 0 -8 3 -14 27 0 2 1 3 -1 3 1 2 3 1 6 0 5 -2 4 -5 4 -7 3 -13 -3 -1 3 -2 9 -2 2zM670 304l-3 0 -3 -4 -2 -7 1 -5 9 0 0 9 -2 7zM713 295l-1 -2 0 -5 3 0 -2 7zM735 308l-2 0 -2 -4 -2 -16 10 0 1 12 -3 6 -2 2zM833 300l-3 -1 -6 -9 -5 4 -6 1 -2 -2 0 -5 23 0 0 9 -1 3zM896 315l-3 1 -4 -1 -10 -9 -1 -3 1 -6 2 -9 21 0 -3 4 -1 4 1 14 -3 5zM972 295l-2 -2 -1 -5 6 0 -1 5 -2 2zM1132 302l-4 -1 -2 -3 -1 -10 9 0 0 11 -2 3zM247 316l-4 -2 -6 1 -2 -1 -4 -16 1 -5 3 -4 4 1 3 4 2 5 0 9 4 5 -1 3zM1178 310l-3 -2 -2 -5 1 -6 2 -4 2 1 2 6 0 6 -2 4zM489 307l-4 1 -3 -3 -1 -5 3 -3 5 0 3 2 0 5 -3 3zM923 404l-2 -2 -3 -9 0 -5 1 -4 12 -13 7 -3 8 -6 5 -6 5 -7 7 -5 7 -1 -2 -9 3 -15 2 -6 7 -3 3 -5 2 -2 9 4 6 -2 2 0 -3 10 2 18 -1 3 -3 5 -4 3 -9 0 -10 2 -2 6 -6 7 -3 11 -3 -2 -3 1 -3 3 -3 6 -5 0 -6 4 -6 7 -7 5 -2 7 -2 3zM1121 318l-5 -1 -3 -5 1 -5 4 -3 7 2 2 3 0 3 -1 3 -2 2 -3 1zM1140 326l-4 0 -3 -3 1 -10 2 -4 4 3 4 6 -1 5 -3 3zM955 349l-4 -4 -4 1 -3 0 -2 -1 -1 -3 1 -27 2 -3 3 -1 4 0 3 4 0 14 4 12 -1 4 -2 4zM411 332l-2 -2 -1 -5 1 -4 2 -3 2 2 0 4 0 5 -2 3zM1055 337l-1 0 -1 -2 -1 -11 2 -5 3 -1 2 3 0 5 -2 9 -2 2zM222 340l-4 1 -2 -1 -3 -4 -1 -3 3 -6 5 -4 4 2 3 6 -1 5 -4 4zM1083 348l-3 -1 -1 -3 3 -16 1 0 1 3 1 10 0 4 -2 3zM1190 336l-2 -1 0 -3 1 -3 2 -1 1 0 0 3 -2 5zM829 343l-4 0 -3 -1 -2 -3 1 -3 5 -2 4 2 1 4 -2 3zM303 397l-2 0 -1 -2 -2 -11 -7 -5 -1 -3 0 -29 2 -9 4 -2 3 0 1 2 1 27 2 12 0 8 1 9 -1 3zM588 404l-1 0 -1 -1 -7 -17 1 -10 -1 -11 2 -10 -2 -12 1 -4 2 -2 2 4 1 12 7 16 -5 23 1 12zM1189 376l-3 0 -3 -4 0 -12 -4 -10 -1 -7 0 -4 1 -2 5 1 2 2 1 14 3 8 1 6 0 5 -2 3zM479 347l-2 -1 0 -4 1 -3 3 -1 1 2 0 3 -1 3 -2 1zM319 375l-4 0 -1 -2 -1 -4 2 -8 7 -5 6 -15 3 -1 5 1 2 2 0 2 -7 20 -7 8 -5 2zM541 378l-4 -1 -3 -4 -1 -7 -3 -6 6 -16 2 -3 3 2 2 6 -1 9 -3 7 4 8 0 3 -2 2zM703 362l-2 1 -1 -1 -4 -9 2 -8 2 -3 2 0 2 2 1 5 0 9 -2 4zM865 360l-1 0 -2 -2 -1 -6 1 -6 2 -4 2 2 2 6 -1 6 -2 4zM1161 366l-3 -4 -2 -7 2 -7 3 -4 2 3 0 5 0 9 -2 5zM1042 373l-4 -4 -3 0 -2 -1 -1 -3 0 -4 2 -3 4 -1 2 -6 2 -3 5 -3 5 -1 6 5 1 2 -1 3 -2 3 -6 3 -7 13 -1 0zM227 358l-3 -2 0 -5 3 -4 2 -1 2 0 2 2 0 4 -2 4 -4 2zM597 353l-1 -3 1 -2 0 5zM409 397l-2 -1 -4 -9 -2 -7 -1 -7 1 -7 5 -8 3 -3 2 2 2 4 -1 4 -4 9 3 17 -1 4 -1 2zM901 363l-2 0 -1 -2 2 -3 2 1 0 2 -1 2zM1083 402l-5 0 -3 -2 -3 -5 -2 0 -1 -2 -2 -4 1 -2 2 0 3 7 17 -9 19 -16 2 -10 1 -1 2 0 5 8 3 7 1 6 -2 5 -2 2 -2 1 -4 -5 -4 1 -5 3 -16 14 -5 2zM453 378l-1 0 -2 -2 -1 -7 1 -5 4 -2 2 1 0 4 -1 6 -2 5zM802 392l-3 0 -2 -3 0 -5 1 -5 4 -8 8 -5 1 1 1 2 -1 5 -7 16 -2 2zM736 397l-2 0 -3 -4 -5 1 -5 -1 -4 -4 -2 -5 0 -4 6 -11 1 1 -1 7 1 3 5 0 4 2 4 -3 3 2 1 4 0 7 -1 4 -2 1zM1011 383l-3 -1 -2 -4 1 -5 3 -3 2 1 2 5 0 4 -3 3zM284 396l-7 -4 -3 -3 -2 -10 0 -6 1 -1 2 2 8 10 2 8 0 3 -1 1zM1162 397l-1 1 -2 -2 -1 -5 4 -17 2 2 1 5 -2 13 -1 3zM880 387l-2 -2 0 -4 1 -3 2 -1 2 1 1 4 -2 4 -2 1zM1024 423l-3 -3 -1 -8 -1 -5 2 -4 5 -6 10 -6 7 -11 2 -1 7 3 2 2 0 3 -7 12 -13 10 -5 7 -3 6 -2 1zM620 396l-2 -1 -2 -4 -2 -5 1 -2 4 3 2 3 0 4 -1 2zM261 410l-6 1 -4 -4 -2 -4 0 -3 4 -6 1 -5 4 -3 2 1 2 6 8 3 2 5 0 4 -2 2 -9 3zM512 393l-1 -1 0 -2 0 -3 1 0 1 3 -1 3zM561 396l-2 1 -1 -4 1 -5 2 -1 1 1 1 3 -2 5zM817 395l-2 0 -1 -1 0 -2 2 -2 2 2 0 2 -1 1zM361 394l0 -3 1 1 -1 2zM939 437l-3 0 -1 -3 1 -17 -2 -15 1 -4 1 -1 2 4 1 13 3 14 -1 6 -2 3zM338 425l-1 -9 1 -7 3 -7 2 -3 2 0 1 1 1 5 -1 10 -8 10zM721 412l-1 1 -1 -1 -1 -3 0 -4 2 -3 2 5 -1 5zM180 485l-2 0 0 -19 5 -3 8 -8 7 -4 2 -2 0 -2 -1 -2 -8 3 -2 -2 -4 -6 -7 1 0 -12 7 5 5 -3 4 2 3 0 7 -8 6 -13 9 -5 2 0 3 3 -1 4 -5 9 -8 9 -2 5 2 6 9 8 1 4 -1 4 -2 3 -5 3 -14 9 -6 6 -5 1 -7 4zM329 436l-3 0 -5 -4 -4 -2 -2 -3 -1 -7 2 -6 2 -4 3 -2 7 -1 1 1 0 7 -2 11 3 8 -1 2zM555 419l-2 -2 0 -3 1 -5 2 -1 1 3 0 4 -2 4zM922 421l-3 -1 -2 -4 1 -4 4 -2 2 2 1 3 -1 4 -2 2zM1148 418l-3 1 -3 -2 -1 -3 2 -3 4 -1 3 2 1 3 -3 3zM764 438l-1 1 -1 -1 -1 -5 3 -18 2 -2 2 3 0 6 -2 12 -2 4zM1224 429l-6 -5 -2 -4 2 -4 6 -2 0 15zM726 463l-2 -2 -2 -7 -5 -5 0 -3 5 -10 4 -11 7 -8 3 -2 2 0 3 4 -1 12 -1 3 -4 4 -3 8 -2 10 -2 5 -2 2zM1050 437l-2 -2 -1 -6 1 -7 1 -2 2 -1 2 2 1 2 0 6 -1 5 -3 3zM958 429l-2 0 -1 -1 0 -2 1 -1 3 1 -1 3zM1090 446l-2 1 -2 -2 -3 -6 0 -8 2 -2 2 -1 4 2 2 4 -1 7 -2 5zM512 443l-2 -1 -2 -5 1 -5 2 -2 2 1 2 5 -1 5 -2 2zM473 456l-3 0 -2 -2 -3 -7 0 -10 1 -4 2 -2 2 0 4 4 3 7 0 10 -2 3 -2 1zM519 564l-4 0 -1 -11 -1 -2 -4 1 -5 7 -2 0 -2 -2 -3 -7 0 -3 1 -3 9 -11 5 -9 4 -6 -8 1 -2 -2 -2 -4 0 -6 2 -12 2 -5 2 -1 2 3 0 2 -3 4 1 2 8 5 1 4 1 4 4 0 5 -3 10 -10 24 -9 6 -5 4 -5 -2 -11 1 -6 2 -1 6 3 4 -1 3 -2 6 -8 9 -6 1 -2 -1 -7 2 -3 2 -1 3 2 1 8 12 2 3 2 1 3 0 5 -4 14 -2 4 -5 3 -3 5 -10 -1 -4 1 -10 12 -9 9 -10 4 -5 3 -2 4 -1 10 -6 9 -1 0 -5 -9 -2 -2 -3 0 -10 6 -8 12 -2 16 -2 4 -3 2zM525 475l-1 0 -1 -4 -1 -12 0 -6 3 -6 5 -2 3 -5 2 -1 3 5 1 7 -2 2 -5 -4 -1 0 -1 1 -1 5 0 14 -2 4 -2 2zM388 499l-6 1 -8 -8 -2 -3 0 -4 1 -15 -1 -4 -5 -5 0 -4 0 -8 2 -5 3 -3 3 0 6 12 3 3 2 1 3 -2 6 -7 5 -3 4 0 9 3 5 -2 1 3 4 13 -2 7 -2 2 -4 -3 -1 0 -7 18 -5 4 -5 7 -9 2zM735 591l-2 0 -1 -2 -3 -8 -2 -4 -3 1 -9 7 -4 2 -7 -1 -2 -2 -1 -3 0 -4 4 -6 2 -8 2 -3 2 -1 5 2 5 -3 7 -1 1 -2 -1 -7 -2 -9 -8 -12 3 -21 3 -9 2 -3 3 -1 3 2 2 3 1 13 -3 11 -1 5 1 3 9 8 2 0 6 -3 3 -4 3 -22 -3 -8 -1 -4 3 -5 5 -8 2 1 1 2 3 8 -2 27 1 5 1 0 3 -1 5 -6 -2 -10 1 -6 2 -7 3 -3 1 0 1 2 1 9 -1 6 -3 7 0 1 3 0 6 -2 11 -8 6 -6 8 -6 3 -3 2 -5 2 -6 -2 -10 -2 -3 -5 -2 -2 -6 0 -7 1 -5 3 -3 3 0 3 4 3 11 2 2 9 0 6 7 2 7 -1 7 -9 9 -8 18 -11 14 -9 5 -14 12 -10 3 -3 2 -5 7 -1 9 -1 3 -2 0 -1 -2 0 -6 -1 -1 -5 1 -5 5 -2 1 -7 -8 -2 -1 -2 1 -1 3 -1 5 1 17 -1 5 -2 4zM345 464l-2 1 -3 -2 0 -2 1 -2 3 -1 2 2 0 2 -1 2zM1106 503l-1 0 0 -2 1 -14 -3 -9 -1 -6 2 -11 2 -2 2 4 3 12 3 2 6 1 0 2 -1 8 -3 8 -3 3 -7 4zM1221 472l-2 1 -1 -1 -2 -5 1 -5 2 -2 2 1 2 4 0 4 -2 3zM981 467l-1 0 -1 -1 -1 -3 1 -2 2 2 0 4zM1072 472l-1 0 0 -2 1 -2 1 2 -1 2zM363 480l-2 -2 -1 -4 1 -4 2 -1 2 2 0 4 0 3 -2 2zM868 482l-3 -1 -2 -4 0 -5 3 -2 3 1 2 4 -1 4 -2 3zM778 488l-8 -2 -3 -4 1 -6 2 -3 3 -1 5 0 4 4 -1 6 -3 6zM313 557l-9 0 -5 -3 -5 -4 -9 -16 -1 -14 1 -3 4 10 3 4 6 2 4 -1 3 -5 0 -6 -1 -1 -7 -2 -2 -2 -3 -10 1 -4 3 -5 5 -5 2 0 2 2 2 1 5 -2 2 -2 4 -8 3 -1 3 2 1 3 -4 8 -6 9 -2 4 1 1 2 1 3 4 2 1 2 -1 13 -12 7 -2 3 -6 2 -2 3 0 4 3 2 3 1 4 -1 4 -3 5 -5 3 -3 3 0 5 3 6 -1 3 -1 0 -2 -1 -5 -8 -2 1 -2 3 -3 9 -3 5 -11 14 -6 3zM1135 537l-2 -2 -2 -5 3 -22 1 -20 1 -3 3 -2 2 1 2 5 4 6 2 6 -6 14 -2 16 -2 4 -4 2zM747 501l-1 -2 -1 -7 0 -3 1 -1 2 8 -1 5zM1201 497l-1 -1 -1 -3 2 -4 1 0 0 2 -1 6zM701 540l-3 0 -2 -2 0 -14 1 -4 4 -7 2 -12 2 -2 2 -1 2 3 1 12 4 10 1 5 -1 4 -5 6 -8 2zM381 527l-6 0 -3 -1 -2 -4 -1 -5 2 -6 2 -4 5 -5 4 -1 3 2 2 3 2 6 0 5 0 5 -2 3 -6 2zM248 513l-2 -1 0 -2 2 -4 2 -1 1 1 0 3 -3 4zM1027 591l-6 -4 -5 -6 -5 -4 -3 -5 -6 -1 -2 -2 -7 -11 -2 -6 -1 -16 2 -9 8 -11 1 1 3 4 1 1 2 -8 8 -8 2 1 3 7 2 9 0 2 -5 5 -5 12 -5 5 -2 3 0 8 4 12 2 1 2 -1 6 -7 4 -2 10 1 8 -1 3 0 2 1 3 8 -1 4 -3 6 -5 2 -7 0 -6 9zM1197 521l-2 1 -2 -1 -2 -4 0 -5 4 -2 3 1 2 3 -1 4 -2 3zM885 542l-1 1 -3 -2 -4 -5 -6 -19 0 -3 1 -2 2 0 4 4 5 7 2 7 0 12zM908 590l-3 0 -2 -2 0 -14 -4 -13 -5 -12 -1 -4 1 -13 3 -7 4 -4 7 -4 3 3 8 14 4 11 2 1 7 -3 3 0 4 4 2 6 -1 4 -2 2 -1 0 -6 -3 -5 0 -4 3 -4 5 -6 3 -4 8 1 12 -1 3zM1157 522l0 -3 1 1 -1 2zM478 543l-2 -1 -3 -3 -2 -7 0 -5 2 -4 2 -2 2 -1 5 2 2 7 -1 7 -5 7zM560 578l-2 -2 -3 -12 -5 -10 1 -10 3 -5 7 16 1 19 0 3 -2 1zM689 570l-2 -1 -3 -7 -1 -8 1 -4 3 -4 3 -2 3 0 2 2 0 6 -4 15 -2 3zM1145 637l-8 -2 -2 -4 0 -5 4 -9 0 -4 -4 -14 0 -10 -1 -6 -5 -11 -8 -20 1 -5 2 -2 3 1 3 3 8 19 2 1 4 1 4 6 1 6 -4 13 2 15 2 7 1 1 2 -2 1 -4 1 -8 3 -4 3 -1 3 1 2 1 2 4 -1 7 -4 12 -2 2 -3 1 -6 -4 -1 0 -3 11 -2 3zM479 572l-3 -1 -3 -6 -7 0 -4 -2 -3 -4 2 -4 2 -1 10 1 2 -1 3 -6 1 1 8 12 -2 7 -6 4zM426 597l-7 1 -4 -2 -9 -11 -2 1 -4 5 -3 1 -3 -1 -3 -4 -3 -9 -6 -5 -2 -3 -1 -6 2 -5 6 -4 6 -1 3 2 18 15 9 2 6 15 -1 6 -2 3zM319 625l-4 -1 -3 -5 -1 -10 1 -8 5 -9 6 -6 1 -14 1 -5 4 -3 9 -4 6 12 0 14 -3 3 -9 1 -3 2 -4 28 -2 3 -4 2zM780 590l-2 0 -4 -3 -1 -5 5 -17 2 -4 2 -2 1 1 1 4 -3 12 0 12 -1 2zM565 676l-15 0 0 -12 -2 -9 0 -3 4 -4 2 -4 3 -6 3 -15 4 -7 3 -3 5 2 4 -2 6 -2 2 -2 -1 -11 -5 -8 -1 -4 1 -12 2 -9 4 -4 12 0 6 6 6 10 1 11 2 10 3 19 -1 9 -1 3 -3 3 -3 1 -3 -1 -2 -2 -10 -15 -2 0 -6 23 -12 16 -6 22zM1099 584l-3 0 0 -2 0 -15 2 -4 4 0 2 1 2 2 2 8 -1 3 -8 7zM962 578l-1 0 -1 -2 2 -7 3 -5 3 0 1 2 0 4 -3 4 -4 4zM623 591l-5 -1 -3 -3 -1 -11 -4 -6 1 -6 2 2 3 7 5 3 4 6 1 6 -3 3zM983 575l-2 0 0 -4 1 -3 3 -1 1 1 0 3 -3 4zM868 606l-2 -1 -4 -6 -3 -4 -3 -2 -6 -1 -6 -8 -6 -2 -11 -5 -4 -3 -1 -3 3 -1 15 4 3 2 4 4 5 1 19 8 2 3 1 3 -6 11zM1083 605l-2 -1 -1 -4 -1 -12 1 -9 2 -3 1 -1 2 0 2 3 1 7 -3 11 -1 7 -1 2zM218 656l-2 -1 -2 -10 -2 -2 -8 1 -8 -7 -18 -4 0 -56 4 0 2 2 6 15 6 26 4 3 3 0 4 -7 2 -2 3 1 3 3 6 18 2 8 -1 7 -2 4 -2 1zM201 583l-2 1 -1 -2 2 -2 1 1 0 2zM1126 676l-4 0 -1 -3 -6 -5 -2 -4 -1 -9 -1 -1 -6 9 -6 2 -9 11 -20 0 0 -1 2 -6 17 -23 5 -9 5 -4 6 -12 7 -20 0 -10 1 -3 10 -7 2 1 1 3 -1 12 5 7 1 6 -18 39 1 1 4 -2 6 0 6 -3 2 1 1 2 0 7 -7 21zM935 594l-2 -2 -1 -5 2 -4 2 -1 2 2 0 4 -1 4 -2 2zM505 642l-3 0 -2 -1 -12 -18 -1 -4 2 -11 5 -7 2 -11 3 -5 4 -2 2 1 2 6 3 22 -1 24 -1 4 -3 2zM569 599l-4 -2 -2 -4 2 -6 3 -3 3 1 2 5 -1 6 -3 3zM208 594l-1 -1 -1 -3 1 -2 2 -3 1 1 0 2 -2 6zM822 598l-1 -1 -1 -4 1 -2 2 -2 1 2 0 3 -2 4zM1004 601l-3 -1 -1 -1 0 -3 2 -1 2 0 1 2 -1 4zM802 620l-9 0 -2 -1 -1 -3 1 -4 7 -3 5 -6 2 3 0 7 -1 5 -2 2zM1183 616l-3 0 -2 -5 0 -5 3 -4 3 1 2 5 -1 5 -2 3zM956 617l-1 0 -1 -1 2 -8 2 -2 4 1 4 -3 2 0 1 5 -1 5 -2 1 -6 1 -4 1zM666 618l-4 0 -3 -4 2 -6 2 -3 2 0 5 2 2 4 -2 4 -4 3zM723 620l-3 -7 1 -3 1 -1 2 1 1 3 -1 6 -1 1zM421 621l-3 -3 -1 -4 2 0 2 3 1 3 -1 1zM261 635l-2 -2 -6 -12 1 -4 3 -2 2 0 1 2 2 13 0 3 -1 2zM480 639l-2 0 -2 -5 0 -8 1 -3 1 0 1 2 2 8 0 4 -1 2zM748 640l-2 0 -2 -4 -2 -8 1 -3 4 1 3 4 1 6 -3 4zM793 676l-10 0 -3 -24 -2 -3 -6 -7 -2 -4 0 -5 1 -4 4 -1 5 -2 5 0 2 2 1 2 2 12 3 9 3 15 0 3 -3 7zM329 676l-9 0 -1 -11 1 -4 6 -7 -2 -13 1 -8 4 -5 5 -1 3 1 3 3 1 4 0 7 -1 6 -3 4 -8 2 -2 1 3 14 0 7 -1 0zM710 665l-2 1 -2 -2 -1 -7 0 -5 2 -2 8 -7 5 -11 3 -3 1 4 0 6 -1 4 -4 7 -2 12 -2 2 -5 1zM841 631l0 -1 0 1zM1224 676l-10 0 -1 -8 -9 -4 -3 1 -3 3 -1 4 0 4 -35 0 -1 -5 0 -4 2 -7 6 -7 3 -6 2 -1 2 3 2 1 5 -1 8 -6 5 -11 3 -1 9 6 14 -1 1 0 1 1 0 22 -2 3 2 1 0 13zM438 641l-2 0 -2 -4 0 -3 2 -1 2 0 2 2 0 3 -2 3zM1007 655l-5 -2 -4 -5 -1 -4 3 -3 6 0 4 3 0 5 -3 6zM248 676l-21 0 -2 -10 2 -4 4 -3 4 1 5 4 3 -2 3 -5 3 -10 2 -1 2 2 1 4 -4 11 -2 13zM742 666l-3 -2 -1 -5 1 -6 3 -2 2 2 1 5 -1 5 -2 3zM922 663l-4 -1 -2 -4 1 -4 4 -2 3 1 2 4 -1 4 -3 2zM532 676l-4 0 -1 -5 -4 -9 0 -5 2 -4 4 2 2 4 1 17zM830 667l-2 1 -3 -2 -3 -4 1 -6 4 -3 4 1 3 4 -1 6 -3 3zM181 666l-3 0 0 -13 3 2 2 4 0 4 -2 3zM361 676l-25 0 -1 -10 2 -9 1 -1 2 0 5 8 3 2 2 0 5 -8 2 0 2 1 3 6 0 11 -1 0zM489 664l-2 0 -2 -3 1 -3 3 -2 2 1 2 3 -1 2 -3 2zM962 676l-9 0 2 -16 2 -3 2 -1 1 0 1 3 2 16 0 1 -1 0zM1058 676l-10 0 1 -10 3 -6 3 1 2 4 1 7 1 4 -1 0zM407 676l-13 0 2 -5 4 -7 2 -2 2 1 2 3 1 6 0 4zM640 676l-10 0 0 -8 1 -3 1 -1 2 1 5 7 1 4zM911 676l-9 0 1 -5 3 -4 2 0 2 2 1 7zM801 676l-2 0 -1 -6 1 -2 1 0 1 2 0 6zM585 676l-2 0 0 -2 1 -1 1 3z" fill="#cee1f4" fill-rule="evenodd"/><path d="M301 306l-3 -1 -1 -3 -2 -8 1 -6 9 0 1 1 0 5 -1 6 -1 4 -3 2zM376 341l-1 -1 0 -2 3 -8 -9 -23 -3 -5 -3 -11 1 -3 28 0 -5 10 0 13 -2 9 -3 8 -4 5 -2 8zM536 334l-3 0 -3 -4 -2 -8 -11 -30 1 -4 12 0 1 6 13 30 -1 7 -2 2 -5 1zM587 315l-2 1 -2 -1 -2 -4 -1 -5 1 -8 3 -6 4 -1 3 -3 15 0 3 3 5 0 2 1 2 4 0 5 -1 4 -4 4 -6 3 -4 1 -12 -4 -4 6zM669 304l-3 -2 -2 -4 -1 -6 1 -4 7 0 0 1 1 9 -1 3 -2 3zM734 307l-2 -1 -1 -4 -1 -13 1 -1 7 0 1 7 0 5 -2 5 -3 2zM894 313l-5 0 -9 -9 -1 -8 3 -8 17 0 -1 9 0 11 -1 3 -3 2zM238 309l-2 0 -2 -2 -3 -8 1 -6 4 -3 2 0 2 2 3 6 -1 8 -2 2 -2 1zM347 313l-2 1 -1 -2 2 -16 3 -5 5 -2 2 4 -1 8 -4 7 -4 5zM489 306l-3 1 -3 -2 -1 -4 2 -3 4 0 3 2 0 4 -2 2zM205 317l-2 -2 -1 -5 0 -6 2 -4 2 3 1 5 0 5 -2 4zM1121 317l-5 -1 -2 -4 1 -5 3 -2 5 1 3 3 0 5 -2 2 -3 1zM948 345l-3 1 -2 -1 -2 -2 0 -2 2 -26 2 -3 3 -1 3 1 2 3 -1 17 2 8 -6 5zM984 343l-7 1 -4 -4 -3 -5 1 -9 2 -5 2 -3 10 -4 6 0 3 2 4 5 1 5 0 5 -2 6 -3 4 -3 1 -7 1zM411 328l-1 -1 0 -2 1 -3 1 3 -1 3zM221 339l-3 0 -2 -1 -3 -5 2 -5 5 -3 4 2 2 5 -1 4 -4 3zM828 342l-3 1 -3 -2 -1 -3 1 -2 4 -1 3 1 1 4 -2 2zM582 351l-2 -7 1 -4 1 -1 1 4 -1 8zM300 382l-2 0 -4 -2 -3 -4 0 -26 1 -6 2 -3 2 1 3 6 -1 3 -1 2 3 7 2 15 -1 4 -1 3zM321 373l-3 0 -2 -1 -1 -3 2 -4 5 -8 6 -13 3 -3 4 0 2 2 0 2 -7 18 -3 5 -6 5zM865 358l-2 -1 -1 -5 0 -5 2 -3 2 1 1 5 0 5 -2 3zM925 393l-4 0 -2 -2 -1 -4 2 -4 11 -11 8 -4 7 -5 17 -18 4 -1 4 2 1 2 0 3 -5 5 -5 8 -7 5 -6 6 -9 6 -7 7 -8 5zM228 357l-2 0 -1 -1 0 -4 2 -4 3 -2 2 2 1 3 -2 4 -3 2zM1045 360l-2 0 0 -3 0 -5 2 -3 6 -3 5 2 2 3 -1 4 -3 2 -9 3zM702 360l-1 1 -1 -1 -1 -5 1 -4 2 -1 2 5 -2 5zM1036 368l-3 -1 -1 -3 1 -4 2 -1 2 0 1 3 0 4 -2 2zM540 376l-1 0 -3 -6 1 -1 3 1 1 2 0 3 -1 1zM1083 401l-4 0 -3 -1 -2 -3 1 -3 10 -6 6 -2 7 -8 9 -7 4 -1 4 2 2 4 -1 3 -11 5 -13 10 -5 5 -4 2zM1011 382l-2 0 -2 -4 1 -4 2 -1 2 1 1 3 0 3 -2 2zM881 386l-2 -1 -1 -3 1 -3 2 -1 1 1 1 3 -2 4zM728 393l-4 0 -3 -4 0 -5 2 -2 2 -1 4 1 3 5 0 3 -4 3zM1027 416l-3 0 -3 -3 -1 -5 1 -4 6 -6 8 -6 9 -11 3 0 5 2 1 2 0 3 -6 9 -11 10 -9 9zM280 391l-3 -1 -2 -2 0 -4 2 -3 3 1 2 3 0 3 -2 3zM258 410l-4 -1 -4 -4 0 -4 3 -5 3 -2 2 -1 11 4 3 4 -2 5 -3 2 -9 2zM180 484l-2 1 0 -19 5 -2 7 -6 9 -6 4 -6 0 -2 -2 -1 -7 3 -3 -1 -2 -3 1 -4 2 -2 7 -2 5 -7 7 -12 8 -6 2 0 1 3 -3 8 -3 4 -7 6 -4 10 1 3 8 4 4 4 1 4 -1 4 -8 7 -12 7 -7 5 -11 6zM323 426l-4 -2 -3 -6 2 -7 2 -2 2 0 4 1 2 4 -1 8 -2 3 -2 1zM923 419l-3 1 -2 -3 0 -4 3 -2 2 1 1 2 0 3 -1 2zM1147 418l-3 0 -2 -3 1 -3 3 -1 3 0 2 3 -1 3 -3 1zM725 452l-2 1 -3 -2 -2 -2 0 -3 11 -22 4 -6 2 -1 2 0 2 2 0 2 -5 9 -3 10 -6 12zM1089 445l-3 -2 -1 -5 0 -6 3 -2 3 2 1 4 -1 6 -2 3zM512 441l-2 -1 -1 -3 0 -3 2 -2 2 1 1 3 -1 3 -1 2zM473 455l-4 -1 -3 -6 0 -9 3 -5 2 0 2 2 3 6 0 9 -1 2 -2 2zM505 554l-3 1 -3 -2 -2 -4 1 -3 20 -27 13 -9 9 -9 24 -10 10 -6 2 -3 0 -8 2 -4 9 -5 7 -9 6 -4 5 -4 -2 -6 1 -4 2 -1 2 2 0 8 11 2 5 2 1 3 0 5 -3 7 -3 5 -6 4 -5 5 -10 3 -14 16 -5 5 -10 4 -6 4 -9 10 -2 1 -7 0 -11 6 -11 12 -4 6 -8 3 -6 4zM389 498l-4 0 -3 0 -4 -4 -3 -5 0 -10 1 -12 -1 -8 3 0 4 2 2 0 5 -4 9 -10 3 -2 4 1 11 5 1 3 0 5 -4 6 -7 19 -11 12 -6 2zM373 457l-1 -2 1 -1 1 2 -1 1zM1220 471l-2 -1 -1 -3 0 -4 2 -2 2 1 1 4 0 3 -2 2zM752 561l-3 0 -7 -6 -8 -5 -5 -10 -1 -7 -5 -7 -2 -8 0 -8 2 -9 3 -5 3 -1 3 1 2 3 0 5 0 8 -4 11 -1 9 5 4 3 5 3 0 11 -7 6 -9 2 1 3 3 2 0 9 -6 22 -10 19 -19 4 -10 -1 -11 1 -5 3 -2 5 -1 3 1 3 2 3 3 2 4 0 5 0 4 -2 3 -7 6 -8 18 -10 13 -22 17 -5 2 -8 2 -10 8 -13 8zM867 481l-2 -1 -2 -4 1 -4 2 -1 3 1 1 4 -1 4 -2 1zM778 485l-6 0 -4 -3 0 -5 4 -4 5 -1 3 3 1 3 0 3 -3 4zM302 518l-4 -1 -2 -2 -1 -4 1 -4 7 -8 8 -3 3 0 1 -2 3 -9 2 -2 2 1 1 3 -3 7 -6 6 -7 15 -2 2 -3 1zM760 509l-2 -1 -3 -3 -2 -7 2 -6 3 -3 2 -1 3 3 1 6 -1 7 -3 5zM1136 535l-3 -1 -1 -4 2 -19 1 -17 2 -4 2 -1 3 2 3 3 1 7 -4 14 -1 16 -2 3 -3 1zM709 537l-3 1 -5 -2 -2 -4 1 -6 4 -10 -2 -6 1 -6 1 -3 2 -1 2 1 1 4 -2 11 5 7 2 5 -2 5 -3 4zM313 556l-8 0 -7 -4 -4 -6 0 -7 10 -7 6 -11 12 -5 14 -13 3 -1 3 1 2 2 1 3 -2 7 -6 7 -4 11 -5 7 -10 13 -5 3zM381 526l-5 0 -3 -1 -2 -3 -1 -5 1 -5 2 -4 4 -4 4 -1 3 1 2 2 2 6 1 4 -2 7 -2 2 -4 1zM514 516l-5 1 -3 -3 -1 -6 3 -5 3 0 3 1 3 3 1 3 0 3 -4 3zM999 551l-3 -2 -4 -8 -1 -5 1 -6 3 -5 4 -3 6 2 2 -1 0 -6 1 -3 4 -4 3 0 3 2 1 3 1 4 0 4 -6 5 0 7 -2 6 -13 10zM1196 520l-3 -1 -1 -3 0 -3 3 -2 2 1 2 3 -1 4 -2 1zM905 565l-1 0 -4 -10 -4 -9 -1 -11 1 -6 3 -5 6 -5 3 0 4 3 6 12 1 8 0 3 -5 3 -5 6 -2 8 -2 3zM479 539l-2 1 -3 -2 -2 -3 -1 -3 2 -8 2 -3 2 0 4 1 2 6 0 6 -4 5zM1141 596l-3 -2 -4 -14 -12 -27 0 -4 2 -2 3 0 2 2 7 17 2 4 2 1 4 0 3 5 1 4 -1 5 -2 5 -4 6zM424 596l-5 0 -3 -1 -11 -15 -2 1 -2 4 -2 3 -2 0 -2 -1 -5 -10 -7 -5 -2 -3 -1 -5 2 -5 7 -4 4 1 2 2 3 7 6 0 11 7 7 3 3 5 3 9 -1 5 -3 2zM473 563l-5 1 -4 -1 -2 -2 -1 -4 2 -1 4 -1 10 2 2 1 1 4 -1 1 -6 0zM713 585l-7 1 -3 -2 -1 -3 0 -4 4 -5 3 -6 2 -2 5 -1 7 -4 5 -1 4 2 2 2 0 3 -1 7 -9 4 -11 9zM1028 583l-2 0 -1 -2 -3 -7 1 -3 3 -2 5 -5 9 -3 5 1 2 3 1 6 0 3 -3 4 -4 3 -9 -1 -4 3zM332 588l-6 1 -1 -8 0 -9 3 -6 4 -3 5 -1 2 2 4 7 0 12 -2 4 -9 1zM608 631l-4 0 -3 -2 -10 -19 -3 -5 -8 -19 -1 -7 0 -7 2 -6 4 -3 9 -1 4 2 3 5 5 12 4 17 3 22 -1 7 -2 3 -2 1zM840 580l-3 -1 -1 -2 1 -1 2 0 2 1 1 2 -2 1zM1084 593l-2 -2 -2 -5 2 -6 2 -2 2 2 1 6 -1 4 -2 3zM869 599l-2 1 -3 -2 -7 -7 -7 -1 -2 -4 0 -3 2 -1 2 0 6 4 6 1 6 3 2 2 0 3 -3 4zM207 642l-4 0 -7 -7 -13 -2 -5 -4 0 -46 5 1 5 8 5 15 1 8 2 6 3 3 4 1 3 -1 3 -3 2 0 3 4 3 8 -1 5 -2 2 -7 2zM569 597l-2 0 -2 -1 -1 -4 2 -5 3 -2 2 2 1 4 -1 4 -2 2zM503 640l-3 -2 -4 -5 -6 -15 1 -6 5 -9 2 -12 1 -3 2 -1 3 2 2 6 3 20 -1 20 -2 4 -3 1zM318 622l-3 -1 -2 -4 -1 -7 0 -7 6 -11 3 -2 5 -1 1 10 -1 8 -4 11 -2 3 -2 1zM1088 676l-14 0 -1 -3 1 -3 8 -13 12 -17 6 -4 4 -10 6 -8 -1 -5 1 -4 5 -12 1 -2 2 0 5 4 5 5 2 4 -1 4 -7 14 -4 12 -10 16 -3 5 -6 5 -4 6 -7 6zM1160 614l-2 0 -2 -2 -1 -5 1 -5 4 -2 4 2 1 4 -2 6 -3 2zM1182 616l-3 -2 -1 -4 1 -5 3 -2 2 2 1 5 -3 6zM666 617l-4 0 -2 -3 2 -6 3 -2 4 1 2 4 -1 3 -4 3zM796 619l-3 0 -2 -3 1 -3 3 -2 4 1 1 2 0 3 -4 2zM562 676l-9 0 -2 -7 5 -18 6 -10 2 -12 2 -4 5 -4 5 -7 3 -1 4 0 3 2 1 3 -3 10 -7 14 -7 10 -3 12 -3 9 -2 3zM791 676l-7 0 -3 -23 -6 -15 0 -5 1 -3 2 -3 3 -1 4 1 2 2 3 14 3 9 1 14 -2 9 -1 1zM334 651l-4 0 -3 -1 -1 -3 -1 -7 0 -5 2 -3 3 -3 3 -1 3 1 2 2 2 3 0 5 -1 8 -2 2 -3 2zM1224 676l-4 0 -2 -5 -4 -4 -10 -3 -3 0 -3 3 -2 4 0 5 -33 0 -1 -4 0 -5 3 -8 7 -6 9 -2 10 -7 5 -11 3 -2 3 2 6 5 13 -1 2 0 1 2 0 18 -4 4 -1 4 1 3 4 2 0 6zM1006 651l-4 0 -3 -3 -1 -3 2 -3 4 -1 4 2 1 5 -3 3zM1124 672l-2 0 -5 -3 -4 -5 0 -4 0 -5 2 -3 3 -2 5 1 3 5 0 10 -2 6zM922 662l-4 -1 -1 -3 1 -4 3 -1 3 1 1 3 0 3 -3 2zM829 666l-4 -1 -2 -4 1 -4 4 -3 3 1 2 4 -1 5 -3 2zM489 660l-1 0 1 -2 1 1 -1 1zM237 676l-10 0 -1 -5 0 -5 2 -4 2 -2 4 0 4 5 1 7 -1 4 -1 0z" fill="#b2c4e0" fill-rule="evenodd"/><path d="M301 305l-3 -1 -1 -3 -2 -8 1 -5 8 0 1 2 0 9 -2 5 -2 1zM380 329l-1 0 -1 -2 -4 -9 -4 -13 -3 -6 -1 -7 1 -4 18 0 1 2 0 21 -3 12 -3 6zM539 332l-5 1 -3 -3 -2 -8 -5 -13 -6 -16 0 -5 12 0 1 6 12 30 0 6 -4 2zM606 311l-7 0 -8 -4 -4 -1 -2 -2 0 -3 4 -4 5 -9 10 0 4 4 6 1 2 2 1 5 -1 4 -4 4 -6 3zM669 303l-3 -2 -2 -6 0 -4 1 -3 5 0 1 2 0 8 -2 5zM735 306l-2 -1 -2 -4 0 -7 1 -6 5 0 1 6 0 7 -3 5zM894 311l-4 1 -10 -9 0 -8 3 -7 14 0 0 18 -1 3 -2 2zM238 307l-2 0 -2 -2 -2 -6 1 -5 3 -4 4 2 2 6 -1 6 -3 3zM346 312l-1 -3 2 -13 2 -3 3 -1 2 4 -1 7 -4 7 -3 2zM489 305l-3 1 -2 -1 -1 -3 2 -3 2 -1 3 2 0 3 -1 2zM205 314l-2 -1 0 -3 0 -5 1 -2 1 1 1 4 0 3 -1 3zM1121 316l-4 -1 -2 -3 0 -4 3 -2 5 1 2 3 0 4 -4 2zM947 345l-4 -1 -1 -3 2 -26 1 -2 3 -1 2 0 2 2 0 5 -1 23 -2 2 -2 1zM985 342l-5 1 -3 -2 -3 -5 -1 -6 1 -5 2 -3 7 -5 3 -1 4 1 4 3 2 4 1 4 -1 6 -3 5 -3 2 -5 1zM220 338l-3 -1 -3 -4 2 -4 4 -2 3 1 2 4 -2 4 -3 2zM828 341l-3 1 -2 -1 -1 -2 0 -2 3 -1 3 1 1 2 -1 2zM320 369l-1 0 -1 -1 1 -3 5 -8 4 -10 2 -3 3 -1 1 2 0 4 -6 15 -3 4 -5 1zM926 392l-4 0 -3 -2 0 -4 2 -3 10 -10 14 -8 18 -19 4 -1 4 2 1 2 -1 3 -10 11 -35 29zM865 357l-2 -1 -1 -4 0 -4 2 -3 2 2 1 3 0 4 -2 3zM228 356l-2 0 -1 -4 2 -3 3 -2 2 2 0 2 -1 3 -3 2zM1051 357l-4 0 -2 -2 0 -2 2 -4 5 -2 3 2 2 3 -2 3 -4 2zM1036 366l-2 0 -1 -2 1 -3 1 -1 2 2 -1 4zM299 380l-4 -1 -2 -3 1 -12 1 -2 2 0 1 1 1 4 1 9 -1 4zM1097 389l-2 1 -2 -1 1 -4 3 -4 10 -9 3 -1 2 1 2 4 -1 3 -16 10zM1010 381l-2 -3 1 -3 1 -1 2 2 0 2 0 2 -2 1zM881 385l-1 0 -1 -2 0 -3 1 -1 1 0 1 2 0 3 -1 1zM728 392l-2 1 -2 -1 -2 -3 1 -5 2 -2 3 0 3 4 -1 4 -2 2zM1028 414l-4 1 -3 -3 -1 -4 2 -4 13 -11 9 -10 3 -1 4 1 1 2 0 3 -5 8 -10 9 -9 9zM279 389l-2 0 -1 -2 0 -3 2 -1 2 1 1 2 -1 2 -1 1zM1083 400l-3 1 -3 -1 -1 -2 0 -3 8 -6 4 -1 2 3 0 3 -3 4 -4 2zM261 409l-6 0 -2 -2 -2 -3 1 -5 4 -4 3 0 7 1 3 2 1 2 1 3 -2 3 -8 3zM323 424l-3 -1 -3 -5 1 -5 3 -3 4 1 2 4 -1 6 -3 3zM922 419l-2 0 -2 -3 1 -3 2 -1 2 2 0 3 -1 2zM1148 417l-3 0 -2 -1 -1 -2 2 -2 3 -1 3 2 0 2 -2 2zM213 424l-2 0 0 -5 3 -4 3 -1 1 2 0 3 -2 3 -3 2zM194 444l-3 -2 1 -3 5 -1 7 -5 1 0 -3 6 -8 5zM1089 443l-2 -1 -1 -3 0 -4 2 -2 2 1 1 3 -1 4 -1 2zM724 451l-2 0 -2 -1 -1 -2 1 -2 7 -11 2 -2 1 0 -1 6 -5 12zM472 454l-2 0 -2 -2 -1 -6 0 -7 3 -3 2 0 2 2 2 7 -1 7 -3 2zM606 444l-1 0 -1 -2 1 -2 1 -1 1 1 0 2 -1 2zM389 497l-6 0 -3 -2 -2 -3 -1 -5 2 -11 6 -12 11 -14 5 -4 5 1 8 5 1 3 -1 3 -9 26 -11 11 -5 2zM181 483l-3 1 0 -17 6 -2 6 -6 8 -5 8 -7 5 0 5 3 2 5 -1 3 -2 3 -34 22zM505 553l-3 1 -3 -2 -1 -3 0 -3 22 -27 12 -9 9 -8 9 -5 14 -5 10 -6 3 -4 1 -6 1 -4 9 -7 8 -10 11 -6 9 0 7 2 1 3 0 4 -4 9 -8 5 -7 7 -8 4 -6 8 -7 8 -6 4 -9 4 -7 4 -10 9 -7 2 -11 6 -16 16 -13 9zM1220 470l-1 0 -1 -3 0 -3 1 -2 1 1 1 3 -1 4zM753 559l-4 0 -9 -8 -1 -4 2 -5 15 -11 8 0 8 -6 23 -10 19 -20 4 -10 0 -11 2 -4 3 -3 3 0 3 0 3 2 4 6 1 5 -1 4 -2 3 -7 6 -6 15 -12 16 -21 16 -6 2 -7 2 -12 9 -10 6zM867 480l-2 -1 -1 -3 0 -3 2 -2 2 1 2 4 -1 3 -2 1zM778 484l-5 1 -4 -3 0 -5 3 -4 5 0 3 2 1 5 -3 4zM760 505l-2 0 -2 -1 -2 -5 1 -6 4 -3 3 1 1 5 0 6 -3 3zM1137 534l-3 0 -2 -4 3 -16 1 -19 1 -3 2 -1 2 1 3 3 1 7 -3 14 -1 14 -2 3 -2 1zM727 524l-2 -1 -2 -4 -1 -8 3 -11 2 -3 2 -1 2 1 2 3 1 10 -5 13 -2 1zM303 516l-3 1 -2 -1 -2 -4 2 -3 7 -7 2 -1 1 1 0 7 -2 4 -3 3zM706 510l-2 0 -1 -2 1 -4 1 -1 1 0 1 2 -1 5zM313 555l-7 1 -7 -5 -3 -5 1 -6 19 -19 7 -5 13 -12 3 -1 2 1 2 2 0 4 -8 14 -3 9 -14 19 -5 3zM381 525l-4 0 -3 0 -2 -3 -1 -5 2 -8 3 -3 4 -2 3 1 2 2 2 4 1 4 -2 7 -2 2 -3 1zM513 515l-4 0 -3 -3 1 -5 3 -3 4 1 2 3 0 5 -3 2zM1001 546l-4 -1 -4 -4 -1 -5 1 -6 3 -4 3 -2 9 1 -1 -7 1 -3 3 -3 4 -1 3 4 1 5 -2 4 -5 2 2 7 -2 6 -2 3 -9 4zM1195 518l-2 -1 1 -2 2 1 -1 2zM908 551l-4 0 -5 -4 -2 -4 -1 -7 1 -6 2 -5 4 -3 5 -2 2 1 2 3 5 10 1 5 -1 3 -9 9zM478 538l-4 -1 -2 -6 2 -7 3 -3 2 1 2 1 2 6 -2 6 -3 3zM707 537l-3 -2 -2 -5 1 -5 2 -2 2 -1 4 2 2 5 -2 5 -2 2 -2 1zM1144 589l-2 1 -3 -1 -3 -3 -2 -7 -11 -26 -1 -3 2 -2 2 0 3 2 6 17 3 4 2 2 4 -1 2 3 1 8 -1 4 -2 2zM425 594l-4 0 -4 -1 -6 -7 -4 -8 -2 -1 -5 0 -3 5 -2 0 -4 -6 -7 -4 -2 -3 -1 -5 2 -4 4 -3 5 0 2 3 2 7 2 3 1 0 4 -3 2 0 9 6 8 4 2 3 3 7 0 4 -2 3zM468 563l-3 0 -2 -2 -1 -2 1 -2 6 0 4 2 0 2 -5 2zM711 585l-4 0 -4 -2 -1 -3 1 -4 8 -9 6 -3 5 -4 4 -1 4 1 3 4 -1 6 -9 6 -8 7 -4 2zM1041 580l-4 0 -6 -2 -1 -2 -1 -3 1 -5 2 -3 6 -3 4 -1 2 1 2 2 2 7 -2 5 -5 4zM333 586l-4 0 -2 -1 -2 -5 1 -6 2 -7 4 -3 4 -1 3 2 3 5 0 11 0 3 -2 1 -7 1zM608 630l-3 1 -2 -2 -15 -28 -7 -17 -1 -6 0 -6 3 -6 3 -2 7 -1 4 2 3 4 1 7 4 7 5 18 1 19 0 7 -3 3zM852 588l-2 -1 1 -2 2 1 0 2 -1 0zM1084 588l-1 -1 0 -2 1 3zM207 641l-2 0 -3 -2 -5 -6 -6 0 -9 -2 -4 -5 0 -39 5 0 4 5 4 15 1 8 5 9 3 2 9 1 4 3 1 4 -1 3 -1 2 -5 2zM570 595l-3 1 -2 -3 1 -4 3 -2 2 1 0 2 -1 5zM868 597l-3 0 -4 -3 -1 -3 2 -3 3 0 4 3 1 4 -2 2zM318 619l-2 0 -2 -3 -2 -6 0 -5 2 -4 4 -7 2 -2 3 -1 2 4 1 8 -4 10 -4 6zM505 637l-3 0 -4 -4 -6 -15 2 -6 5 -11 2 -3 2 1 1 2 5 13 -1 17 -1 4 -2 2zM1086 676l-8 0 -1 -1 -1 -3 1 -4 5 -10 12 -16 3 -3 4 -1 2 -7 2 -5 3 -3 5 -1 2 -2 0 -3 -3 -4 -1 -2 3 -8 4 -4 5 1 4 5 1 6 -7 13 -4 13 -10 16 -7 8 -5 8 -9 7zM1159 610l-2 -1 -1 -4 2 -3 2 -1 3 2 0 3 -1 2 -3 2zM1181 614l-2 -2 0 -3 1 -4 2 -1 2 2 0 3 -1 4 -2 1zM666 616l-3 0 -2 -2 1 -5 3 -2 4 1 1 3 -1 3 -3 2zM795 617l-2 0 -1 -1 1 -2 2 -1 2 2 -2 2zM576 637l-4 -8 0 -4 4 -9 3 -2 3 1 3 2 0 4 -3 9 -6 7zM790 676l-5 0 -1 -1 -2 -22 -5 -14 -1 -8 2 -3 3 -1 4 0 2 3 2 14 3 9 1 12 -2 10 -1 1zM333 650l-3 0 -2 -2 -3 -9 1 -4 2 -3 5 -2 3 1 2 2 1 8 -1 6 -5 3zM1193 676l-29 0 -2 -6 2 -7 2 -4 5 -4 11 -3 9 -7 2 -3 3 -8 2 -2 4 1 6 5 12 0 3 1 1 1 0 16 -9 9 -11 -1 -5 1 -2 3 -2 6 -2 2zM559 676l-3 0 -1 -1 -2 -3 0 -4 3 -6 3 -10 5 -6 3 -9 1 -1 2 0 3 5 -7 7 1 9 -1 4 -4 12 -3 3zM1006 649l-3 0 -2 -1 -1 -3 1 -2 3 -1 3 2 0 3 -1 2zM1122 669l-2 1 -3 -2 -3 -5 0 -7 2 -4 2 -1 4 1 3 5 0 8 -1 3 -2 1zM921 661l-2 -1 -1 -3 1 -2 3 -1 2 1 0 3 -1 2 -2 1zM830 665l-4 -1 -2 -3 1 -4 3 -2 3 1 1 2 0 4 -2 3zM234 676l-5 0 -2 -4 0 -7 2 -3 2 -1 4 1 2 4 0 6 -2 3 -1 1z" fill="#97aace" fill-rule="evenodd"/><path d="M302 303l-2 1 -2 -4 -2 -7 2 -5 5 0 1 2 1 7 -3 6zM380 324l-5 -7 -2 -6 -1 -7 -4 -9 0 -4 1 -3 14 0 1 1 1 21 -2 10 -2 4 -1 0zM539 331l-4 1 -3 -3 -2 -7 -5 -11 -6 -18 0 -5 10 0 1 6 13 30 -1 5 -3 2zM669 301l-1 -1 -3 -7 0 -3 1 -2 3 1 1 2 0 6 -1 4zM734 304l-2 -2 -1 -6 1 -5 1 -2 1 -1 3 5 1 5 -2 5 -2 1zM894 309l-2 1 -2 -1 -7 -5 -2 -3 0 -7 2 -4 2 -2 10 0 1 1 1 15 -1 3 -2 2zM605 310l-4 0 -3 -1 -4 -3 -2 -3 0 -4 1 -6 3 -3 3 -1 4 0 4 4 6 2 2 3 0 3 -1 3 -9 6zM239 305l-3 0 -3 -5 0 -5 3 -4 3 2 2 4 0 5 -2 3zM348 310l-1 0 -1 -2 1 -8 2 -5 2 0 1 3 0 4 -2 5 -2 3zM487 304l-2 0 -1 -1 1 -2 1 -1 2 1 0 2 -1 1zM1120 315l-3 -1 -1 -2 0 -3 2 -2 5 2 1 2 -1 3 -3 1zM948 344l-4 0 -2 -3 2 -26 2 -2 2 -1 3 2 1 4 -2 23 -2 3zM984 341l-3 0 -3 -2 -3 -5 0 -5 1 -3 2 -3 5 -5 3 0 7 4 2 3 0 4 -1 5 -2 4 -3 2 -5 1zM221 336l-3 0 -2 -2 1 -4 2 -2 3 1 1 2 0 3 -2 2zM825 340l-1 -1 1 -1 2 1 -2 1zM926 391l-3 1 -3 -2 0 -3 1 -4 10 -8 14 -9 18 -19 3 -1 4 1 1 2 0 2 -10 11 -35 29zM865 355l-1 0 -1 -3 0 -3 1 -1 2 2 -1 5zM229 354l-2 1 -1 -3 2 -3 2 -1 1 3 -2 3zM1052 355l-3 1 -2 -2 1 -3 3 -2 2 0 2 2 -1 3 -2 1zM1102 383l-3 0 0 -2 1 -2 7 -6 2 -1 2 1 1 3 0 2 -10 5zM727 392l-3 -1 -1 -3 1 -4 2 -1 3 1 1 3 -1 3 -2 2zM1028 413l-3 1 -3 -2 -1 -4 1 -3 13 -11 9 -10 3 -1 3 1 1 2 0 2 -5 8 -9 8 -9 9zM1082 399l-4 0 -1 -2 0 -2 7 -5 3 0 1 3 0 2 -2 2 -4 2zM262 408l-6 0 -4 -3 0 -4 3 -4 3 -1 4 0 5 2 2 2 1 3 -1 2 -7 3zM1147 417l-2 0 -2 -2 1 -2 1 -1 3 0 2 2 -1 2 -2 1zM324 422l-3 0 -2 -3 0 -5 2 -2 3 1 2 3 0 3 -2 3zM921 417l-1 0 -1 -2 2 -2 1 2 -1 2zM473 452l-3 0 -2 -4 0 -6 2 -4 3 1 2 4 0 5 -2 4zM390 496l-4 1 -3 -1 -4 -4 0 -4 3 -14 5 -10 10 -14 4 -3 4 0 4 2 3 3 1 3 0 3 -8 24 -11 12 -4 2zM179 483l-1 0 0 -15 5 -1 3 4 0 -5 3 -5 18 -13 4 0 5 3 1 5 -3 5 -6 4 -20 11 -6 6 -3 1zM505 552l-3 1 -2 -2 -1 -2 0 -3 22 -27 13 -8 9 -9 22 -9 11 -7 2 -3 2 -10 9 -7 6 -8 3 -3 10 -4 9 -1 5 2 1 3 0 3 -3 6 -3 3 -6 3 -14 13 -5 7 -9 9 -5 3 -10 4 -9 6 -7 6 -7 3 -12 7 -15 15 -13 9zM752 558l-2 0 -3 -1 -6 -7 0 -5 3 -4 11 -7 9 -2 8 -6 23 -10 13 -12 7 -9 4 -10 1 -11 2 -4 2 -1 3 -1 5 2 4 6 0 4 -1 4 -2 3 -6 5 -6 14 -12 17 -21 15 -7 3 -7 2 -12 10 -10 5zM867 478l-2 -3 1 -2 1 0 1 2 0 3 -1 0zM777 483l-5 0 -2 -2 0 -4 3 -3 4 0 2 2 1 4 -3 3zM760 503l-3 0 -2 -5 1 -4 3 -3 2 1 2 4 -1 4 -2 3zM1138 533l-3 0 -2 -3 3 -15 1 -20 2 -3 2 1 1 2 2 7 -3 14 -1 14 -2 3zM728 520l-2 0 -2 -2 -1 -8 3 -9 2 -2 2 -1 2 2 1 2 0 8 -1 4 -4 6zM312 554l-6 0 -6 -4 -2 -5 1 -5 16 -16 8 -6 8 -8 7 -5 2 0 2 2 0 2 -11 22 -14 20 -5 3zM381 524l-4 0 -3 -1 -2 -6 0 -4 2 -4 3 -3 3 -1 3 1 2 2 2 6 -1 7 -5 3zM512 513l-3 0 -1 -2 1 -3 3 -1 2 1 1 2 -1 2 -2 1zM1014 524l-4 -1 -2 -4 1 -4 4 -2 3 1 2 4 -1 4 -3 2zM909 548l-4 1 -4 -3 -2 -4 -2 -6 1 -5 2 -5 3 -3 4 -2 2 0 3 3 4 12 -1 4 -6 8zM478 536l-4 -1 -1 -4 1 -6 3 -3 3 2 2 5 -1 5 -3 2zM708 536l-3 -1 -2 -5 2 -5 3 -1 3 2 1 3 -1 4 -3 3zM1001 544l-5 -1 -2 -3 -1 -4 2 -7 2 -2 3 -2 9 2 2 2 2 4 -1 5 -2 3 -9 3zM1132 570l-8 -16 -1 -3 2 -2 2 1 5 10 1 8 0 2 -1 0zM468 561l-3 0 0 -2 2 -1 2 1 0 1 -1 1zM395 574l-1 0 -8 -2 -3 -3 -1 -3 1 -3 3 -4 4 -1 3 2 2 14zM711 584l-4 0 -3 -2 -1 -2 1 -3 8 -8 5 -3 5 -5 4 -1 3 1 3 4 -2 5 -7 5 -8 7 -4 2zM1041 579l-3 0 -4 -1 -2 -3 -1 -3 1 -4 2 -3 4 -2 4 -1 2 1 2 2 1 6 -2 5 -4 3zM334 584l-4 1 -2 -1 -1 -4 0 -4 2 -8 3 -2 4 -1 3 2 2 3 0 9 -1 4 -6 1zM607 629l-2 0 -2 -2 -2 -7 -12 -21 -7 -17 -1 -5 1 -5 3 -5 3 -2 5 0 4 2 2 4 0 7 4 5 1 4 5 16 1 15 0 8 -1 2 -2 1zM424 590l-2 1 -9 -6 -5 -11 -3 -2 1 -1 15 7 3 7 0 5zM1143 588l-4 -1 -2 -2 -1 -9 1 -2 3 1 3 -1 2 2 1 8 -1 3 -2 1zM192 631l-9 -1 -2 -2 -2 -5 -1 -2 0 -31 5 0 3 4 1 7 2 7 1 6 5 11 -1 4 -2 2zM569 593l0 -3 1 1 -1 2zM866 595l-2 -1 0 -3 2 1 0 3zM317 616l-2 -1 -1 -2 -1 -8 5 -9 2 -2 2 -1 3 4 0 7 -3 7 -3 4 -2 1zM1121 619l-1 0 -3 -6 -3 -2 -1 -2 2 -5 5 -2 3 0 2 2 2 5 -1 4 -5 6zM505 634l-3 1 -3 -3 -1 -3 1 -5 -3 -3 -1 -3 0 -3 2 -5 3 -4 2 0 4 3 2 6 -1 13 -2 6zM666 615l-3 0 -1 -2 2 -4 2 -1 2 1 1 2 -1 2 -2 2zM579 629l-2 0 -2 -2 -1 -3 2 -6 4 -2 2 1 1 3 -1 6 -3 3zM1083 675l-4 -2 -1 -3 6 -13 11 -15 2 -1 4 1 1 -1 2 -9 2 -5 2 -1 10 -2 0 7 -3 8 -9 13 -6 6 -5 9 -12 8zM789 676l-3 0 -1 -1 -3 -23 -2 -8 -2 -10 0 -4 3 -3 3 1 2 2 3 16 3 9 0 9 -3 12zM207 639l-3 0 -3 -4 -1 -5 2 -2 5 1 5 3 0 4 -5 3zM334 648l-3 1 -2 -2 -3 -7 2 -6 4 -3 4 2 2 7 -1 5 -3 3zM1189 676l-24 0 -2 -7 2 -7 6 -6 12 -4 8 -6 2 -2 3 -9 2 -2 4 0 6 6 11 0 3 1 2 3 0 11 -1 1 -9 8 -11 0 -4 2 -2 2 -4 7 -4 2zM1121 668l-4 -1 -3 -5 1 -6 2 -3 2 -1 3 2 2 5 -1 6 -2 3zM559 674l-2 0 -2 -1 -1 -4 5 -5 1 -7 2 -3 1 1 1 4 -3 6 -1 7 -1 2zM829 663l-3 -1 0 -2 1 -3 2 0 2 1 0 2 0 2 -2 1zM922 658l-1 0 0 -1 1 -1 0 2zM232 675l-3 -1 -1 -5 1 -5 3 -2 3 2 1 4 -1 4 -3 3z" fill="#7c90b9" fill-rule="evenodd"/><path d="M382 317l-1 1 -3 -2 -3 -3 -1 -11 -4 -9 1 -5 11 0 0 1 2 19 -2 9zM539 330l-4 0 -2 -2 -1 -7 -6 -10 -6 -18 0 -5 8 0 1 7 5 10 2 7 6 12 0 4 -3 2zM894 307l-2 1 -2 -1 -7 -5 -1 -2 0 -7 2 -3 3 -2 6 0 2 2 1 13 -2 4zM301 301l-1 -1 -2 -8 1 -3 2 -1 2 2 1 4 -1 5 -2 2zM603 309l-5 -1 -3 -3 -1 -3 2 -7 5 -4 2 1 4 4 5 2 1 2 -3 5 -4 3 -3 1zM735 302l-2 -1 -1 -3 1 -5 1 -2 2 3 0 3 -1 5zM238 304l-2 -1 -2 -4 0 -4 2 -2 3 1 2 4 -1 4 -2 2zM349 306l-1 1 0 -1 0 -4 1 -3 1 -1 1 4 -2 4zM1119 313l-2 -2 1 -1 2 2 -1 1zM947 344l-3 0 -1 -3 2 -25 1 -2 2 -1 3 2 0 5 -2 21 -2 3zM983 339l-2 0 -2 -3 -2 -3 0 -4 1 -3 4 -5 4 -2 7 5 1 6 -3 7 -2 1 -6 1zM950 368l-1 0 -1 -2 1 -3 7 -7 5 -6 4 -3 4 1 1 1 -1 2 -3 3 -5 6 -4 4 -7 4zM926 391l-3 0 -2 -2 -1 -2 1 -3 12 -10 9 -3 4 0 0 2 -2 2 -7 5 -5 6 -6 5zM1107 379l-2 1 -1 -2 3 -4 3 0 0 3 -3 2zM1028 413l-3 0 -2 -2 -1 -3 1 -3 12 -10 8 -9 3 -2 3 1 1 3 -4 7 -9 7 -9 11zM727 391l-2 0 -1 -3 0 -2 2 -2 2 1 1 2 -1 3 -1 1zM1082 397l-3 0 0 -1 4 -3 2 0 0 2 -3 2zM260 408l-5 -1 -3 -3 1 -4 4 -3 8 1 3 3 0 2 -1 2 -7 3zM1148 416l-3 0 -1 -2 2 -2 2 1 1 1 -1 2zM323 421l-2 -1 -1 -1 0 -3 1 -1 3 2 0 2 -1 2zM472 451l-2 -1 -2 -4 1 -4 2 -2 2 2 1 3 -1 4 -1 2zM390 495l-6 1 -2 -2 -2 -3 0 -3 4 -14 4 -9 9 -14 4 -3 4 0 6 4 1 3 0 3 -8 23 -11 12 -3 2zM193 469l-2 1 -3 -4 0 -2 2 -3 12 -8 6 -3 4 -1 3 3 1 2 0 3 -5 5 -10 6 -3 0 -3 -2 -2 3zM505 551l-2 1 -2 -1 -1 -2 0 -3 21 -26 15 -9 4 -5 5 -4 20 -8 11 -7 3 -4 1 -7 2 -3 8 -6 6 -9 3 -2 5 -3 5 -1 8 0 4 1 1 5 -3 6 -16 10 -11 15 -9 9 -6 4 -9 3 -9 5 -7 7 -8 3 -5 4 -7 4 -14 13 -8 6 -5 4zM179 482l-1 0 0 -13 3 -1 2 2 2 6 -2 4 -4 2zM752 557l-5 -2 -5 -5 0 -5 3 -4 9 -6 10 -2 7 -5 24 -10 8 -8 5 -3 7 -11 5 -10 1 -11 2 -4 4 -1 5 2 3 5 0 7 -2 2 -7 6 -3 9 -4 6 -3 2 -5 0 -2 1 0 3 2 4 -4 6 -20 14 -6 3 -8 2 -11 10 -10 5zM777 482l-3 1 -3 -2 -1 -3 3 -3 3 -1 2 2 1 3 -2 3zM760 500l-2 0 -1 -2 0 -3 2 -2 2 1 0 2 -1 4zM1139 514l-1 0 -1 -2 0 -6 1 -9 1 -3 3 3 1 5 -1 7 -3 5zM728 518l-2 -1 -1 -1 -1 -6 2 -6 2 -3 2 -1 2 3 1 7 -2 4 -3 4zM380 523l-3 0 -2 -1 -2 -6 0 -4 2 -3 5 -3 2 1 2 2 3 6 -3 6 -4 2zM311 553l-5 0 -5 -4 -2 -4 2 -5 9 -8 7 -8 7 -4 7 -8 2 -1 4 0 1 1 -1 4 -8 15 -14 20 -4 2zM1014 523l-3 0 -2 -4 1 -3 3 -2 3 1 1 3 0 3 -3 2zM1138 532l-3 0 -1 -2 2 -9 2 -3 1 0 1 6 -1 6 -1 2zM908 547l-3 -1 -4 -3 -2 -4 -1 -5 1 -4 2 -4 4 -3 3 -1 2 1 2 3 2 10 -1 4 -5 7zM479 534l-3 0 -2 -3 0 -5 3 -3 2 1 2 3 0 4 -2 3zM708 535l-3 -1 -1 -4 1 -4 3 -1 2 1 1 3 0 4 -3 2zM1002 542l-3 0 -2 0 -3 -5 2 -7 2 -3 2 -1 8 2 3 2 1 3 -1 4 -1 2 -8 3zM1129 559l0 -1 0 1zM390 571l-4 -1 -3 -4 2 -5 4 -1 2 1 1 4 0 5 -2 1zM711 583l-3 0 -3 -1 -1 -2 1 -3 8 -7 5 -3 5 -5 3 -1 3 1 2 3 -1 4 -8 5 -7 7 -4 2zM1040 578l-3 0 -2 -1 -2 -3 0 -3 2 -5 4 -3 3 0 3 2 2 6 -2 3 -5 4zM335 582l-5 1 -2 -2 0 -3 2 -9 2 -2 3 -1 2 0 2 2 2 6 -1 6 -2 2 -3 0zM606 626l-1 0 -1 -6 -5 -9 -8 -13 -8 -17 -1 -4 1 -4 3 -5 3 -1 4 -1 3 3 -1 12 7 5 5 15 2 14 -3 11zM1142 587l-3 -1 0 -2 0 -6 2 -1 2 0 2 6 -1 3 -2 1zM421 586l-3 -1 -4 -3 -1 -2 0 -2 3 0 4 2 2 4 -1 2zM191 629l-7 0 -3 -5 -3 -12 0 -17 3 -1 2 1 1 8 3 6 1 6 5 9 0 3 -2 2zM318 613l-2 0 -1 -2 -1 -5 5 -9 3 -2 2 4 -1 5 -2 5 -3 4zM1124 612l-2 1 -1 -1 -2 -5 1 -2 3 0 2 2 0 3 -1 2zM505 631l-2 1 -1 -1 -1 -2 1 -8 -2 -3 -2 0 -1 -2 3 -5 3 -1 3 2 1 5 0 9 -2 5zM665 614l-1 0 0 -2 1 -2 1 -1 1 1 0 2 -2 2zM579 624l-1 0 0 -2 1 -2 1 2 -1 2zM788 667l-1 0 -2 -3 -1 -12 -4 -11 -2 -10 3 -3 2 0 2 2 2 18 4 7 0 7 -1 3 -2 2zM1092 668l-5 0 -4 1 -1 -1 1 -5 2 -5 11 -15 7 1 1 -3 0 -8 2 -4 2 -1 8 0 1 3 -2 6 -16 20 -4 9 -3 2zM205 634l-1 0 0 -2 2 0 -1 2zM333 647l-2 0 -2 -2 -2 -6 1 -4 4 -2 3 2 2 7 -1 3 -3 2zM1187 676l-21 0 -2 -7 2 -7 6 -5 12 -4 7 -6 2 -2 4 -10 2 -2 3 1 6 6 10 0 4 1 2 5 0 5 -2 4 -9 7 -9 0 -5 2 -2 2 -5 7 -5 3zM1120 667l-3 -1 -2 -5 1 -4 3 -3 3 2 1 4 -1 5 -2 2zM233 672l-3 0 -1 -2 1 -5 2 -1 2 1 1 2 -1 3 -1 2z" fill="#677ba6" fill-rule="evenodd"/><path d="M381 314l-3 -2 -2 -14 -5 -6 0 -2 2 -2 8 0 0 1 2 19 -1 4 -1 2zM538 329l-2 0 -2 -1 -1 -9 -5 -6 -3 -10 -4 -9 -1 -3 2 -3 4 0 1 1 2 10 4 6 1 9 4 4 3 7 0 2 -3 2zM893 305l-2 1 -5 -3 -2 -2 -1 -3 1 -6 6 -4 3 1 1 3 0 10 -1 3zM302 294l-2 -1 0 -2 1 0 1 1 0 2zM238 302l-2 -1 -1 -3 0 -3 2 -1 2 2 1 2 -1 3 -1 1zM604 307l-4 0 -2 -3 0 -2 5 -6 3 2 2 3 -1 3 -3 3zM947 343l-2 0 -1 -2 2 -9 0 -13 1 -4 1 -1 2 2 0 5 -2 11 0 10 -1 1zM990 335l-3 0 -3 -5 -2 -1 -2 1 -1 -1 5 -8 3 1 5 4 1 5 -3 4zM960 359l-1 1 -1 -1 2 -7 4 -4 3 0 1 2 -8 9zM953 364l-2 -1 1 -2 6 -2 1 1 -6 4zM925 390l-3 -1 -1 -2 1 -2 9 -8 4 -1 0 3 -3 5 -7 6zM1027 412l-2 0 -2 -2 -1 -2 1 -2 12 -8 7 -10 4 -2 1 4 -2 5 -3 3 -6 2 -9 12zM726 390l-1 -2 1 -2 2 2 -1 2 -1 0zM261 407l-4 0 -3 -2 -1 -4 3 -3 6 0 5 3 -1 3 -5 3zM1147 415l-1 0 -1 -1 3 0 -1 1zM389 494l-3 1 -3 -1 -2 -4 4 -17 13 -22 3 -2 4 0 5 3 1 3 -1 3 -5 11 -3 12 -10 12 -3 1zM204 465l-4 1 -4 -5 0 -2 3 -3 4 -3 7 -2 3 1 2 2 -1 4 -5 5 -5 2zM505 550l-2 1 -2 -1 -1 -2 1 -2 10 -11 11 -14 7 -5 8 -3 5 -7 4 -3 9 -3 5 -4 5 -1 12 -8 3 -3 3 -10 8 -5 8 -12 9 -3 9 -1 3 2 1 3 -3 5 -16 9 -3 6 -6 9 -12 11 -7 4 -6 0 -4 4 -6 3 -6 7 -8 3 -6 5 -8 4 -11 11 -8 5 -6 6zM402 470l2 -1 0 -3 -1 -2 -2 -1 -1 1 -1 3 1 2 2 1zM179 481l-1 0 0 -11 2 0 2 1 2 5 -2 3 -3 2zM818 506l-2 1 -3 -1 -1 -1 0 -2 5 -7 3 -8 4 -15 2 -2 3 0 3 2 2 3 1 4 0 3 -3 4 -7 4 -3 10 -4 5zM776 481l-3 0 -1 -1 0 -2 2 -2 2 0 1 1 1 2 -2 2zM1140 510l-2 -1 0 -3 0 -6 1 -3 2 1 1 4 0 4 -2 4zM728 515l-3 -1 0 -4 2 -5 3 -3 2 3 0 4 -1 3 -3 3zM379 522l-4 -2 -1 -5 1 -5 3 -2 2 -1 4 3 2 5 -2 5 -5 2zM752 556l-5 -1 -4 -5 0 -5 3 -4 8 -5 10 -2 7 -5 6 -2 7 -4 9 -2 9 -8 3 -1 1 9 -3 4 -20 13 -4 2 -6 0 -11 11 -10 5zM308 552l-3 -1 -4 -4 0 -3 1 -4 4 -4 6 -3 6 -8 3 0 3 2 3 -1 3 -11 2 -1 3 1 0 2 -1 3 -13 19 -2 2 -3 -4 -1 0 -2 2 -3 6 1 5 -1 1 -2 1zM1015 521l-2 1 -2 -1 0 -2 0 -2 3 -1 2 1 0 2 -1 2zM908 545l-3 -1 -3 -2 -2 -4 0 -5 2 -6 3 -3 3 0 2 1 2 2 1 8 -1 4 -4 6zM1138 531l-2 1 -1 -2 1 -4 2 -3 1 4 -1 4zM478 532l-2 0 -1 -2 0 -3 2 -2 2 0 1 3 -1 3 -1 1zM709 534l-3 1 -1 -3 0 -4 2 -3 2 1 2 2 0 3 -2 3zM1002 540l-3 1 -3 -2 -1 -4 1 -4 4 -3 8 1 2 3 0 5 -1 1 -4 1 -3 1zM389 569l-3 0 -1 -3 0 -3 3 -2 2 1 1 3 0 3 -2 1zM711 581l-4 1 -1 -1 0 -2 13 -8 5 -8 2 -1 3 1 1 3 -2 3 -7 4 -6 6 -4 2zM1039 577l-2 0 -2 -2 -1 -5 2 -3 3 -2 4 -1 2 2 1 5 -2 3 -5 3zM335 580l-4 1 -2 -3 2 -8 1 -2 3 -1 3 2 2 5 -2 5 -3 1zM606 615l-2 -1 -3 -5 -5 -6 -11 -20 -1 -5 0 -3 2 -4 3 -3 3 0 2 2 -1 11 1 4 7 3 4 10 2 10 0 5 -1 2zM1143 586l-3 -1 1 -5 1 -1 2 3 0 2 -1 2zM319 608l-2 1 -1 -2 5 -9 1 2 0 3 -3 5zM179 607l-1 0 0 -8 2 2 1 2 0 3 -2 1zM189 627l-4 0 -3 -3 -1 -7 1 -3 1 -1 7 9 1 3 -2 2zM505 626l-1 -1 0 -10 1 2 0 9zM784 647l-2 -2 -2 -13 1 -3 2 1 2 5 0 8 -1 4zM1109 642l-2 1 -1 -2 -1 -5 1 -4 2 -2 6 0 1 2 0 3 -6 7zM1185 676l-19 0 -1 -3 -1 -4 1 -4 2 -3 6 -5 11 -3 7 -6 2 -3 4 -9 2 -3 4 2 5 6 7 -1 6 2 2 7 0 3 -2 2 -8 7 -8 1 -7 2 -8 9 -5 3zM333 645l-2 -1 -2 -5 0 -3 2 -1 2 1 1 7 -1 2zM1092 666l-6 -2 -1 -3 8 -13 3 -3 2 0 4 3 0 2 -4 7 -3 7 -3 2zM788 662l-2 -1 -1 -4 1 -3 2 0 2 1 0 3 0 3 -2 1zM1119 666l-2 -1 -1 -4 1 -3 2 -2 2 1 1 4 -1 4 -2 1zM232 669l0 -1 0 1z" fill="#576994" fill-rule="evenodd"/><path d="M381 310l-2 -1 -1 -13 -3 -5 1 -2 1 -1 2 0 1 2 0 7 2 10 -1 3zM526 297l-2 0 -2 -3 0 -3 1 -2 2 0 1 2 0 6zM891 303l-5 -2 -2 -4 1 -4 5 -4 2 1 2 4 -1 7 -2 2zM530 310l0 -2 0 2zM948 327l-1 -6 1 -3 1 0 0 5 -1 4zM538 327l-2 0 0 -1 1 -2 1 -1 1 2 -1 2zM990 333l-2 0 -4 -7 1 -2 4 1 2 2 1 3 -2 3zM962 353l0 -2 2 -1 -2 3zM925 389l-3 -1 0 -2 7 -6 2 0 0 3 -1 2 -5 4zM1042 396l-2 1 -1 -3 2 -4 3 -2 1 1 0 3 -3 4zM261 406l-3 1 -3 -2 -1 -3 2 -3 4 -1 5 3 0 2 -4 3zM1026 411l-2 -1 0 -3 5 -4 1 1 -1 4 -1 2 -2 1zM388 493l-4 1 -2 -4 5 -17 9 -14 3 -8 3 -2 3 0 4 4 1 3 -1 3 -3 3 -4 -2 -3 0 -2 4 1 5 3 7 0 4 -6 8 -7 5zM203 464l-2 0 -3 -4 2 -4 4 -2 9 1 0 2 -2 3 -5 3 -3 1zM516 540l-2 0 0 -1 0 -5 5 -9 4 -4 6 -4 10 -3 3 -7 5 -4 8 -1 6 -5 5 0 3 -4 9 -5 2 -3 3 -9 2 -2 5 -1 3 -2 7 -13 7 -2 8 -1 3 1 1 3 -3 4 -16 7 -2 8 -5 8 -7 5 -5 6 -8 4 -6 -2 -3 5 -6 3 -5 7 -9 4 -6 5 -9 4 -10 11 -3 2zM180 479l-2 1 0 -9 1 0 2 1 1 4 -2 3zM816 504l-2 -1 0 -1 7 -13 3 -14 2 -2 4 0 4 5 0 5 -3 4 -7 3 -3 10 -2 3 -3 1zM1140 505l0 -3 1 2 -1 1zM729 512l-2 1 -1 -3 3 -5 1 1 1 2 -2 4zM381 520l-4 0 -2 -4 1 -5 3 -3 3 1 3 5 -1 4 -3 2zM797 527l-2 0 -1 -1 2 -4 3 -5 4 -2 1 2 0 5 -3 3 -4 2zM752 555l-5 -1 -3 -5 0 -5 3 -4 8 -3 10 -1 6 -6 6 -1 8 -5 4 0 3 1 1 1 -1 2 -6 7 -6 3 -5 -1 -3 2 -10 12 -10 4zM908 543l-2 0 -3 -2 -1 -3 -1 -5 2 -6 5 -2 3 2 2 7 -1 4 -4 5zM708 534l-2 0 -1 -4 1 -3 2 -1 2 2 0 2 0 2 -2 2zM320 534l-3 -2 1 -3 2 0 1 2 0 2 -1 1zM1001 538l-2 1 -2 -2 -1 -3 2 -3 4 -2 6 2 1 2 0 2 -1 1 -4 0 -3 2zM307 548l-4 -2 -1 -3 3 -4 4 -2 1 1 0 2 -3 8zM503 549l0 -1 1 0 -1 1zM388 567l-1 0 -1 -2 2 -1 1 1 -1 2zM725 569l-1 -1 0 -3 1 -1 2 -1 1 2 0 2 -3 2zM1039 575l-3 -1 0 -3 5 -6 2 0 2 2 0 3 -6 5zM336 577l-3 1 -1 -2 0 -5 2 -2 3 0 1 3 0 3 -2 2zM590 586l-3 -2 -2 -6 2 -6 3 -2 1 1 1 3 -2 12zM605 610l-8 -9 -3 -7 0 -3 5 0 3 3 3 10 1 4 -1 2zM186 624l-2 -1 0 -2 2 1 0 2zM1108 640l-1 -3 0 -4 2 -1 3 0 1 1 0 3 -3 3 -2 1zM1183 676l-16 0 -2 -4 0 -4 1 -4 3 -3 5 -3 12 -4 7 -7 3 -10 3 -3 4 1 5 6 7 0 5 1 2 5 0 4 -2 3 -6 5 -3 2 -5 -1 -8 4 -4 3 -5 6 -6 3zM1093 664l-5 -2 0 -3 4 -7 3 -3 2 -1 2 1 0 2 -6 13zM1119 664l-1 -2 1 -2 1 0 1 2 -1 2 -1 0z" fill="#4c5e88" fill-rule="evenodd"/><path d="M891 300l-3 0 -2 -3 0 -3 4 -3 2 1 1 2 -2 6zM1042 393l-1 0 1 -2 1 1 -1 1zM259 406l-3 -1 -1 -2 1 -3 2 -1 3 1 1 2 -1 3 -2 1zM1026 409l-1 -1 1 -1 0 2zM407 459l-2 0 -5 -2 -1 -3 2 -3 3 -1 3 2 2 3 -2 4zM204 461l-3 -1 -1 -1 1 -2 2 0 2 1 1 2 -2 1zM604 466l-3 0 -2 -2 1 -3 2 -2 3 -1 11 0 0 2 -1 2 -11 4zM395 485l-2 0 -5 -7 2 -7 2 -3 2 -1 2 2 3 9 -1 3 -3 4zM178 476l0 -3 1 0 0 2 -1 1zM828 487l-4 0 -1 -3 1 -6 2 -3 2 -1 4 2 2 5 -2 4 -4 2zM575 499l-4 0 -2 -2 0 -2 2 -2 9 -5 4 -11 2 -1 5 0 4 -2 1 0 0 4 -3 8 -9 5 -4 5 -5 3zM387 492l-3 0 -1 -2 1 -3 2 -2 2 4 -1 3zM561 503l-2 -2 1 -1 2 -1 1 2 -2 2zM546 516l-4 1 -1 -1 3 -9 5 -3 5 1 1 2 -1 4 -3 3 -5 2zM382 518l-3 1 -3 -3 1 -4 2 -2 2 0 2 3 0 3 -1 2zM518 537l-2 0 1 -2 3 -4 0 -4 2 -4 6 -4 13 -3 1 1 -3 4 -12 5 -9 11zM800 522l-1 -2 2 -2 1 2 -2 2zM782 534l-2 0 -1 -1 1 -4 4 -3 3 0 1 2 -1 3 -5 3zM708 533l-2 0 -1 -2 1 -3 1 -1 2 0 1 2 -1 3 -1 1zM908 541l-2 0 -2 -2 -2 -6 2 -5 4 -2 3 3 1 5 -1 3 -3 4zM772 536l-3 1 -1 -2 2 -3 4 -1 1 2 -3 3zM1000 535l-1 0 0 -2 3 -1 -2 3zM752 554l-4 0 -3 -4 -1 -4 2 -4 5 -3 6 -2 4 0 4 2 1 4 -3 6 -4 3 -7 2zM305 544l0 -3 2 0 -1 3 -1 0zM1043 569l-1 -1 1 -1 1 1 -1 1zM336 574l-2 -1 1 -2 1 1 0 2zM588 579l-1 -2 2 -2 0 3 -1 1zM602 602l-2 -2 0 -3 2 2 0 3zM1181 676l-12 0 -3 -5 1 -6 2 -3 3 -3 6 -2 7 -1 7 -7 6 -14 2 -1 2 1 6 7 7 0 5 2 1 4 0 3 -7 7 -3 1 -4 -2 -4 4 -10 5 -5 6 -7 4z" fill="#40527c" fill-rule="evenodd"/><path d="M890 297l-1 0 0 -2 1 -2 1 2 -1 2zM259 404l-2 0 0 -3 2 0 1 2 -1 1zM406 456l-2 0 -3 -1 0 -3 2 -1 3 1 1 2 -1 2zM395 479l-2 -2 0 -3 1 0 1 2 0 3zM829 486l-4 0 -1 -2 1 -6 3 -3 4 2 1 3 -1 4 -3 2zM587 488l-4 1 -1 -1 0 -5 2 -4 3 -1 6 1 1 2 -1 4 -3 2 -3 1zM575 497l-3 0 -1 -2 1 -1 4 -2 3 0 -1 3 -3 2zM549 514l-4 0 -1 -3 2 -4 4 -2 3 2 1 2 -2 3 -3 2zM380 516l-2 -2 1 -2 1 0 2 2 -1 2 -1 0zM708 532l-2 -1 1 -3 2 1 0 2 -1 1zM908 539l-2 -1 -1 -1 -1 -4 1 -4 3 -1 2 1 1 4 -1 4 -2 2zM753 553l-4 0 -3 -2 -2 -4 2 -4 3 -3 6 -2 4 0 3 1 2 4 -1 4 -3 4 -7 2zM1179 676l-9 0 -1 -1 -3 -5 1 -5 3 -3 5 -4 5 -1 5 0 2 -2 6 -6 4 -11 2 -3 2 0 2 1 5 7 6 -1 5 3 0 6 -6 6 -2 0 -3 -3 -1 0 -4 6 -11 5 -5 7 -8 4z" fill="#33456e" fill-rule="evenodd"/><path d="M828 485l-3 -1 0 -3 1 -3 3 -1 3 1 1 3 -2 3 -3 1zM589 486l-3 1 -2 -1 -1 -3 2 -3 3 0 4 1 0 3 -3 2zM549 511l-1 0 0 -1 2 -1 0 2 -1 0zM908 535l-2 -2 1 -2 1 -1 1 3 -1 2zM751 552l-3 0 -2 -3 -1 -3 2 -3 2 -2 6 -2 3 0 3 1 2 4 -1 4 -3 2 -8 2zM1179 675l-4 1 -6 -2 -2 -4 1 -5 4 -4 5 -3 10 0 6 -7 4 -12 2 -3 2 0 2 1 5 8 5 -2 4 2 0 4 -3 4 -2 1 -3 -5 -1 0 -6 11 -4 2 -8 1 -3 8 -8 4z" fill="#293b64" fill-rule="evenodd"/><path d="M828 484l-2 -1 0 -3 2 -2 2 0 2 2 0 2 -4 2zM587 485l-2 -1 0 -2 2 -1 2 1 1 1 0 1 -3 1zM752 550l-3 1 -3 -2 0 -3 1 -3 2 -1 6 -2 3 0 2 1 1 4 -1 3 -8 2zM1200 660l-3 1 -6 -1 -1 -2 4 -8 3 -11 3 -3 2 1 2 2 3 8 -4 10 -3 3zM1213 649l-2 -1 0 -1 2 -2 2 2 -2 2zM1179 674l-3 1 -5 -2 -2 -2 0 -3 1 -4 3 -3 5 -2 4 -1 5 3 1 6 -3 4 -6 3z" fill="#283552" fill-rule="evenodd"/><path d="M829 482l-2 0 0 -1 2 -2 1 2 -1 1zM750 549l-2 0 -1 -1 0 -2 1 -2 8 -3 3 2 1 2 -1 2 -5 0 -4 2zM1200 659l-5 0 -2 -2 0 -1 4 -15 3 -4 3 2 3 8 -3 9 -3 3zM1180 673l-3 1 -3 -1 -3 -2 -1 -3 1 -3 2 -3 7 -3 5 2 2 5 -2 4 -5 3z" fill="#2e374e" fill-rule="evenodd"/><path d="M750 548l-2 -1 0 -2 2 -1 2 0 -2 4zM1200 658l-3 0 -2 -3 3 -14 2 -3 3 2 2 7 -2 8 -3 3zM1180 672l-5 0 -3 -2 -1 -3 3 -5 6 -3 4 2 1 5 -1 4 -4 2z" fill="#33394a" fill-rule="evenodd"/><path d="M1200 657l-2 0 -2 -1 0 -4 2 -10 1 -2 2 -1 3 4 1 4 -3 7 -2 3zM1180 671l-5 0 -2 -4 1 -4 5 -3 3 1 2 4 -1 4 -3 2z" fill="#373a46" fill-rule="evenodd"/><path d="M1200 656l-2 0 -1 -1 0 -4 2 -9 2 -1 2 2 1 4 -2 6 -2 3zM1180 670l-4 0 -2 -3 1 -4 4 -2 3 1 1 3 -1 3 -2 2z" fill="#3a3b41" fill-rule="evenodd"/><path d="M1200 654l-2 0 0 -4 2 -6 1 -1 2 4 -3 7zM1179 669l-3 -1 -1 -2 2 -3 2 -1 2 1 1 2 -1 2 -2 2z" fill="#3c3c3c" fill-rule="evenodd"/></g></g>
<g clip-path="url(#mapclip)"><path d="M897.0 286.0h4.05v4.08h-4.05zM1103.5 286.0h4.05v4.08h-4.05zM900.7 289.8h4.05v4.08h-4.05zM1103.5 289.8h4.05v4.08h-4.05zM904.5 293.6h4.05v4.08h-4.05zM1103.5 293.6h4.05v4.08h-4.05zM908.2 297.3h4.05v4.08h-4.05zM912.0 297.3h4.05v4.08h-4.05zM915.7 301.1h4.05v4.08h-4.05zM919.5 301.1h4.05v4.08h-4.05zM927.0 304.9h4.05v4.08h-4.05zM930.8 304.9h4.05v4.08h-4.05zM934.5 304.9h4.05v4.08h-4.05zM1099.7 304.9h4.05v4.08h-4.05zM942.0 308.6h4.05v4.08h-4.05zM945.8 308.6h4.05v4.08h-4.05zM1099.7 308.6h4.05v4.08h-4.05zM949.5 312.4h4.05v4.08h-4.05zM953.3 312.4h4.05v4.08h-4.05zM1002.1 312.4h4.05v4.08h-4.05zM1005.9 312.4h4.05v4.08h-4.05zM1096.0 312.4h4.05v4.08h-4.05zM957.0 316.2h4.05v4.08h-4.05zM960.8 316.2h4.05v4.08h-4.05zM964.5 316.2h4.05v4.08h-4.05zM990.8 316.2h4.05v4.08h-4.05zM994.6 316.2h4.05v4.08h-4.05zM1009.6 316.2h4.05v4.08h-4.05zM1013.4 316.2h4.05v4.08h-4.05zM1099.7 316.2h4.05v4.08h-4.05zM1103.5 316.2h4.05v4.08h-4.05zM1107.2 316.2h4.05v4.08h-4.05zM1111.0 316.2h4.05v4.08h-4.05zM1114.8 316.2h4.05v4.08h-4.05zM1118.5 316.2h4.05v4.08h-4.05zM1122.3 316.2h4.05v4.08h-4.05zM1126.0 316.2h4.05v4.08h-4.05zM1129.8 316.2h4.05v4.08h-4.05zM1152.3 316.2h4.05v4.08h-4.05zM1156.1 316.2h4.05v4.08h-4.05zM1159.8 316.2h4.05v4.08h-4.05zM1163.6 316.2h4.05v4.08h-4.05zM968.3 320.0h4.05v4.08h-4.05zM972.1 320.0h4.05v4.08h-4.05zM975.8 320.0h4.05v4.08h-4.05zM979.6 320.0h4.05v4.08h-4.05zM983.3 320.0h4.05v4.08h-4.05zM987.1 320.0h4.05v4.08h-4.05zM1017.1 320.0h4.05v4.08h-4.05zM1103.5 320.0h4.05v4.08h-4.05zM1163.6 320.0h4.05v4.08h-4.05zM1167.3 320.0h4.05v4.08h-4.05zM1020.9 323.8h4.05v4.08h-4.05zM1024.6 323.8h4.05v4.08h-4.05zM1171.1 323.8h4.05v4.08h-4.05zM1028.4 327.5h4.05v4.08h-4.05zM1174.8 327.5h4.05v4.08h-4.05zM1032.1 331.3h4.05v4.08h-4.05zM1178.6 331.3h4.05v4.08h-4.05zM1035.9 335.1h4.05v4.08h-4.05zM1178.6 335.1h4.05v4.08h-4.05zM1039.7 338.9h4.05v4.08h-4.05zM1043.4 342.6h4.05v4.08h-4.05zM1047.2 342.6h4.05v4.08h-4.05zM1174.8 342.6h4.05v4.08h-4.05zM1054.7 346.4h4.05v4.08h-4.05zM1058.4 346.4h4.05v4.08h-4.05zM1062.2 346.4h4.05v4.08h-4.05zM1174.8 346.4h4.05v4.08h-4.05zM1065.9 350.2h4.05v4.08h-4.05zM1069.7 350.2h4.05v4.08h-4.05zM1073.4 350.2h4.05v4.08h-4.05zM1174.8 350.2h4.05v4.08h-4.05zM1077.2 353.9h4.05v4.08h-4.05zM1081.0 353.9h4.05v4.08h-4.05zM1174.8 353.9h4.05v4.08h-4.05zM1084.7 357.7h4.05v4.08h-4.05zM1088.5 357.7h4.05v4.08h-4.05zM1092.2 357.7h4.05v4.08h-4.05zM1096.0 357.7h4.05v4.08h-4.05zM1099.7 357.7h4.05v4.08h-4.05zM1103.5 357.7h4.05v4.08h-4.05zM1107.2 357.7h4.05v4.08h-4.05zM1111.0 357.7h4.05v4.08h-4.05zM1174.8 357.7h4.05v4.08h-4.05zM1111.0 361.5h4.05v4.08h-4.05zM1174.8 361.5h4.05v4.08h-4.05zM1114.8 365.3h4.05v4.08h-4.05zM1114.8 369.1h4.05v4.08h-4.05zM1118.5 372.8h4.05v4.08h-4.05zM1122.3 376.6h4.05v4.08h-4.05zM1171.1 376.6h4.05v4.08h-4.05zM1126.0 380.4h4.05v4.08h-4.05zM1171.1 380.4h4.05v4.08h-4.05zM1133.5 384.1h4.05v4.08h-4.05zM1171.1 384.1h4.05v4.08h-4.05zM1133.5 387.9h4.05v4.08h-4.05zM1171.1 387.9h4.05v4.08h-4.05zM1137.3 391.7h4.05v4.08h-4.05zM1171.1 391.7h4.05v4.08h-4.05zM1137.3 395.5h4.05v4.08h-4.05zM1174.8 395.5h4.05v4.08h-4.05zM1137.3 399.2h4.05v4.08h-4.05zM1174.8 399.2h4.05v4.08h-4.05zM1137.3 403.0h4.05v4.08h-4.05zM1178.6 403.0h4.05v4.08h-4.05zM1137.3 406.8h4.05v4.08h-4.05zM1178.6 406.8h4.05v4.08h-4.05zM1182.3 406.8h4.05v4.08h-4.05zM1141.0 410.6h4.05v4.08h-4.05zM1144.8 410.6h4.05v4.08h-4.05zM1148.5 410.6h4.05v4.08h-4.05zM1152.3 410.6h4.05v4.08h-4.05zM1156.1 410.6h4.05v4.08h-4.05zM1186.1 410.6h4.05v4.08h-4.05zM1159.8 414.4h4.05v4.08h-4.05zM1189.8 414.4h4.05v4.08h-4.05zM1163.6 418.1h4.05v4.08h-4.05zM1167.3 418.1h4.05v4.08h-4.05zM1193.6 418.1h4.05v4.08h-4.05zM1216.1 418.1h4.05v4.08h-4.05zM1219.9 418.1h4.05v4.08h-4.05zM1223.6 418.1h4.05v4.08h-4.05zM1167.3 421.9h4.05v4.08h-4.05zM1193.6 421.9h4.05v4.08h-4.05zM1197.4 421.9h4.05v4.08h-4.05zM1201.1 421.9h4.05v4.08h-4.05zM1208.6 421.9h4.05v4.08h-4.05zM1212.4 421.9h4.05v4.08h-4.05zM1216.1 421.9h4.05v4.08h-4.05zM1167.3 425.7h4.05v4.08h-4.05zM1167.3 429.4h4.05v4.08h-4.05zM1171.1 429.4h4.05v4.08h-4.05zM1178.6 433.2h4.05v4.08h-4.05zM1182.3 433.2h4.05v4.08h-4.05zM1186.1 433.2h4.05v4.08h-4.05zM1189.8 433.2h4.05v4.08h-4.05zM1223.6 433.2h4.05v4.08h-4.05zM1193.6 437.0h4.05v4.08h-4.05zM1197.4 437.0h4.05v4.08h-4.05zM1219.9 437.0h4.05v4.08h-4.05zM1201.1 440.8h4.05v4.08h-4.05zM1204.9 440.8h4.05v4.08h-4.05zM1208.6 440.8h4.05v4.08h-4.05zM1223.6 440.8h4.05v4.08h-4.05zM1208.6 444.5h4.05v4.08h-4.05zM1223.6 444.5h4.05v4.08h-4.05zM1208.6 448.3h4.05v4.08h-4.05zM1212.4 448.3h4.05v4.08h-4.05zM1216.1 448.3h4.05v4.08h-4.05zM1219.9 448.3h4.05v4.08h-4.05zM1212.4 452.1h4.05v4.08h-4.05zM1219.9 557.8h4.05v4.08h-4.05zM1223.6 557.8h4.05v4.08h-4.05zM1216.1 561.6h4.05v4.08h-4.05zM1216.1 565.3h4.05v4.08h-4.05zM1212.4 569.1h4.05v4.08h-4.05zM1208.6 576.7h4.05v4.08h-4.05zM1212.4 584.2h4.05v4.08h-4.05zM1208.6 591.8h4.05v4.08h-4.05zM1212.4 595.5h4.05v4.08h-4.05zM1216.1 595.5h4.05v4.08h-4.05zM1219.9 599.3h4.05v4.08h-4.05zM1223.6 603.1h4.05v4.08h-4.05zM1223.6 606.9h4.05v4.08h-4.05zM1212.4 610.6h4.05v4.08h-4.05zM1216.1 610.6h4.05v4.08h-4.05zM1208.6 614.4h4.05v4.08h-4.05zM1204.9 618.2h4.05v4.08h-4.05zM1204.9 622.0h4.05v4.08h-4.05zM1204.9 625.8h4.05v4.08h-4.05zM1204.9 629.5h4.05v4.08h-4.05zM1204.9 633.3h4.05v4.08h-4.05zM1204.9 637.1h4.05v4.08h-4.05zM1208.6 640.8h4.05v4.08h-4.05zM1208.6 644.6h4.05v4.08h-4.05zM1208.6 648.4h4.05v4.08h-4.05zM1212.4 652.2h4.05v4.08h-4.05zM1216.1 652.2h4.05v4.08h-4.05zM1216.1 656.0h4.05v4.08h-4.05zM1219.9 656.0h4.05v4.08h-4.05zM1223.6 659.7h4.05v4.08h-4.05z" fill="#fff"/><g fill="#fff" stroke="#fff" stroke-width="3" stroke-linejoin="round"><path d="M897 284 913 299 941 307 957 315 975 320 983 321 999 315 1007 314 1019 319 1033 331 1049 344 1063 348 1081 354 1093 359 1109 359 1112 356 1116 362 1113 363 1125 377 1140 390 1141 399 1139.5 403 1141.5 409 1149 412 1154 409 1157 412 1169 419 1172 424 1171 430 1177 432 1182 435.5 1186 434 1199 437 1205 441.5 1212 442 1213.5 450.5 1227 446 1227 444 1220 438 1227 433 1227 421.5 1206 427 1194 423 1191 416 1180 409 1170 390 1172 381 1173 370 1175 349 1178 335 1175 328 1163 320 1151 318 1135 318 1123 320 1113 319 1105 322 1093 316 1101 309 1104 284Z"/><path d="M1227 561 1220 563 1219 570 1214 574 1213 578 1215 585 1213 594 1220 597 1227 604Z"/><path d="M1227 610 1213 616 1208 623 1207 627 1209 638 1213 644 1210 648 1216 653 1227 659Z"/></g><rect x="1049" y="568" width="18" height="8" fill="#fff"/><g fill="#808080" stroke="#000" stroke-width="1.1" stroke-linejoin="round"><path d="M897 284 913 299 941 307 957 315 975 320 983 321 999 315 1007 314 1019 319 1033 331 1049 344 1063 348 1081 354 1093 359 1109 359 1112 356 1116 362 1113 363 1125 377 1140 390 1141 399 1139.5 403 1141.5 409 1149 412 1154 409 1157 412 1169 419 1172 424 1171 430 1177 432 1182 435.5 1186 434 1199 437 1205 441.5 1212 442 1213.5 450.5 1227 446 1227 444 1220 438 1227 433 1227 421.5 1206 427 1194 423 1191 416 1180 409 1170 390 1172 381 1173 370 1175 349 1178 335 1175 328 1163 320 1151 318 1135 318 1123 320 1113 319 1105 322 1093 316 1101 309 1104 284Z"/><path d="M1227 561 1220 563 1219 570 1214 574 1213 578 1215 585 1213 594 1220 597 1227 604Z"/><path d="M1227 610 1213 616 1208 623 1207 627 1209 638 1213 644 1210 648 1216 653 1227 659Z"/><path d="M1055 558 1063 567 1064 572 1057 576 1053 572 1059 569 1055 563Z"/></g></g>
<g stroke="#000" stroke-width="1.25" stroke-dasharray="1.25 2.75" stroke-dashoffset="-1.6" fill="none"><line x1="178" y1="332" x2="1225" y2="332" /><line x1="178" y1="408" x2="1225" y2="408" /><line x1="178" y1="483.5" x2="1225" y2="483.5" /><line x1="178" y1="559" x2="1225" y2="559" /><line x1="178" y1="634" x2="1225" y2="634" /><line x1="401" y1="288" x2="401" y2="677" /><line x1="626.3" y1="288" x2="626.3" y2="677" /><line x1="851.7" y1="288" x2="851.7" y2="677" /><line x1="1077" y1="288" x2="1077" y2="677" /></g>
<rect x="176" y="286" width="1051" height="393" fill="none" stroke="#000" stroke-width="4"/>
<g fill="#000"><rect x="399" y="288" width="4" height="8"/><rect x="399" y="669" width="4" height="8"/><rect x="624.3" y="288" width="4" height="8"/><rect x="624.3" y="669" width="4" height="8"/><rect x="849.7" y="288" width="4" height="8"/><rect x="849.7" y="669" width="4" height="8"/><rect x="1075" y="288" width="4" height="8"/><rect x="1075" y="669" width="4" height="8"/><rect x="178" y="330" width="8" height="4"/><rect x="1217" y="330" width="8" height="4"/><rect x="178" y="406" width="8" height="4"/><rect x="1217" y="406" width="8" height="4"/><rect x="178" y="481.5" width="8" height="4"/><rect x="1217" y="481.5" width="8" height="4"/><rect x="178" y="557" width="8" height="4"/><rect x="1217" y="557" width="8" height="4"/><rect x="178" y="632" width="8" height="4"/><rect x="1217" y="632" width="8" height="4"/></g>
<g font-family="Liberation Sans, sans-serif" fill="#000"><text x="171.5" y="340.7" text-anchor="end" font-size="17">15<tspan font-size="13" dx="-0.5" dy="-7.5">o</tspan><tspan dx="0.9" dy="7.5">N</tspan></text><text x="171.5" y="416.7" text-anchor="end" font-size="17">10<tspan font-size="13" dx="-0.5" dy="-7.5">o</tspan><tspan dx="0.9" dy="7.5">N</tspan></text><text x="171.5" y="492.2" text-anchor="end" font-size="17">5<tspan font-size="13" dx="-0.5" dy="-7.5">o</tspan><tspan dx="0.9" dy="7.5">N</tspan></text><text x="171.5" y="567.7" text-anchor="end" font-size="17">0<tspan font-size="13" dx="-0.5" dy="-7.5">o</tspan><tspan dx="0.9" dy="7.5"></tspan></text><text x="171.5" y="642.7" text-anchor="end" font-size="17">5<tspan font-size="13" dx="-0.5" dy="-7.5">o</tspan><tspan dx="0.9" dy="7.5">S</tspan></text><text x="177.5" y="701" text-anchor="middle" font-size="17">150<tspan font-size="13" dx="-0.5" dy="-7.5">o</tspan><tspan dx="0.9" dy="7.5">W</tspan></text><text x="402.5" y="701" text-anchor="middle" font-size="17">135<tspan font-size="13" dx="-0.5" dy="-7.5">o</tspan><tspan dx="0.9" dy="7.5">W</tspan></text><text x="627.8" y="701" text-anchor="middle" font-size="17">120<tspan font-size="13" dx="-0.5" dy="-7.5">o</tspan><tspan dx="0.9" dy="7.5">W</tspan></text><text x="853.2" y="701" text-anchor="middle" font-size="17">105<tspan font-size="13" dx="-0.5" dy="-7.5">o</tspan><tspan dx="0.9" dy="7.5">W</tspan></text><text x="1078.5" y="701" text-anchor="middle" font-size="17">90<tspan font-size="13" dx="-0.5" dy="-7.5">o</tspan><tspan dx="0.9" dy="7.5">W</tspan></text></g>
<text x="706" y="235" text-anchor="middle" font-family="Liberation Sans, sans-serif" font-weight="bold" font-size="31.4" fill="#000">AVHRR Zonal Sea Surface Temperature Gradient</text>
<text x="701.5" y="275" text-anchor="middle" font-family="Liberation Sans, sans-serif" font-weight="bold" font-size="25" fill="#000">2016-09-23</text>
<defs><linearGradient id="cb" x1="0" x2="1" y1="0" y2="0"><stop offset="0.0" stop-color="#3c3c3c"/><stop offset="0.082" stop-color="#363a48"/><stop offset="0.167" stop-color="#283552"/><stop offset="0.185" stop-color="#243660"/><stop offset="0.233" stop-color="#33456e"/><stop offset="0.314" stop-color="#586a95"/><stop offset="0.352" stop-color="#7186b0"/><stop offset="0.39" stop-color="#9aacd0"/><stop offset="0.418" stop-color="#bccde6"/><stop offset="0.428" stop-color="#cde0f5"/><stop offset="0.456" stop-color="#e0ebe8"/><stop offset="0.466" stop-color="#e4eee4"/><stop offset="0.5" stop-color="#eeeeed"/><stop offset="0.538" stop-color="#fbebd0"/><stop offset="0.581" stop-color="#eedfdb"/><stop offset="0.595" stop-color="#ecd0c0"/><stop offset="0.605" stop-color="#e8c0a0"/><stop offset="0.624" stop-color="#e4ae78"/><stop offset="0.643" stop-color="#e09a50"/><stop offset="0.662" stop-color="#dd8420"/><stop offset="0.689" stop-color="#e06a08"/><stop offset="0.757" stop-color="#f52c00"/><stop offset="0.814" stop-color="#ff0000"/><stop offset="0.895" stop-color="#d80c18"/><stop offset="1.0" stop-color="#a51530"/></linearGradient></defs>
<rect x="174.5" y="711.5" width="1050" height="19" fill="url(#cb)" stroke="#1a1a1a" stroke-width="1"/>
<g stroke="#262626" stroke-width="1"><line x1="349.5" y1="720" x2="349.5" y2="730.5"/><line x1="524.5" y1="720" x2="524.5" y2="730.5"/><line x1="699.5" y1="720" x2="699.5" y2="730.5"/><line x1="874.5" y1="720" x2="874.5" y2="730.5"/><line x1="1049.5" y1="720" x2="1049.5" y2="730.5"/></g>
<g font-family="Liberation Sans, sans-serif" font-size="16.5" fill="#262626"><text x="174.5" y="755" text-anchor="middle">-0.03</text><text x="349.5" y="755" text-anchor="middle">-0.02</text><text x="524.5" y="755" text-anchor="middle">-0.01</text><text x="699.5" y="755" text-anchor="middle">0</text><text x="874.5" y="755" text-anchor="middle">0.01</text><text x="1049.5" y="755" text-anchor="middle">0.02</text><text x="1224.5" y="755" text-anchor="middle">0.03</text><text x="700.5" y="779" text-anchor="middle">°C/km</text></g>
</svg>
</body></html>
